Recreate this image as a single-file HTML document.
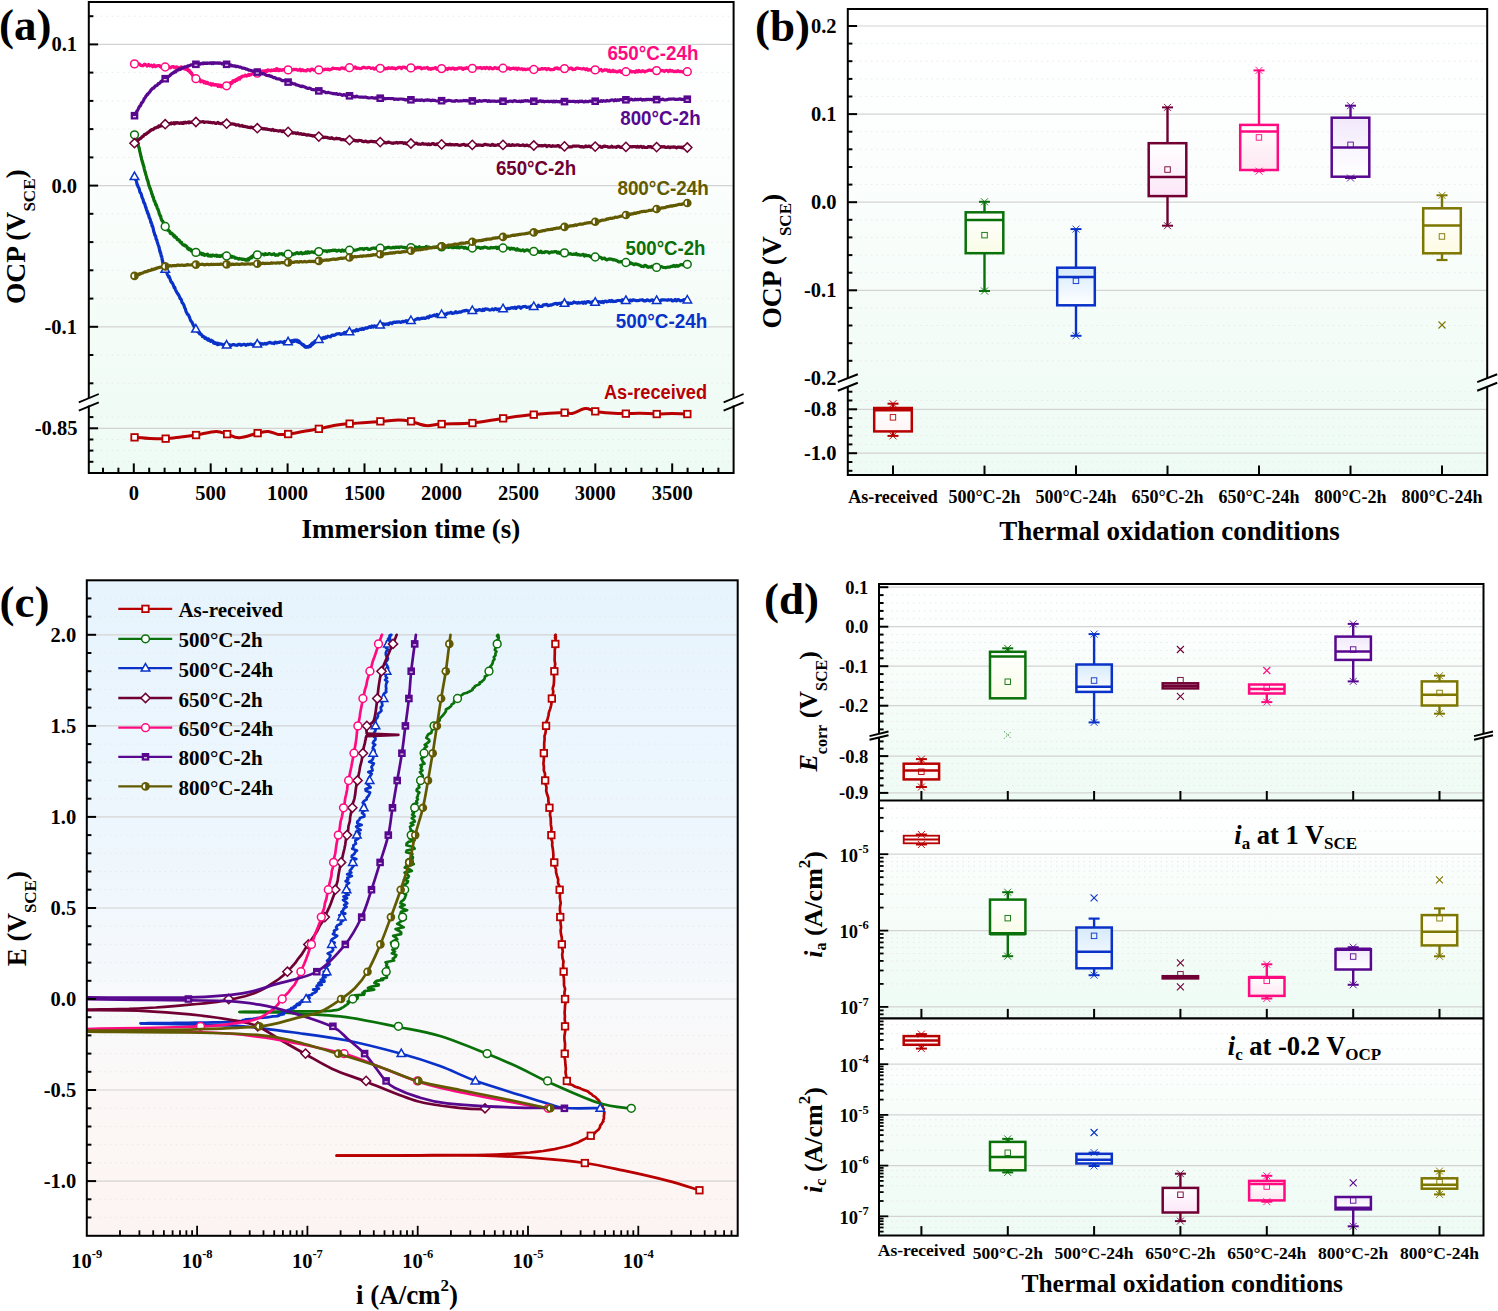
<!DOCTYPE html><html><head><meta charset="utf-8"><title>figure</title><style>html,body{margin:0;padding:0;background:#fff;overflow:hidden}svg{display:block}</style></head><body>
<svg width="1498" height="1311" viewBox="0 0 1498 1311">
<rect width="1498" height="1311" fill="#fff"/>
<defs>
<clipPath id="clipC"><rect x="86.8" y="580.3" width="650.9" height="655.5"/></clipPath>
<linearGradient id="gA" x1="0" y1="0" x2="0" y2="1"><stop offset="0" stop-color="#ffffff"/><stop offset="0.3" stop-color="#fcfefd"/><stop offset="1" stop-color="#eefbf4"/></linearGradient>
<linearGradient id="gB" x1="0" y1="0" x2="0" y2="1"><stop offset="0" stop-color="#ffffff"/><stop offset="0.3" stop-color="#fcfefd"/><stop offset="1" stop-color="#eefbf4"/></linearGradient>
<linearGradient id="gC" x1="0" y1="0" x2="0" y2="1"><stop offset="0" stop-color="#e7f4fd"/><stop offset="0.45" stop-color="#eff7fd"/><stop offset="0.66" stop-color="#f8f9fb"/><stop offset="0.8" stop-color="#fcf7f6"/><stop offset="1" stop-color="#fcf4f2"/></linearGradient>
<linearGradient id="gD1" x1="0" y1="0" x2="0" y2="1"><stop offset="0" stop-color="#ffffff"/><stop offset="1" stop-color="#eefbf4"/></linearGradient>
<linearGradient id="gD2" x1="0" y1="0" x2="0" y2="1"><stop offset="0" stop-color="#ffffff"/><stop offset="1" stop-color="#eefbf4"/></linearGradient>
<linearGradient id="gD3" x1="0" y1="0" x2="0" y2="1"><stop offset="0" stop-color="#ffffff"/><stop offset="1" stop-color="#eefbf4"/></linearGradient>
<linearGradient id="bRed" x1="0" y1="0" x2="0" y2="1"><stop offset="0" stop-color="#ffffff"/><stop offset="1" stop-color="#fff4f4"/></linearGradient>
<linearGradient id="bGreen" x1="0" y1="0" x2="0" y2="1"><stop offset="0" stop-color="#ffffff"/><stop offset="1" stop-color="#f9fce6"/></linearGradient>
<linearGradient id="bBlue" x1="0" y1="0" x2="0" y2="1"><stop offset="0" stop-color="#d6eafb"/><stop offset="1" stop-color="#ffffff"/></linearGradient>
<linearGradient id="bMaroon" x1="0" y1="0" x2="0" y2="1"><stop offset="0" stop-color="#ffffff"/><stop offset="1" stop-color="#fce6f8"/></linearGradient>
<linearGradient id="bPink" x1="0" y1="0" x2="0" y2="1"><stop offset="0" stop-color="#ffffff"/><stop offset="1" stop-color="#fde6f1"/></linearGradient>
<linearGradient id="bPurple" x1="0" y1="0" x2="0" y2="1"><stop offset="0" stop-color="#f1e9fb"/><stop offset="1" stop-color="#ffffff"/></linearGradient>
<linearGradient id="bOlive" x1="0" y1="0" x2="0" y2="1"><stop offset="0" stop-color="#ffffff"/><stop offset="1" stop-color="#fdfbe3"/></linearGradient>
</defs>
<rect x="88.8" y="2.0" width="644.8000000000001" height="470.9" fill="url(#gA)"/>
<line x1="89.8" y1="16.2" x2="732.6" y2="16.2" stroke="#e9e9e9" stroke-width="1" stroke-dasharray="1.5 4"/>
<line x1="89.8" y1="72.6" x2="732.6" y2="72.6" stroke="#e9e9e9" stroke-width="1" stroke-dasharray="1.5 4"/>
<line x1="89.8" y1="100.9" x2="732.6" y2="100.9" stroke="#e9e9e9" stroke-width="1" stroke-dasharray="1.5 4"/>
<line x1="89.8" y1="129.1" x2="732.6" y2="129.1" stroke="#e9e9e9" stroke-width="1" stroke-dasharray="1.5 4"/>
<line x1="89.8" y1="157.4" x2="732.6" y2="157.4" stroke="#e9e9e9" stroke-width="1" stroke-dasharray="1.5 4"/>
<line x1="89.8" y1="213.8" x2="732.6" y2="213.8" stroke="#e9e9e9" stroke-width="1" stroke-dasharray="1.5 4"/>
<line x1="89.8" y1="242.1" x2="732.6" y2="242.1" stroke="#e9e9e9" stroke-width="1" stroke-dasharray="1.5 4"/>
<line x1="89.8" y1="270.3" x2="732.6" y2="270.3" stroke="#e9e9e9" stroke-width="1" stroke-dasharray="1.5 4"/>
<line x1="89.8" y1="298.6" x2="732.6" y2="298.6" stroke="#e9e9e9" stroke-width="1" stroke-dasharray="1.5 4"/>
<line x1="89.8" y1="355" x2="732.6" y2="355" stroke="#e9e9e9" stroke-width="1" stroke-dasharray="1.5 4"/>
<line x1="89.8" y1="383.3" x2="732.6" y2="383.3" stroke="#e9e9e9" stroke-width="1" stroke-dasharray="1.5 4"/>
<line x1="89.8" y1="417.1" x2="732.6" y2="417.1" stroke="#e9e9e9" stroke-width="1" stroke-dasharray="1.5 4"/>
<line x1="89.8" y1="439.5" x2="732.6" y2="439.5" stroke="#e9e9e9" stroke-width="1" stroke-dasharray="1.5 4"/>
<line x1="89.8" y1="450.6" x2="732.6" y2="450.6" stroke="#e9e9e9" stroke-width="1" stroke-dasharray="1.5 4"/>
<line x1="89.8" y1="461.8" x2="732.6" y2="461.8" stroke="#e9e9e9" stroke-width="1" stroke-dasharray="1.5 4"/>
<line x1="89.8" y1="44.4" x2="732.6" y2="44.4" stroke="#d3d3d3" stroke-width="1.2" />
<line x1="89.8" y1="185.6" x2="732.6" y2="185.6" stroke="#d3d3d3" stroke-width="1.2" />
<line x1="89.8" y1="326.8" x2="732.6" y2="326.8" stroke="#d3d3d3" stroke-width="1.2" />
<line x1="89.8" y1="428.3" x2="732.6" y2="428.3" stroke="#d3d3d3" stroke-width="1.2" />
<path d="M134.6 437.3C137.2 437.5 144.8 438.3 150 438.5C155.2 438.7 160.5 438.9 165.7 438.7C170.9 438.4 175.9 437.6 181 437C186.1 436.4 190.2 435.9 196.1 435C201.9 434.1 210.9 431.5 216.1 431.4C221.3 431.3 223.3 433.1 227.2 434.2C231 435.2 234.1 437.9 239.2 437.7C244.3 437.5 252.8 434.2 257.6 433.2C262.4 432.1 264.8 431.2 268.2 431.4C271.6 431.6 274.9 434 278.2 434.4C281.5 434.8 284.1 434.5 288.2 434C292.3 433.5 297.9 432.4 303 431.5C308.1 430.6 313.7 429.8 318.9 428.8C324.1 427.8 328.9 426.4 334 425.5C339.1 424.6 342 424.3 349.7 423.6C357.4 422.9 372.3 422 380.4 421.4C388.5 420.8 393.3 420 398.4 420C403.5 420 406.4 420.5 411 421.4C415.6 422.3 420.9 425.2 426 425.6C431.1 426 433.9 424.4 441.7 424C449.4 423.6 462.3 423.9 472.5 423C482.7 422.1 492.9 419.8 503.1 418.4C513.3 417 523.5 415.6 533.8 414.6C544 413.6 558.2 412.8 564.6 412.6C571 412.4 568.5 414.2 572 413.5C575.5 412.8 581.4 409 585.3 408.6C589.2 408.2 591.2 410.7 595.3 411.4C599.4 412.1 604.9 412.6 610 413C615.1 413.4 620.9 413.6 625.9 413.6C630.9 413.6 634.9 413.1 640 413.2C645.1 413.3 651.5 413.9 656.8 414C662.1 414.1 666.9 413.5 672 413.5C677.1 413.5 684.8 413.9 687.4 414" fill="none" stroke="#b80000" stroke-width="3.0" stroke-linejoin="round" stroke-linecap="round" />
<rect x="131.3" y="434.1" width="6.5" height="6.5" fill="#fff" stroke="#b80000" stroke-width="1.8"/>
<rect x="162.4" y="435.4" width="6.5" height="6.5" fill="#fff" stroke="#b80000" stroke-width="1.8"/>
<rect x="192.8" y="431.8" width="6.5" height="6.5" fill="#fff" stroke="#b80000" stroke-width="1.8"/>
<rect x="223.9" y="430.9" width="6.5" height="6.5" fill="#fff" stroke="#b80000" stroke-width="1.8"/>
<rect x="254.4" y="429.9" width="6.5" height="6.5" fill="#fff" stroke="#b80000" stroke-width="1.8"/>
<rect x="284.9" y="430.8" width="6.5" height="6.5" fill="#fff" stroke="#b80000" stroke-width="1.8"/>
<rect x="315.6" y="425.6" width="6.5" height="6.5" fill="#fff" stroke="#b80000" stroke-width="1.8"/>
<rect x="346.4" y="420.4" width="6.5" height="6.5" fill="#fff" stroke="#b80000" stroke-width="1.8"/>
<rect x="377.1" y="418.1" width="6.5" height="6.5" fill="#fff" stroke="#b80000" stroke-width="1.8"/>
<rect x="407.8" y="418.1" width="6.5" height="6.5" fill="#fff" stroke="#b80000" stroke-width="1.8"/>
<rect x="438.4" y="420.8" width="6.5" height="6.5" fill="#fff" stroke="#b80000" stroke-width="1.8"/>
<rect x="469.2" y="419.8" width="6.5" height="6.5" fill="#fff" stroke="#b80000" stroke-width="1.8"/>
<rect x="499.9" y="415.1" width="6.5" height="6.5" fill="#fff" stroke="#b80000" stroke-width="1.8"/>
<rect x="530.5" y="411.4" width="6.5" height="6.5" fill="#fff" stroke="#b80000" stroke-width="1.8"/>
<rect x="561.4" y="409.4" width="6.5" height="6.5" fill="#fff" stroke="#b80000" stroke-width="1.8"/>
<rect x="592" y="408.1" width="6.5" height="6.5" fill="#fff" stroke="#b80000" stroke-width="1.8"/>
<rect x="622.6" y="410.4" width="6.5" height="6.5" fill="#fff" stroke="#b80000" stroke-width="1.8"/>
<rect x="653.5" y="410.8" width="6.5" height="6.5" fill="#fff" stroke="#b80000" stroke-width="1.8"/>
<rect x="684.1" y="410.8" width="6.5" height="6.5" fill="#fff" stroke="#b80000" stroke-width="1.8"/>
<path d="M134.5 134.8L134.6 134.7L134.6 134.5L134.7 135.6L134.8 134.8L134.9 135.8L135 135.7L135.1 135.4L135.2 136.4L135.3 135.9L135.4 136.8L135.6 136.5L135.7 136.8L135.8 137.7L135.9 138.7L136.1 137.8L136.2 138.3L136.4 139.4L136.5 140.3L136.6 140L136.8 140.2L137 141.6L137.1 140.4L137.3 142.3L137.4 141.8L137.6 142.1L137.7 142.6L137.9 143.4L138 144.9L138.2 144.4L138.4 145.7L138.5 146.4L138.7 146.6L138.9 147.6L139 147.4L139.2 148.1L139.4 149.1L139.6 150.7L139.7 151L139.9 151.6L140.1 152.8L140.3 153.4L140.5 153.9L140.7 155.6L140.9 156.2L141.1 156.3L141.3 157.7L141.5 158.4L141.7 159.9L142 160.5L142.2 160.6L142.4 162.6L142.6 162.1L142.9 163.4L143.1 164.9L143.4 164.8L143.6 166.4L143.9 166.6L144.2 168.6L144.5 169.8L144.7 170.5L145 172L145.3 172.1L145.6 173.8L145.9 174.7L146.2 175.7L146.5 176.5L146.8 178.2L147.1 179.4L147.4 179.7L147.7 181L148 181L148.3 183.1L148.6 184L148.9 185.6L149.2 186.2L149.4 186.2L149.7 187.3L150 188.7L150.3 188.4L150.6 190L150.8 190.4L151.1 191.1L151.4 191.8L151.7 193.8L151.9 193.5L152.2 194.5L152.5 195.5L152.8 197L153 196.4L153.3 197.8L153.6 198.7L153.9 200L154.1 200.6L154.4 201.4L154.7 201.1L155 202L155.2 202.6L155.5 204.2L155.8 205.1L156.1 204.4L156.4 205.2L156.6 206L156.9 206.7L157.2 207.9L157.5 208.8L157.8 209L158.1 209.3L158.4 210.8L158.7 211.4L159 212.5L159.3 214L159.6 214.3L159.8 214.7L160.1 215.7L160.4 216.5L160.7 216.2L161 218.4L161.3 219L161.6 219.9L161.9 220.5L162.2 220.5L162.6 221.2L162.9 221.4L163.2 223L163.5 222.7L163.8 223.3L164.2 224.2L164.5 224.8L164.9 225.7L165.2 225.7L165.6 226.2L165.9 227L166.3 227.4L166.7 228.4L167 228.3L167.4 230.2L167.8 230.2L168.2 229.8L168.6 230.4L169 231L169.4 231.4L169.8 231.4L170.2 233L170.6 233.6L171 233.1L171.4 233.5L171.8 233.2L172.2 233.6L172.6 234.3L173 234.6L173.4 235.9L173.9 235.1L174.3 235.2L174.7 237.2L175.1 236.9L175.5 236.6L175.9 237.7L176.3 237.2L176.8 238.4L177.2 239.6L177.6 239.8L178 239.9L178.5 239.6L178.9 240.2L179.3 240.3L179.8 241.7L180.2 241.7L180.6 242.5L181.1 242.1L181.5 242.4L182 243.7L182.4 244.4L182.8 244.6L183.3 244.9L183.7 245.2L184.1 245.5L184.5 244.9L184.9 245.8L185.4 245.8L185.8 245.6L186.2 245.9L186.6 246.6L186.9 246.9L187.3 247.9L187.7 248.6L188 248L188.4 249.1L188.7 249.4L189 249.6L189.4 248.8L189.7 248.8L190 249L190.3 249.2L190.6 249.4L191 250.3L191.3 251L191.6 251.1L192 250.7L192.3 251.1L192.7 251.6L193 250.5L193.4 251.7L193.8 252.3L194.2 252.2L194.6 252.3L195 252L195.5 251.7L195.9 252.9L196.4 252.3L196.9 253.2L197.4 253.7L198 252.9L198.5 253L199.1 254.1L199.6 253.9L200.2 253L200.8 253.1L201.4 253.3L202 254.7L202.6 254.7L203.2 253.7L203.8 254.9L204.5 255.3L205.1 254.9L205.7 254.5L206.4 254.9L207 254.3L207.6 254.2L208.2 255.9L208.9 255.4L209.5 255.3L210.1 256.1L210.7 255.3L211.3 256.1L211.9 256.1L212.4 255.1L213 255.2L213.6 255.3L214.2 255.3L214.7 255.9L215.3 255.3L215.9 255.6L216.4 255.1L217 256.4L217.5 255.5L218.1 255.7L218.7 255.9L219.2 256.4L219.8 255.6L220.4 256.4L221 255.7L221.6 255.8L222.2 255.8L222.8 254.9L223.4 255.7L224 255.2L224.7 255L225.3 256.4L226 255.4L226.6 256L227.3 256.5L228 256.3L228.8 256L229.5 256.5L230.3 256.7L231.1 257.3L231.9 256.3L232.7 257.2L233.6 256.9L234.4 257.1L235.2 258.2L236.1 257.9L236.9 258.2L237.7 258.7L238.6 259.1L239.4 258.5L240.2 259L241 258.9L241.8 259.1L242.5 259.5L243.3 259.2L244 259.4L244.7 259.4L245.4 260.2L246 259.8L246.6 260.1L247.2 260.2L247.7 259L248.1 259.4L248.6 260L248.9 259.6L249.3 258.3L249.6 258.1L249.9 258.5L250.2 257.6L250.5 257.7L250.8 257.2L251 258L251.3 257.9L251.6 257.9L251.9 256.4L252.2 257.1L252.5 256.8L252.9 255.7L253.3 256.7L253.7 256.7L254.2 255.2L254.7 256.2L255.3 255.1L255.9 255.1L256.6 255.8L257.3 255.5L258.2 254.2L259.1 254.6L260 254.7L261 254.3L262 254L263.1 254.2L264.2 254.9L265.3 253.6L266.5 254.5L267.7 254.3L268.9 253.6L270.2 254.1L271.5 254.6L272.7 254.4L274 253.7L275.3 255.3L276.6 254.9L278 255.2L279.3 253.7L280.6 254L281.9 253.6L283.1 254.8L284.4 254L285.6 253.7L286.9 254.1L288.1 254.9L289.2 254.7L290.4 253.6L291.6 253.4L292.8 254.6L294 253.9L295.1 254L296.3 252.9L297.5 252.7L298.7 253.7L299.9 253.2L301.1 252.4L302.2 253.8L303.4 253.2L304.6 253.3L305.8 252L307 253.2L308.1 251.7L309.3 253L310.5 252.2L311.7 251.9L312.9 252.1L314 252.7L315.2 251.5L316.4 251.1L317.6 251.7L318.8 251.2L320 250.9L321.1 250.9L322.3 250.6L323.5 250.8L324.7 250.9L325.9 250.9L327 251.6L328.2 250.7L329.4 251.1L330.6 250.5L331.8 250.7L332.9 250.1L334.1 250.4L335.3 250L336.5 251.2L337.7 250.8L338.9 250.2L340 250.6L341.2 251.3L342.4 249.9L343.6 251L344.8 250.3L345.9 250.4L347.1 250.9L348.3 250.1L349.5 250.2L350.7 250.5L351.8 250.9L353 249.7L354.2 250.5L355.4 250.2L356.6 250L357.8 249.5L358.9 249.3L360.1 248.7L361.3 248.8L362.5 248.6L363.7 249.6L364.8 248.7L366 248.5L367.2 248.3L368.4 249.5L369.6 249.4L370.7 249L371.9 248.3L373.1 248.1L374.3 248.2L375.5 248.4L376.7 247.8L377.8 248.2L379 247.8L380.2 249L381.4 249L382.6 248.2L383.7 247.6L384.9 248.8L386.1 247.7L387.3 247.7L388.5 247.1L389.6 247.7L390.8 247.8L392 247.9L393.2 247.3L394.4 247.8L395.6 247L396.7 247.4L397.9 247.1L399.1 247.6L400.3 247L401.5 246.9L402.6 247.4L403.8 247.3L405 247.8L406.2 247.7L407.4 248.1L408.5 247.9L409.7 248L410.9 248.2L412.1 247.4L413.3 247.2L414.5 248.3L415.6 246.9L416.8 247.8L418 247.7L419.2 246.6L420.4 247.9L421.5 248L422.7 247.5L423.9 247.6L425.1 247.7L426.3 246.5L427.4 247.1L428.6 247.1L429.8 247.6L431 247.5L432.2 247.5L433.4 247.1L434.5 247.6L435.7 247.2L436.9 247.2L438.1 246.4L439.3 246.1L440.4 246.3L441.6 246.7L442.8 246.2L444 247.5L445.2 247.1L446.3 247.2L447.5 247.2L448.7 247.4L449.9 247.1L451.1 246.3L452.3 247.7L453.4 247.7L454.6 247.3L455.8 247.4L457 247.7L458.2 246.7L459.3 247.9L460.5 247.2L461.7 246.9L462.9 247.3L464.1 248.1L465.2 247.3L466.4 248.2L467.6 248.7L468.8 247.9L470 247.7L471.2 247.9L472.3 248.3L473.5 248.5L474.7 248.2L475.9 248.3L477.1 247.3L478.2 247.4L479.4 247.6L480.6 248.4L481.8 247.6L483 248.1L484.1 247.1L485.3 247.2L486.5 247.5L487.7 248.1L488.9 248.2L490.1 248.1L491.2 247.4L492.4 247.8L493.6 247.7L494.8 247.7L496 247.1L497.1 248.5L498.3 247.3L499.5 248.7L500.7 248.6L501.9 247.1L503 247.9L504.2 248.6L505.4 249L506.6 248.2L507.8 248L509 248L510.1 249.3L511.3 248.2L512.5 249L513.7 248.4L514.9 249.2L516 250.1L517.2 248.8L518.4 250.2L519.6 249.8L520.8 250.6L521.9 250.4L523.1 249.8L524.3 251.1L525.5 250.5L526.7 249.9L527.8 250L529 250.9L530.2 251L531.4 250.9L532.6 250.7L533.8 251.1L534.9 251.2L536.1 252.1L537.3 250.8L538.5 252.1L539.7 252.3L540.8 251.2L542 252.6L543.2 252.3L544.4 252.6L545.6 251.6L546.7 251.8L547.9 251.9L549.1 253L550.3 252.3L551.5 251.9L552.7 252.1L553.8 251.9L555 251.5L556.2 251.7L557.4 253L558.6 252.1L559.7 253.3L560.9 252.2L562.1 252.3L563.3 252.8L564.5 252.4L565.6 252.8L566.8 253.9L568 253.9L569.2 253.9L570.4 253.7L571.6 254.3L572.7 254.5L573.9 254L575.1 254.4L576.3 253.5L577.5 254.8L578.6 254.5L579.8 255.1L581 255.1L582.2 254.7L583.4 254.4L584.5 256.1L585.7 254.9L586.9 255.7L588.1 255.6L589.3 255.7L590.5 256.7L591.6 257.3L592.8 256.2L594 257.1L595.2 256.7L596.4 257.3L597.5 257.2L598.7 257L599.9 257.2L601.1 257.5L602.3 258.9L603.4 258.4L604.6 258.1L605.8 259.5L607 259.9L608.2 259.2L609.4 258.9L610.5 259.2L611.7 259.2L612.9 259.9L614.1 259.7L615.3 260.1L616.4 260.4L617.6 261.1L618.8 261.9L620 261.9L621.2 261.5L622.3 261.7L623.5 262.1L624.7 262.1L625.9 262.2L627.1 262L628.3 262.5L629.4 263.9L630.6 262.7L631.8 263.6L633 264.1L634.2 264.7L635.3 263.8L636.5 264.2L637.7 264.4L638.9 264.9L640.1 265.2L641.2 266.3L642.4 266.3L643.6 266.6L644.8 265.3L646 265.5L647.2 266.9L648.3 267.3L649.5 266.8L650.7 267.1L651.9 266.2L653.1 267L654.2 268L655.4 267.9L656.6 268L657.8 268.2L659.1 267L660.3 266.7L661.6 266.7L663 267.3L664.3 267.5L665.7 267.8L667.1 267.3L668.4 267L669.8 267.1L671.2 266.4L672.5 266.4L673.9 265.4L675.2 266.5L676.5 265.4L677.7 266.3L679 265.7L680.1 265L681.3 264.5L682.3 264.5L683.3 265.1L684.3 265L685.2 263.9L686 263.7L686.7 264.4L687.3 264.3" fill="none" stroke="#0a700a" stroke-width="3.2" stroke-linejoin="round" stroke-linecap="round" />
<circle cx="134.5" cy="134.8" r="3.9" fill="#fff" stroke="#0a700a" stroke-width="1.5"/>
<circle cx="165.2" cy="226.5" r="3.9" fill="#fff" stroke="#0a700a" stroke-width="1.5"/>
<circle cx="195.9" cy="252.4" r="3.9" fill="#fff" stroke="#0a700a" stroke-width="1.5"/>
<circle cx="226.6" cy="256" r="3.9" fill="#fff" stroke="#0a700a" stroke-width="1.5"/>
<circle cx="257.3" cy="254.9" r="3.9" fill="#fff" stroke="#0a700a" stroke-width="1.5"/>
<circle cx="288.1" cy="254.2" r="3.9" fill="#fff" stroke="#0a700a" stroke-width="1.5"/>
<circle cx="318.8" cy="251.6" r="3.9" fill="#fff" stroke="#0a700a" stroke-width="1.5"/>
<circle cx="349.5" cy="250.2" r="3.9" fill="#fff" stroke="#0a700a" stroke-width="1.5"/>
<circle cx="380.2" cy="248.2" r="3.9" fill="#fff" stroke="#0a700a" stroke-width="1.5"/>
<circle cx="410.9" cy="247.6" r="3.9" fill="#fff" stroke="#0a700a" stroke-width="1.5"/>
<circle cx="441.6" cy="246.9" r="3.9" fill="#fff" stroke="#0a700a" stroke-width="1.5"/>
<circle cx="472.3" cy="248" r="3.9" fill="#fff" stroke="#0a700a" stroke-width="1.5"/>
<circle cx="503" cy="248" r="3.9" fill="#fff" stroke="#0a700a" stroke-width="1.5"/>
<circle cx="533.8" cy="251.4" r="3.9" fill="#fff" stroke="#0a700a" stroke-width="1.5"/>
<circle cx="564.5" cy="252.9" r="3.9" fill="#fff" stroke="#0a700a" stroke-width="1.5"/>
<circle cx="595.2" cy="257" r="3.9" fill="#fff" stroke="#0a700a" stroke-width="1.5"/>
<circle cx="625.9" cy="262.5" r="3.9" fill="#fff" stroke="#0a700a" stroke-width="1.5"/>
<circle cx="656.6" cy="267.4" r="3.9" fill="#fff" stroke="#0a700a" stroke-width="1.5"/>
<circle cx="687.3" cy="264.3" r="3.9" fill="#fff" stroke="#0a700a" stroke-width="1.5"/>
<path d="M134.5 176.6L134.7 177.3L135 177.7L135.3 178.2L135.6 179.7L135.9 179.6L136.3 181.1L136.7 182.5L137.1 184.4L137.5 185L138 186.6L138.4 187.2L138.9 188L139.3 189.3L139.8 191.8L140.3 192.7L140.8 193.3L141.3 194.2L141.7 196.3L142.2 197.8L142.7 198.7L143.1 199.6L143.5 201.5L144 203.1L144.4 203L144.7 203.7L145.1 205.2L145.4 206.3L145.8 207.7L146.1 207.7L146.4 209.6L146.7 210.3L147 210.7L147.2 211L147.5 213L147.8 212.7L148.1 214.3L148.3 214L148.6 214.7L148.8 216.3L149.1 216.3L149.3 218.1L149.6 218.1L149.8 218.3L150.1 219.1L150.4 220.2L150.6 221.4L150.9 222.6L151.2 222.1L151.4 223.3L151.7 223.9L152 226.1L152.3 225.6L152.6 226.4L152.9 227.4L153.3 229L153.6 230.9L153.9 232L154.3 232.8L154.6 234.4L155 235.5L155.4 235.6L155.7 236.5L156.1 239L156.4 239.8L156.8 239.8L157.2 242.1L157.5 242.7L157.9 243.9L158.2 245L158.5 245.8L158.9 246.6L159.2 248.2L159.5 249.4L159.8 251.4L160.1 251L160.4 253.3L160.7 252.9L160.9 254.1L161.1 255.6L161.4 256.4L161.5 256.4L161.7 256.4L161.9 257.8L162 258.2L162.1 259.7L162.2 259L162.3 259.8L162.4 261.2L162.5 260.2L162.6 261.3L162.7 262.4L162.8 262.8L162.9 262L163.1 262.5L163.2 263L163.3 265L163.5 264.4L163.7 265.7L163.9 266.6L164.1 266.2L164.3 266.7L164.6 268.6L164.9 268.7L165.2 268.9L165.6 270.5L166 270.6L166.4 271.4L166.8 271.9L167.2 274L167.7 275.2L168.2 275.7L168.7 277.2L169.2 276.6L169.7 278L170.2 279.4L170.8 281.2L171.3 282.3L171.9 282.4L172.5 283.2L173.1 284.6L173.6 285.8L174.2 287.7L174.8 287.5L175.4 289.7L176 290.7L176.6 292L177.2 293L177.8 293.9L178.4 294.6L179 295.7L179.6 296.9L180.2 298.9L180.9 298.9L181.5 300.4L182.1 302.7L182.8 303.2L183.4 304.3L184.1 305.6L184.7 307.9L185.4 308.9L186 311.5L186.7 312.7L187.4 314.3L188.1 314.5L188.7 315.6L189.4 316.9L190.1 319L190.7 320.6L191.4 321.5L192.1 322.3L192.7 323.8L193.4 325.3L194 326.5L194.7 327.7L195.3 328.8L195.9 329.4L196.5 329.3L197.2 331.3L197.8 331.1L198.4 332.3L199 332.6L199.6 333.9L200.2 333.5L200.8 334.2L201.4 334.7L201.9 335L202.5 336.7L203.1 336.6L203.7 336.6L204.3 337.1L204.9 338.4L205.4 338L206 337.8L206.6 339.1L207.2 339.2L207.8 340.1L208.3 338.8L208.9 339.8L209.5 340.6L210.1 341L210.7 341.4L211.3 340.2L211.9 340.9L212.4 340.9L213 341.3L213.5 342.9L214 342.5L214.5 343.3L215 342.6L215.5 343.6L216 343.1L216.5 343L217 344L217.5 344.5L218 343.2L218.5 344.2L219.1 344.3L219.6 343.8L220.2 344.1L220.8 343.9L221.4 344.1L222 344.3L222.7 344.9L223.4 345.1L224.2 344.4L225 344.1L225.8 344.7L226.6 345.4L227.5 344.6L228.5 344.9L229.5 344.7L230.5 345.7L231.6 345.3L232.7 344.5L233.8 344.5L235 345L236.1 345.2L237.3 345.3L238.5 344.4L239.8 344.4L241 345.3L242.3 344.7L243.6 344.4L244.8 344.4L246.1 345.4L247.4 344.3L248.7 344.6L249.9 344.2L251.2 344.2L252.5 344.9L253.7 345.1L254.9 343.9L256.2 343.6L257.3 344.4L258.5 343.4L259.8 343L261 344.5L262.3 343.6L263.6 344.2L264.9 343.4L266.2 344.1L267.5 343.3L268.8 342.7L270.1 342.3L271.5 343.2L272.8 343.2L274 343.6L275.3 342.1L276.6 342.9L277.8 342.4L279 342.5L280.2 341.8L281.3 342L282.4 342.3L283.5 342.9L284.5 341.4L285.5 342L286.4 342.4L287.3 342.7L288.1 341.3L288.8 341.1L289.5 342.4L290.1 342.4L290.6 341.5L291.2 340.7L291.6 342.1L292.1 341.1L292.4 341.9L292.8 341.3L293.1 341.6L293.4 340.4L293.7 341.4L293.9 340.4L294.2 340.7L294.4 341.4L294.6 341.3L294.8 340.2L295.1 340.2L295.3 340.5L295.5 340.7L295.7 340.5L296 340.1L296.3 340.3L296.6 341.2L296.9 341.6L297.3 340.2L297.7 341.2L298 341.7L298.4 340.7L298.8 342.3L299.2 341.3L299.6 342.4L300 342.6L300.4 343.1L300.8 342.9L301.2 343.4L301.6 344L302 344.1L302.4 344.9L302.8 344.8L303.2 345.2L303.6 344.8L304 346.1L304.4 346.2L304.8 346L305.2 347.1L305.7 347.3L306.1 347L306.5 346.6L306.9 347.2L307.3 346.6L307.7 346.7L308.1 347.1L308.5 346.5L308.8 346.9L309.2 346.9L309.5 345.9L309.8 346.7L310.1 345.5L310.4 346.3L310.7 346.1L311 345.3L311.3 344.2L311.7 344.6L312 344.1L312.3 344.7L312.7 342.9L313.1 343.7L313.5 343.6L313.9 342.7L314.4 342.5L314.9 341.1L315.4 342L316 340.8L316.6 341.3L317.3 340.8L318 339.2L318.8 340L319.6 339.9L320.5 338.2L321.4 338.3L322.4 338.7L323.4 337.4L324.5 338.4L325.6 337L326.8 337.6L327.9 336.2L329.2 336.5L330.4 336.9L331.6 335.4L332.9 335.2L334.2 335.3L335.5 334.7L336.8 333.9L338.1 333.8L339.4 333.5L340.7 334.5L342 333.8L343.3 333.9L344.6 332.4L345.8 333.1L347.1 331.7L348.3 332.1L349.5 332L350.7 331.3L351.8 331.9L353 331.1L354.2 330.8L355.4 331.1L356.6 329.5L357.8 330.7L358.9 329.8L360.1 329.1L361.3 329.6L362.5 328.4L363.7 329.4L364.8 328.4L366 327.8L367.2 328.2L368.4 327.4L369.6 326.7L370.7 327.4L371.9 326L373.1 327L374.3 325.8L375.5 326.2L376.7 326.6L377.8 325.7L379 325.6L380.2 324.8L381.4 324L382.6 323.9L383.7 323.9L384.9 324.5L386.1 324L387.3 323.9L388.5 324.4L389.6 323L390.8 322.9L392 323.5L393.2 322.3L394.4 322.1L395.6 322.5L396.7 321.9L397.9 322.2L399.1 321.8L400.3 322.3L401.5 322.1L402.6 321.3L403.8 321.8L405 321.4L406.2 320.6L407.4 321.8L408.5 320.5L409.7 320.1L410.9 319.8L412.1 320.5L413.3 320.7L414.5 320.3L415.6 319.5L416.8 319L418 318.3L419.2 319.2L420.4 318.8L421.5 318.2L422.7 318.5L423.9 317.9L425.1 318.5L426.3 317.9L427.4 316.8L428.6 317.7L429.8 316L431 316.5L432.2 316.1L433.4 315.6L434.5 315L435.7 316L436.9 314.5L438.1 315.2L439.3 315.6L440.4 314.1L441.6 314L442.8 314.5L444 314.1L445.2 314.2L446.3 314.3L447.5 313L448.7 313.1L449.9 312.9L451.1 312.3L452.3 313.5L453.4 313.2L454.6 312.9L455.8 311.6L457 312.8L458.2 312.5L459.3 311.9L460.5 312.2L461.7 311.6L462.9 311L464.1 310.7L465.2 310.8L466.4 310.3L467.6 310.7L468.8 311.3L470 311.1L471.2 311.2L472.3 310.9L473.5 310L474.7 310.4L475.9 310.1L477.1 310.6L478.2 310.1L479.4 309.5L480.6 310.1L481.8 310.6L483 309.2L484.1 310.3L485.3 308.8L486.5 309.1L487.7 309L488.9 309.8L490.1 310.1L491.2 309.7L492.4 309L493.6 309.9L494.8 308.9L496 308.7L497.1 309.7L498.3 309.2L499.5 309.2L500.7 309.1L501.9 309.6L503 308.6L504.2 309.2L505.4 308.9L506.6 309.1L507.8 308.3L509 308.7L510.1 308.4L511.3 307.8L512.5 307.6L513.7 308.2L514.9 307.2L516 308.5L517.2 307.2L518.4 306.9L519.6 306.9L520.8 308.3L521.9 307.2L523.1 306.7L524.3 306.5L525.5 306.4L526.7 307.4L527.8 307.2L529 307.2L530.2 307.2L531.4 306L532.6 306.8L533.8 306.3L534.9 306.9L536.1 306.8L537.3 306.8L538.5 305.3L539.7 306.5L540.8 306.5L542 306.4L543.2 304.9L544.4 304.9L545.6 304.6L546.7 304.3L547.9 305.6L549.1 305.4L550.3 304.9L551.5 305.1L552.7 304.6L553.8 303.9L555 303.5L556.2 303.4L557.4 304.4L558.6 303.3L559.7 303.4L560.9 303.5L562.1 302.7L563.3 303L564.5 302.9L565.6 303.6L566.8 302.9L568 302.8L569.2 303.8L570.4 303L571.6 303.5L572.7 303.1L573.9 302L575.1 302.6L576.3 302.6L577.5 303.2L578.6 302.4L579.8 303L581 302.7L582.2 302.1L583.4 303.2L584.5 301.9L585.7 303.1L586.9 301.9L588.1 301.6L589.3 301.9L590.5 302.8L591.6 303.2L592.8 301.5L594 302.2L595.2 302.2L596.4 302.6L597.5 301.5L598.7 302L599.9 301.7L601.1 302.4L602.3 301.4L603.4 302.5L604.6 301.3L605.8 301.1L607 301.8L608.2 301.4L609.4 300.6L610.5 301.5L611.7 300.4L612.9 301.6L614.1 301.3L615.3 301.4L616.4 301.1L617.6 300.5L618.8 300.5L620 300.5L621.2 301.2L622.3 299.8L623.5 301.1L624.7 299.6L625.9 299.9L627.1 300L628.3 301L629.4 300.3L630.6 300.1L631.8 300.9L633 299.8L634.2 300.2L635.3 300.3L636.5 300.7L637.7 300.7L638.9 300.5L640.1 300L641.2 300L642.4 299.7L643.6 300.9L644.8 300.6L646 300.8L647.2 299.8L648.3 300.3L649.5 300.9L650.7 300.5L651.9 299.8L653.1 300.3L654.2 301.1L655.4 300L656.6 299.9L657.8 300.1L659.1 300.7L660.3 301L661.6 299.8L663 299.8L664.3 299.9L665.7 300L667.1 300.3L668.4 299.7L669.8 300L671.2 299.7L672.5 301L673.9 300.6L675.2 299.5L676.5 300.9L677.7 299.5L679 299.9L680.1 300.9L681.3 300.6L682.3 300.5L683.3 299.9L684.3 299.5L685.2 300.3L686 299.4L686.7 299.5L687.3 300" fill="none" stroke="#0a32c8" stroke-width="3.2" stroke-linejoin="round" stroke-linecap="round" />
<path d="M134.5 172.1L138.8 179.6L130.2 179.6Z" fill="#fff" stroke="#0a32c8" stroke-width="1.5" stroke-linejoin="miter"/>
<path d="M165.2 264.8L169.5 272.3L161 272.3Z" fill="#fff" stroke="#0a32c8" stroke-width="1.5" stroke-linejoin="miter"/>
<path d="M195.9 324.6L200.2 332.1L191.7 332.1Z" fill="#fff" stroke="#0a32c8" stroke-width="1.5" stroke-linejoin="miter"/>
<path d="M226.6 340.6L230.9 348.1L222.4 348.1Z" fill="#fff" stroke="#0a32c8" stroke-width="1.5" stroke-linejoin="miter"/>
<path d="M257.3 339.5L261.6 347L253.1 347Z" fill="#fff" stroke="#0a32c8" stroke-width="1.5" stroke-linejoin="miter"/>
<path d="M288.1 337.3L292.3 344.8L283.8 344.8Z" fill="#fff" stroke="#0a32c8" stroke-width="1.5" stroke-linejoin="miter"/>
<path d="M318.8 335L323 342.5L314.5 342.5Z" fill="#fff" stroke="#0a32c8" stroke-width="1.5" stroke-linejoin="miter"/>
<path d="M349.5 327.3L353.7 334.8L345.2 334.8Z" fill="#fff" stroke="#0a32c8" stroke-width="1.5" stroke-linejoin="miter"/>
<path d="M380.2 320.6L384.4 328.1L375.9 328.1Z" fill="#fff" stroke="#0a32c8" stroke-width="1.5" stroke-linejoin="miter"/>
<path d="M410.9 316L415.2 323.5L406.7 323.5Z" fill="#fff" stroke="#0a32c8" stroke-width="1.5" stroke-linejoin="miter"/>
<path d="M441.6 310L445.9 317.5L437.4 317.5Z" fill="#fff" stroke="#0a32c8" stroke-width="1.5" stroke-linejoin="miter"/>
<path d="M472.3 306L476.6 313.5L468.1 313.5Z" fill="#fff" stroke="#0a32c8" stroke-width="1.5" stroke-linejoin="miter"/>
<path d="M503 304.2L507.3 311.7L498.8 311.7Z" fill="#fff" stroke="#0a32c8" stroke-width="1.5" stroke-linejoin="miter"/>
<path d="M533.8 302L538 309.5L529.5 309.5Z" fill="#fff" stroke="#0a32c8" stroke-width="1.5" stroke-linejoin="miter"/>
<path d="M564.5 298.8L568.7 306.3L560.2 306.3Z" fill="#fff" stroke="#0a32c8" stroke-width="1.5" stroke-linejoin="miter"/>
<path d="M595.2 297.7L599.4 305.2L590.9 305.2Z" fill="#fff" stroke="#0a32c8" stroke-width="1.5" stroke-linejoin="miter"/>
<path d="M625.9 295.9L630.1 303.4L621.6 303.4Z" fill="#fff" stroke="#0a32c8" stroke-width="1.5" stroke-linejoin="miter"/>
<path d="M656.6 295.9L660.9 303.4L652.4 303.4Z" fill="#fff" stroke="#0a32c8" stroke-width="1.5" stroke-linejoin="miter"/>
<path d="M687.3 295.5L691.6 303L683.1 303Z" fill="#fff" stroke="#0a32c8" stroke-width="1.5" stroke-linejoin="miter"/>
<path d="M134.5 143.2L134.8 142.8L135.2 142.1L135.6 142.2L136 142.3L136.5 141.8L137 141.1L137.5 140.8L138.1 140.1L138.7 139.2L139.3 139.3L139.9 138.5L140.6 138.4L141.2 138L141.9 136.9L142.6 136.5L143.3 136.2L143.9 135.2L144.6 134.4L145.3 134.5L146 134.2L146.7 133.5L147.3 132.9L148 132.7L148.6 132L149.3 131.6L149.9 130.9L150.4 130.4L151 130.4L151.6 129.5L152.2 129.5L152.8 129.6L153.4 129.2L154 128.8L154.6 128L155.2 127.9L155.8 127.7L156.4 127.6L156.9 127.1L157.5 127.1L158.1 127.2L158.7 126L159.3 126.3L159.9 126.3L160.5 125.6L161.1 125.5L161.7 125.8L162.3 124.5L162.8 124.9L163.4 124.3L164 124.9L164.6 124.9L165.2 124.2L165.8 123.6L166.4 124L167 123.9L167.6 124L168.2 123.6L168.8 123.7L169.3 123.9L169.9 123.5L170.5 123.3L171.1 123.9L171.7 123L172.3 123.5L172.9 123.2L173.5 123.6L174.1 122.8L174.7 123.8L175.3 123.1L175.8 122.7L176.4 123L177 123.1L177.6 122.6L178.2 123.1L178.8 123.1L179.4 123.4L180 123L180.6 122.8L181.1 122.7L181.7 123.3L182.2 123.5L182.8 122.9L183.3 122.5L183.8 123.2L184.3 122.6L184.8 122.3L185.3 122.2L185.8 122.9L186.3 122.9L186.8 122.6L187.3 122.3L187.8 122.4L188.3 121.9L188.9 122.8L189.5 122L190.1 122.3L190.7 122.5L191.3 122.4L192 122L192.7 121.8L193.5 122.1L194.2 121.5L195.1 122.4L195.9 121.8L196.8 122.4L197.8 121.8L198.8 121.9L199.8 121.8L200.9 122L202 121.8L203.1 121.6L204.2 122.5L205.4 122L206.6 122L207.8 122.1L209.1 122.4L210.3 122.4L211.6 122.7L212.8 122.8L214.1 122.5L215.4 123.3L216.7 123.3L218 122.4L219.2 123.5L220.5 123.6L221.8 123.6L223 122.9L224.2 123.9L225.4 123.7L226.6 123.1L227.8 123.2L229 124.5L230.2 124.3L231.4 123.9L232.5 123.9L233.7 124.1L234.9 124.4L236.1 125.2L237.3 124.9L238.4 124.8L239.6 125.9L240.8 126L242 125.4L243.2 126.5L244.4 126.3L245.5 126.7L246.7 126.8L247.9 127.3L249.1 127.3L250.3 127.6L251.4 127L252.6 127.8L253.8 127.7L255 128.2L256.2 128L257.3 128.7L258.5 128.4L259.7 128.2L260.9 128.3L262.1 128.4L263.3 128.9L264.4 128.6L265.6 129.2L266.8 128.9L268 129.5L269.2 129.6L270.3 129.8L271.5 130.3L272.7 129.4L273.9 130.6L275.1 130.3L276.2 130.5L277.4 130.8L278.6 131.1L279.8 130.7L281 130.9L282.2 131.7L283.3 130.8L284.5 131.6L285.7 131.7L286.9 131.2L288.1 132L289.2 132.3L290.4 132.7L291.6 132.2L292.8 133.2L294 132.8L295.1 132.9L296.3 133.6L297.5 132.8L298.7 133.8L299.9 133.8L301.1 133.7L302.2 134.5L303.4 134.1L304.6 134.4L305.8 134.7L307 135.2L308.1 134.7L309.3 135.1L310.5 135.3L311.7 135.6L312.9 136.1L314 135.7L315.2 136.5L316.4 136.2L317.6 136.4L318.8 136.3L320 136.8L321.1 137.5L322.3 137.3L323.5 137.6L324.7 137.2L325.9 137.3L327 137.4L328.2 137.9L329.4 138.1L330.6 138.4L331.8 137.7L332.9 138.6L334.1 139L335.3 138.7L336.5 138.2L337.7 138.7L338.9 138.5L340 138.8L341.2 139.8L342.4 139.5L343.6 139.7L344.8 140L345.9 140.3L347.1 140L348.3 140.1L349.5 140.3L350.7 140.4L351.8 140.4L353 140.6L354.2 140.2L355.4 140.8L356.6 140.6L357.8 141.1L358.9 140.4L360.1 140.5L361.3 140.5L362.5 141.4L363.7 141.7L364.8 141.4L366 141.1L367.2 141.8L368.4 141.8L369.6 141.6L370.7 141.3L371.9 141.4L373.1 141.6L374.3 141.6L375.5 141.8L376.7 142.1L377.8 142.5L379 141.5L380.2 142.2L381.4 141.6L382.6 141.8L383.7 142.7L384.9 142.4L386.1 142.9L387.3 142.4L388.5 142L389.6 142.5L390.8 142.8L392 143.2L393.2 143.3L394.4 142.8L395.6 142.8L396.7 142.4L397.9 143.1L399.1 142.7L400.3 142.7L401.5 142.5L402.6 142.6L403.8 143.4L405 142.8L406.2 143.9L407.4 142.9L408.5 143.9L409.7 143L410.9 142.9L412.1 143.8L413.3 143.3L414.5 143.9L415.6 143.3L416.8 143.2L418 144.1L419.2 144L420.4 144.3L421.5 144.1L422.7 143.4L423.9 144.1L425.1 144.2L426.3 144L427.4 144.6L428.6 143.8L429.8 144.7L431 144.4L432.2 143.6L433.4 143.6L434.5 144.4L435.7 144.6L436.9 143.8L438.1 144.1L439.3 144.6L440.4 144L441.6 144.8L442.8 144.4L444 143.9L445.2 144.3L446.3 144.6L447.5 144.5L448.7 144.8L449.9 144.2L451.1 145L452.3 144.5L453.4 144.8L454.6 144.8L455.8 144.6L457 144.6L458.2 145.1L459.3 145.3L460.5 145.1L461.7 144.9L462.9 144.5L464.1 144.3L465.2 145.4L466.4 145.1L467.6 145.2L468.8 144.7L470 145L471.2 145.5L472.3 145.3L473.5 145L474.7 144.7L475.9 144.8L477.1 145.4L478.2 144.8L479.4 145.1L480.6 145L481.8 145.4L483 145.3L484.1 144.6L485.3 144.3L486.5 144.6L487.7 144.8L488.9 145L490.1 145.3L491.2 145.3L492.4 144.3L493.6 145.3L494.8 145.2L496 145.3L497.1 145L498.3 144.6L499.5 145.3L500.7 145.3L501.9 145.1L503 145.4L504.2 144.7L505.4 144.4L506.6 145L507.8 145.3L509 144.6L510.1 145.3L511.3 145.5L512.5 144.7L513.7 145.2L514.9 145.3L516 145.1L517.2 144.8L518.4 144.8L519.6 145.5L520.8 145.5L521.9 145.2L523.1 144.8L524.3 145.6L525.5 145.6L526.7 145L527.8 145.5L529 145.9L530.2 145.9L531.4 145.5L532.6 145.4L533.8 145.6L534.9 145.2L536.1 145.2L537.3 145.2L538.5 145.9L539.7 145.5L540.8 145.8L542 145.6L543.2 145.8L544.4 145.4L545.6 145.3L546.7 146.5L547.9 145.8L549.1 145.5L550.3 146.2L551.5 146.4L552.7 145.7L553.8 146.2L555 146L556.2 146.2L557.4 145.7L558.6 145.7L559.7 146.9L560.9 146.8L562.1 146.3L563.3 146.5L564.5 146.1L565.6 146.8L566.8 146.3L568 147L569.2 146.8L570.4 146.9L571.6 147L572.7 146.2L573.9 146L575.1 146.2L576.3 146.1L577.5 146L578.6 146L579.8 146.6L581 147L582.2 146.5L583.4 147.1L584.5 147L585.7 146L586.9 146.7L588.1 146.4L589.3 146.1L590.5 147.1L591.6 146.3L592.8 146.7L594 146.8L595.2 147.1L596.4 146.8L597.5 146.5L598.7 146.6L599.9 146.2L601.1 147.2L602.3 147.3L603.4 146.3L604.6 146.1L605.8 146.4L607 146.5L608.2 147.2L609.4 147.2L610.5 147.2L611.7 146.2L612.9 147.1L614.1 147L615.3 147L616.4 147.4L617.6 146.3L618.8 146.4L620 147.2L621.2 147.4L622.3 147.1L623.5 146.6L624.7 147L625.9 147.2L627.1 146.4L628.3 146.7L629.4 146.6L630.6 146.5L631.8 146.9L633 146.6L634.2 146.6L635.3 146.5L636.5 147.2L637.7 146.4L638.9 147.2L640.1 146.6L641.2 146.4L642.4 147.5L643.6 146.7L644.8 147.5L646 147.5L647.2 147.5L648.3 146.6L649.5 147L650.7 146.6L651.9 147.6L653.1 147.5L654.2 147.2L655.4 147L656.6 146.9L657.8 147.5L659.1 147.1L660.3 147.3L661.6 146.7L663 146.8L664.3 146.7L665.7 147.5L667.1 147.3L668.4 146.8L669.8 147.7L671.2 147L672.5 147.2L673.9 146.9L675.2 147.1L676.5 147.8L677.7 147.2L679 147L680.1 147.4L681.3 147.2L682.3 147.9L683.3 147L684.3 148L685.2 146.9L686 148L686.7 147.7L687.3 147.5" fill="none" stroke="#700034" stroke-width="3.2" stroke-linejoin="round" stroke-linecap="round" />
<path d="M134.5 138.6L139.1 143.2L134.5 147.8L129.9 143.2Z" fill="#fff" stroke="#700034" stroke-width="1.5"/>
<path d="M165.2 119.6L169.8 124.2L165.2 128.8L160.6 124.2Z" fill="#fff" stroke="#700034" stroke-width="1.5"/>
<path d="M195.9 117.4L200.5 122L195.9 126.6L191.3 122Z" fill="#fff" stroke="#700034" stroke-width="1.5"/>
<path d="M226.6 119.1L231.2 123.7L226.6 128.3L222 123.7Z" fill="#fff" stroke="#700034" stroke-width="1.5"/>
<path d="M257.3 123.6L261.9 128.2L257.3 132.8L252.7 128.2Z" fill="#fff" stroke="#700034" stroke-width="1.5"/>
<path d="M288.1 127.3L292.7 131.9L288.1 136.5L283.5 131.9Z" fill="#fff" stroke="#700034" stroke-width="1.5"/>
<path d="M318.8 132L323.4 136.6L318.8 141.2L314.2 136.6Z" fill="#fff" stroke="#700034" stroke-width="1.5"/>
<path d="M349.5 135.5L354.1 140.1L349.5 144.7L344.9 140.1Z" fill="#fff" stroke="#700034" stroke-width="1.5"/>
<path d="M380.2 137.5L384.8 142.1L380.2 146.7L375.6 142.1Z" fill="#fff" stroke="#700034" stroke-width="1.5"/>
<path d="M410.9 138.9L415.5 143.5L410.9 148.1L406.3 143.5Z" fill="#fff" stroke="#700034" stroke-width="1.5"/>
<path d="M441.6 139.8L446.2 144.4L441.6 149L437 144.4Z" fill="#fff" stroke="#700034" stroke-width="1.5"/>
<path d="M472.3 140.3L476.9 144.9L472.3 149.5L467.7 144.9Z" fill="#fff" stroke="#700034" stroke-width="1.5"/>
<path d="M503 140.3L507.6 144.9L503 149.5L498.4 144.9Z" fill="#fff" stroke="#700034" stroke-width="1.5"/>
<path d="M533.8 140.9L538.4 145.5L533.8 150.1L529.2 145.5Z" fill="#fff" stroke="#700034" stroke-width="1.5"/>
<path d="M564.5 141.8L569.1 146.4L564.5 151L559.9 146.4Z" fill="#fff" stroke="#700034" stroke-width="1.5"/>
<path d="M595.2 142L599.8 146.6L595.2 151.2L590.6 146.6Z" fill="#fff" stroke="#700034" stroke-width="1.5"/>
<path d="M625.9 142.3L630.5 146.9L625.9 151.5L621.3 146.9Z" fill="#fff" stroke="#700034" stroke-width="1.5"/>
<path d="M656.6 142.5L661.2 147.1L656.6 151.7L652 147.1Z" fill="#fff" stroke="#700034" stroke-width="1.5"/>
<path d="M687.3 142.9L691.9 147.5L687.3 152.1L682.7 147.5Z" fill="#fff" stroke="#700034" stroke-width="1.5"/>
<path d="M134.5 63.9L135.1 63.4L135.9 64L136.7 63.7L137.6 63.8L138.6 63.8L139.7 64.2L140.8 65.5L142 65.6L143.2 65.6L144.5 64.2L145.8 64.7L147.2 66L148.6 64.5L149.9 65.9L151.3 65.2L152.7 66.7L154.1 65L155.5 66.6L156.8 65.9L158.2 65.6L159.5 65.5L160.7 67.2L161.9 66.7L163.1 66.2L164.2 66.8L165.2 67.8L166.2 66.6L167.2 67.3L168.1 66.5L169.1 66.7L170 67.8L170.9 67.7L171.8 66.8L172.7 66.6L173.6 66.6L174.5 67.6L175.3 67.4L176.1 67L177 66.9L177.8 67.7L178.5 67.9L179.3 68.2L180.1 67.8L180.8 67.1L181.5 66.9L182.2 68.3L182.9 67.8L183.6 68.5L184.2 67.4L184.9 69L185.5 68.3L186.1 69.4L186.7 69.7L187.2 69.3L187.7 68.7L188.1 70.7L188.6 70.2L189 71.3L189.4 70.5L189.7 70.8L190 72.4L190.4 71.9L190.7 72L191 72.8L191.3 73.7L191.6 73L191.9 74.4L192.1 74.7L192.4 75.3L192.8 75L193.1 76.5L193.4 77.1L193.8 77.6L194.1 77L194.5 78.1L195 77.8L195.4 78.9L195.9 77.9L196.4 79.7L197 80.2L197.6 79.6L198.1 79.9L198.8 80.2L199.4 80.5L200 79.8L200.7 81.9L201.3 80.7L202 80.9L202.7 81L203.3 81.5L204 82.9L204.7 81.6L205.4 81.9L206.1 83.3L206.8 82.6L207.5 82.4L208.2 83.7L208.8 83.9L209.5 84L210.2 84.5L210.8 83.5L211.4 85.1L212.1 85L212.7 83.8L213.3 84.1L213.8 84.9L214.4 85.1L215 84.8L215.6 84.6L216.2 85.2L216.8 84.8L217.4 85.7L218 86.3L218.6 85L219.2 85.9L219.8 86.3L220.3 85.2L220.9 86.5L221.4 86.8L222 85.7L222.5 85.8L223 86.6L223.5 86L224 85.8L224.5 86.8L225 86.5L225.4 85.6L225.8 85.4L226.2 85.5L226.6 85.7L227 86.7L227.3 86.3L227.6 86.4L227.9 86.1L228.2 86.1L228.4 84.4L228.7 85.2L228.9 85.9L229.1 85.7L229.2 84.3L229.4 84.5L229.6 84.7L229.7 84.1L229.9 84.2L230.1 83.2L230.2 83.7L230.4 83.6L230.6 82.5L230.7 82.6L230.9 84L231.1 83.4L231.4 83.6L231.6 82.8L231.9 82.9L232.2 82.9L232.5 82.7L232.8 80.9L233.1 81.9L233.5 81L233.9 81.6L234.2 80.6L234.6 80.9L235 81.4L235.4 80.6L235.8 79.7L236.2 79.9L236.6 79.6L237.1 80.3L237.5 78.8L237.9 78.6L238.4 79L238.8 77.8L239.3 78.5L239.8 79L240.2 77.9L240.7 77.2L241.2 77.4L241.6 77.3L242.1 76.4L242.6 76.1L243 76L243.5 76.1L244 76.2L244.5 75.8L245 75.5L245.5 75.1L246 75.8L246.5 76.2L247 75.7L247.5 75.5L248.1 75.5L248.6 74.5L249.1 75.3L249.7 74.8L250.2 74.8L250.7 74.8L251.3 74.4L251.8 74L252.4 73.8L252.9 73.6L253.5 74.1L254 73.7L254.6 74L255.1 72.8L255.7 73.3L256.2 74.1L256.8 72.8L257.3 73.3L257.9 73.1L258.5 72.5L259 73.7L259.6 72.3L260.2 73L260.7 71.7L261.3 71.4L261.9 72.8L262.4 71.8L263 70.9L263.6 71.4L264.2 71.4L264.8 71.8L265.3 70.5L265.9 70.5L266.5 71.8L267.1 71.3L267.7 70L268.3 70.2L268.9 70.2L269.4 70.7L270 70.4L270.6 70.8L271.2 70.7L271.8 70L272.4 70.4L273 70.3L273.5 70.3L274.1 69.7L274.6 70.3L275.1 70.1L275.7 70.5L276.2 69L276.7 70.4L277.2 68.7L277.7 70.2L278.2 69.8L278.7 69.7L279.2 70.6L279.8 69.8L280.3 69.6L280.9 70.3L281.5 70.5L282.1 70L282.7 69.6L283.4 69.7L284.1 69.8L284.8 70.3L285.6 69.5L286.4 69.7L287.2 70L288.1 69.7L289 69.6L289.9 70.5L290.9 70.6L292 69.9L293 69.8L294.1 69.3L295.2 69.6L296.4 69.3L297.6 70.1L298.8 70.2L300 69.2L301.2 70.8L302.5 69.7L303.7 70.7L305 70.7L306.3 70.9L307.6 69.5L308.8 69.9L310.1 70.8L311.4 69.1L312.6 69.2L313.9 70.1L315.1 70L316.4 70.8L317.6 70.5L318.8 70L320 70.8L321.1 69.8L322.3 69.8L323.5 70L324.7 69.4L325.9 69.2L327 69.6L328.2 69L329.4 70L330.6 69.4L331.8 69L332.9 68.1L334.1 68.5L335.3 68.5L336.5 68.7L337.7 68.6L338.9 69.1L340 69.1L341.2 68.1L342.4 67.9L343.6 68.2L344.8 68.8L345.9 67.5L347.1 67.8L348.3 68.3L349.5 67.1L350.7 67.3L351.8 68.6L353 68.3L354.2 67.7L355.4 66.9L356.6 68.4L357.8 68L358.9 68.3L360.1 68.7L361.3 68.5L362.5 67.7L363.7 67.2L364.8 67.5L366 68L367.2 68L368.4 67.4L369.6 67.5L370.7 68.3L371.9 68.3L373.1 67.9L374.3 69.1L375.5 68.5L376.7 67.4L377.8 68.1L379 68.8L380.2 67.9L381.4 68.7L382.6 67.4L383.7 67.9L384.9 68.9L386.1 68.4L387.3 68.6L388.5 67.7L389.6 68.2L390.8 68.3L392 67.7L393.2 68.4L394.4 68.2L395.6 69L396.7 68.2L397.9 67.9L399.1 67.3L400.3 67.3L401.5 68.5L402.6 67.2L403.8 67.2L405 67.3L406.2 68L407.4 68.5L408.5 68.1L409.7 68.5L410.9 67.1L412.1 67L413.3 68.4L414.5 67.6L415.6 68.4L416.8 67.7L418 67.4L419.2 67.6L420.4 67.3L421.5 68.9L422.7 68.3L423.9 67.9L425.1 68.1L426.3 68L427.4 67.4L428.6 69.1L429.8 68.5L431 69.3L432.2 68.3L433.4 68.7L434.5 68L435.7 67.6L436.9 69.3L438.1 69.2L439.3 68.2L440.4 69.3L441.6 69.2L442.8 68.2L444 68.8L445.2 69.5L446.3 68.6L447.5 69.5L448.7 68.1L449.9 68.4L451.1 69L452.3 68.1L453.4 68.2L454.6 69.3L455.8 68.5L457 69.1L458.2 68.1L459.3 67.9L460.5 68.2L461.7 67.9L462.9 69.4L464.1 68.1L465.2 68.6L466.4 67.7L467.6 68.5L468.8 68.2L470 68.2L471.2 67.6L472.3 67.7L473.5 69L474.7 68.1L475.9 67.9L477.1 67.8L478.2 67.9L479.4 67.8L480.6 67.4L481.8 68.6L483 68L484.1 67.6L485.3 68.6L486.5 67.4L487.7 67.8L488.9 68.8L490.1 67.5L491.2 68.1L492.4 68.8L493.6 68.7L494.8 67.5L496 67.9L497.1 68.6L498.3 67.9L499.5 69L500.7 67.6L501.9 69L503 68.2L504.2 67.7L505.4 68.2L506.6 67.6L507.8 68.7L509 67.9L510.1 69.2L511.3 68.7L512.5 68.3L513.7 68.1L514.9 68.9L516 68.2L517.2 69.5L518.4 68.2L519.6 69L520.8 69.1L521.9 68.7L523.1 69.7L524.3 69L525.5 69.6L526.7 69.4L527.8 69L529 69.2L530.2 68.7L531.4 68.9L532.6 70.2L533.8 69.2L534.9 69.8L536.1 68.8L537.3 69.6L538.5 69.2L539.7 69.4L540.8 69L542 68.5L543.2 69L544.4 68.7L545.6 68.5L546.7 69.6L547.9 68.7L549.1 68.9L550.3 69.8L551.5 69.5L552.7 69.6L553.8 69.5L555 68.1L556.2 68.3L557.4 67.8L558.6 69L559.7 69L560.9 68.3L562.1 68.4L563.3 68.9L564.5 69L565.6 68.1L566.8 69.3L568 68.4L569.2 68.9L570.4 68.1L571.6 68L572.7 69.6L573.9 69.3L575.1 69.3L576.3 68L577.5 68.1L578.6 68.4L579.8 68.5L581 68.8L582.2 69L583.4 68.4L584.5 69L585.7 69.7L586.9 68.8L588.1 70.2L589.3 69.7L590.5 70.1L591.6 69.2L592.8 69.7L594 70.2L595.2 69.6L596.4 69L597.5 70.7L598.7 70.6L599.9 69.8L601.1 69.4L602.3 71L603.4 70.6L604.6 69.7L605.8 70.1L607 69.9L608.2 71.3L609.4 70.3L610.5 71.7L611.7 71.5L612.9 70.3L614.1 71.6L615.3 71.1L616.4 71.8L617.6 72L618.8 71.1L620 70.7L621.2 72.4L622.3 71.5L623.5 72.5L624.7 72L625.9 72.2L627.1 72.3L628.3 71.9L629.4 71.6L630.6 70.8L631.8 72L633 71.5L634.2 71.6L635.3 72.3L636.5 70.7L637.7 71.9L638.9 70.5L640.1 71.6L641.2 71.8L642.4 70.7L643.6 71.1L644.8 71.9L646 71.2L647.2 71L648.3 70.3L649.5 69.9L650.7 70.4L651.9 70.5L653.1 70.1L654.2 70.3L655.4 69.9L656.6 71L657.8 70.9L659.1 70.1L660.3 70.1L661.6 70.7L663 70.6L664.3 71.6L665.7 70.5L667.1 70.4L668.4 71.6L669.8 70.2L671.2 71.1L672.5 70.7L673.9 71.7L675.2 71.2L676.5 71.7L677.7 70.6L679 71.6L680.1 71.6L681.3 71.4L682.3 72L683.3 72.2L684.3 70.8L685.2 71.2L686 71.4L686.7 71.1L687.3 71.7" fill="none" stroke="#ff0a80" stroke-width="3.2" stroke-linejoin="round" stroke-linecap="round" />
<circle cx="134.5" cy="63.9" r="3.9" fill="#fff" stroke="#ff0a80" stroke-width="1.5"/>
<circle cx="165.2" cy="67" r="3.9" fill="#fff" stroke="#ff0a80" stroke-width="1.5"/>
<circle cx="195.9" cy="78.7" r="3.9" fill="#fff" stroke="#ff0a80" stroke-width="1.5"/>
<circle cx="226.6" cy="85.8" r="3.9" fill="#fff" stroke="#ff0a80" stroke-width="1.5"/>
<circle cx="257.3" cy="73.2" r="3.9" fill="#fff" stroke="#ff0a80" stroke-width="1.5"/>
<circle cx="288.1" cy="69.9" r="3.9" fill="#fff" stroke="#ff0a80" stroke-width="1.5"/>
<circle cx="318.8" cy="69.9" r="3.9" fill="#fff" stroke="#ff0a80" stroke-width="1.5"/>
<circle cx="349.5" cy="67.7" r="3.9" fill="#fff" stroke="#ff0a80" stroke-width="1.5"/>
<circle cx="380.2" cy="68.3" r="3.9" fill="#fff" stroke="#ff0a80" stroke-width="1.5"/>
<circle cx="410.9" cy="67.9" r="3.9" fill="#fff" stroke="#ff0a80" stroke-width="1.5"/>
<circle cx="441.6" cy="68.6" r="3.9" fill="#fff" stroke="#ff0a80" stroke-width="1.5"/>
<circle cx="472.3" cy="68.4" r="3.9" fill="#fff" stroke="#ff0a80" stroke-width="1.5"/>
<circle cx="503" cy="68.2" r="3.9" fill="#fff" stroke="#ff0a80" stroke-width="1.5"/>
<circle cx="533.8" cy="69.5" r="3.9" fill="#fff" stroke="#ff0a80" stroke-width="1.5"/>
<circle cx="564.5" cy="68.6" r="3.9" fill="#fff" stroke="#ff0a80" stroke-width="1.5"/>
<circle cx="595.2" cy="69.9" r="3.9" fill="#fff" stroke="#ff0a80" stroke-width="1.5"/>
<circle cx="625.9" cy="71.7" r="3.9" fill="#fff" stroke="#ff0a80" stroke-width="1.5"/>
<circle cx="656.6" cy="70.6" r="3.9" fill="#fff" stroke="#ff0a80" stroke-width="1.5"/>
<circle cx="687.3" cy="71.7" r="3.9" fill="#fff" stroke="#ff0a80" stroke-width="1.5"/>
<path d="M134.5 115.7L134.8 114.8L135.1 114.5L135.5 113.8L135.9 113.6L136.3 112.6L136.7 111.5L137.2 110.8L137.7 110.1L138.2 109.1L138.7 107.9L139.3 106.9L139.9 105.8L140.4 105.8L141 104.5L141.6 102.8L142.3 102.4L142.9 101.7L143.5 100.3L144.1 98.8L144.8 98.2L145.4 97.2L146 96L146.7 95.5L147.3 94.1L147.9 94.3L148.5 93.2L149.1 92.5L149.7 92.1L150.3 91.2L150.9 90.1L151.5 89.5L152.2 88.8L152.8 88L153.5 88.2L154.1 87.7L154.8 86.6L155.4 85.9L156.1 85.8L156.8 85.5L157.4 85L158.1 83.7L158.7 83.8L159.4 83.4L160.1 82.8L160.7 81.9L161.4 81.2L162 81.4L162.7 80.4L163.3 80L164 79.7L164.6 79L165.2 79L165.8 78L166.4 77.3L167 77.4L167.7 77L168.3 76.8L168.9 76.2L169.4 76L170 75.6L170.6 74.7L171.2 74.3L171.8 73.6L172.4 73.3L173 73.2L173.6 72.3L174.1 72.6L174.7 71.7L175.3 71.6L175.9 71.8L176.5 70.5L177.1 70.2L177.6 70.2L178.2 69.7L178.8 69.9L179.4 68.9L180 69.4L180.6 69.2L181.2 68.8L181.7 68.2L182.3 67.8L182.9 67.9L183.5 67.6L184.1 67.2L184.7 66.9L185.3 66.8L185.9 66.9L186.5 66.8L187.1 66.7L187.7 65.8L188.2 65.8L188.8 65.8L189.4 65.7L190 65.4L190.6 65.1L191.2 64.8L191.8 64.9L192.4 65L193 65.3L193.6 65.2L194.2 65L194.7 65L195.3 64.9L195.9 64.4L196.5 64.5L197.1 63.7L197.7 64.2L198.3 64L198.9 63.6L199.5 63.8L200.1 64.2L200.6 63.6L201.2 63.7L201.8 63.3L202.4 63.3L203 63.8L203.6 62.9L204.2 63.1L204.8 63.5L205.4 63.3L206 62.9L206.6 63.4L207.1 63.1L207.7 63.3L208.3 63.1L208.9 63.2L209.5 63.3L210.1 63.1L210.7 62.8L211.3 62.9L211.9 63.6L212.4 63.2L213 62.8L213.5 63.5L214 62.9L214.5 62.8L215 63.2L215.5 62.9L216 63.1L216.5 63.2L217 62.9L217.5 63.2L218 62.8L218.5 63.2L219.1 63.3L219.6 62.9L220.2 63.2L220.8 63L221.4 63.4L222 63.9L222.7 63.7L223.4 64L224.2 64.1L225 63.6L225.8 64.6L226.6 64.5L227.5 64.1L228.5 65L229.5 64.8L230.5 64.8L231.6 65.8L232.7 65.7L233.8 66.1L235 65.8L236.1 66.7L237.3 66.3L238.5 66.8L239.8 67.2L241 67.2L242.3 68.1L243.6 68L244.8 68.4L246.1 69.2L247.4 69.2L248.7 70.1L249.9 70.1L251.2 70.7L252.5 70.8L253.7 71.5L254.9 71.8L256.2 71.4L257.3 72.3L258.5 72.3L259.7 73.1L260.9 73.3L262.1 73.9L263.3 73.5L264.4 74.2L265.6 74.9L266.8 75.5L268 75.7L269.2 75.4L270.3 76.3L271.5 76.2L272.7 77.1L273.9 77.7L275.1 77.5L276.2 78.7L277.4 78.8L278.6 78.8L279.8 79.1L281 79.8L282.2 80.6L283.3 80.7L284.5 80.6L285.7 80.9L286.9 81.3L288.1 82.4L289.2 82.1L290.4 82.9L291.6 83L292.8 83.7L294 83.8L295.1 83.9L296.3 85L297.5 85.1L298.7 85.6L299.9 86.1L301.1 86.6L302.2 86L303.4 86.7L304.6 86.8L305.8 87.5L307 88.2L308.1 88.5L309.3 88.1L310.5 88.5L311.7 89.5L312.9 89.6L314 89.7L315.2 90L316.4 90L317.6 91L318.8 90.8L320 91.5L321.1 91.5L322.3 91.2L323.5 91.7L324.7 91.8L325.9 92.7L327 92.7L328.2 92.3L329.4 92.7L330.6 93L331.8 93.3L332.9 93.6L334.1 93.6L335.3 93.8L336.5 93.6L337.7 94.4L338.9 94.3L340 94.1L341.2 94.7L342.4 95.4L343.6 94.6L344.8 94.9L345.9 95.5L347.1 95.3L348.3 95.4L349.5 95.8L350.7 95.7L351.8 96.1L353 96.2L354.2 96.8L355.4 96.9L356.6 96.1L357.8 96.7L358.9 97L360.1 97.2L361.3 97.2L362.5 97.2L363.7 97.3L364.8 97.1L366 97.1L367.2 97.7L368.4 97.8L369.6 98L370.7 97.8L371.9 97.5L373.1 98L374.3 98.1L375.5 97.9L376.7 98.1L377.8 97.9L379 98.2L380.2 98.1L381.4 97.8L382.6 98.2L383.7 98.2L384.9 99L386.1 98.5L387.3 98.5L388.5 98.5L389.6 98.5L390.8 98.7L392 98.5L393.2 98.5L394.4 99.4L395.6 99L396.7 99.1L397.9 99.3L399.1 99.1L400.3 99L401.5 99L402.6 99.2L403.8 99.3L405 99.8L406.2 99.7L407.4 100.1L408.5 99.5L409.7 100.2L410.9 99.9L412.1 99.4L413.3 99.6L414.5 100L415.6 100.5L416.8 99.9L418 100.3L419.2 100L420.4 100.5L421.5 99.8L422.7 100.2L423.9 100.7L425.1 100.1L426.3 100.1L427.4 99.9L428.6 100.1L429.8 100.2L431 100.7L432.2 100.2L433.4 100.4L434.5 100.3L435.7 100.7L436.9 101L438.1 100.8L439.3 100.4L440.4 100.9L441.6 101.2L442.8 100.8L444 100.3L445.2 101.1L446.3 101.1L447.5 100.6L448.7 100.4L449.9 100.5L451.1 100.8L452.3 101.2L453.4 101L454.6 101.3L455.8 100.5L457 100.7L458.2 101.1L459.3 101L460.5 100.8L461.7 101L462.9 100.7L464.1 100.4L465.2 100.8L466.4 100.4L467.6 101L468.8 100.7L470 100.9L471.2 101L472.3 100.7L473.5 100.9L474.7 100.4L475.9 101.4L477.1 101L478.2 101.4L479.4 100.5L480.6 101.1L481.8 101.2L483 100.8L484.1 100.6L485.3 100.7L486.5 100.7L487.7 101.3L488.9 100.7L490.1 101.4L491.2 101L492.4 101.2L493.6 101.2L494.8 101.2L496 101.3L497.1 101.3L498.3 101L499.5 101.4L500.7 100.9L501.9 101.4L503 101.5L504.2 101.5L505.4 101L506.6 101.5L507.8 101.7L509 101.2L510.1 101L511.3 101.2L512.5 101.6L513.7 100.8L514.9 100.7L516 101.2L517.2 101.4L518.4 101.5L519.6 101.1L520.8 101.7L521.9 100.9L523.1 101.4L524.3 100.8L525.5 100.7L526.7 100.8L527.8 100.7L529 101.2L530.2 101.2L531.4 100.9L532.6 101.6L533.8 101.1L534.9 100.9L536.1 100.9L537.3 101.5L538.5 101.7L539.7 100.9L540.8 100.8L542 101.6L543.2 101.1L544.4 101.8L545.6 101.4L546.7 101.5L547.9 101.2L549.1 101.7L550.3 101.4L551.5 101.3L552.7 101.9L553.8 101.1L555 101.8L556.2 101.1L557.4 101.7L558.6 101.5L559.7 101.9L560.9 101.1L562.1 101.7L563.3 101.5L564.5 102L565.6 102L566.8 101.7L568 101.3L569.2 101.3L570.4 101.4L571.6 101.5L572.7 101.3L573.9 101.3L575.1 101.8L576.3 101.7L577.5 101.3L578.6 102L579.8 101.2L581 101.6L582.2 101.1L583.4 101.8L584.5 101.8L585.7 101.2L586.9 101.7L588.1 101.7L589.3 101.1L590.5 101.2L591.6 101.3L592.8 101.7L594 100.9L595.2 101.4L596.4 101.3L597.5 101.1L598.7 101.2L599.9 101.4L601.1 100.7L602.3 101.3L603.4 100.7L604.6 101.1L605.8 101.1L607 100.4L608.2 101L609.4 101L610.5 100.3L611.7 99.9L612.9 100L614.1 100.8L615.3 99.7L616.4 100.6L617.6 99.8L618.8 100.3L620 99.6L621.2 99.6L622.3 100.1L623.5 99.5L624.7 99.7L625.9 100.2L627.1 100L628.3 100.1L629.4 100.2L630.6 99.2L631.8 99.4L633 100L634.2 99.9L635.3 99.2L636.5 99.7L637.7 99.4L638.9 99.6L640.1 99.2L641.2 99.2L642.4 100.1L643.6 99.5L644.8 100L646 99.3L647.2 99.6L648.3 99.3L649.5 99.6L650.7 99.3L651.9 99.8L653.1 99.3L654.2 99.9L655.4 99.6L656.6 99.2L657.8 99.4L659.1 99.6L660.3 100L661.6 99.4L663 99.2L664.3 100L665.7 99.9L667.1 99.7L668.4 99.2L669.8 99.1L671.2 99.2L672.5 99L673.9 98.9L675.2 99.4L676.5 99.3L677.7 99.4L679 99.2L680.1 98.8L681.3 99.5L682.3 99.4L683.3 99.3L684.3 99.3L685.2 99.4L686 99.7L686.7 99.6L687.3 99.2" fill="none" stroke="#58088f" stroke-width="3.2" stroke-linejoin="round" stroke-linecap="round" />
<rect x="130.7" y="111.9" width="7.6" height="7.6" fill="#58088f"/>
<rect x="133" y="116" width="3" height="1.3" fill="#fff" opacity="0.8"/>
<rect x="161.4" y="74.9" width="7.6" height="7.6" fill="#58088f"/>
<rect x="163.7" y="79" width="3" height="1.3" fill="#fff" opacity="0.8"/>
<rect x="192.1" y="60.5" width="7.6" height="7.6" fill="#58088f"/>
<rect x="194.4" y="64.6" width="3" height="1.3" fill="#fff" opacity="0.8"/>
<rect x="222.8" y="60.5" width="7.6" height="7.6" fill="#58088f"/>
<rect x="225.1" y="64.6" width="3" height="1.3" fill="#fff" opacity="0.8"/>
<rect x="253.5" y="68.3" width="7.6" height="7.6" fill="#58088f"/>
<rect x="255.8" y="72.4" width="3" height="1.3" fill="#fff" opacity="0.8"/>
<rect x="284.3" y="78.3" width="7.6" height="7.6" fill="#58088f"/>
<rect x="286.6" y="82.4" width="3" height="1.3" fill="#fff" opacity="0.8"/>
<rect x="315" y="87.1" width="7.6" height="7.6" fill="#58088f"/>
<rect x="317.3" y="91.2" width="3" height="1.3" fill="#fff" opacity="0.8"/>
<rect x="345.7" y="92" width="7.6" height="7.6" fill="#58088f"/>
<rect x="348" y="96.1" width="3" height="1.3" fill="#fff" opacity="0.8"/>
<rect x="376.4" y="94.4" width="7.6" height="7.6" fill="#58088f"/>
<rect x="378.7" y="98.5" width="3" height="1.3" fill="#fff" opacity="0.8"/>
<rect x="407.1" y="96" width="7.6" height="7.6" fill="#58088f"/>
<rect x="409.4" y="100.1" width="3" height="1.3" fill="#fff" opacity="0.8"/>
<rect x="437.8" y="96.9" width="7.6" height="7.6" fill="#58088f"/>
<rect x="440.1" y="101" width="3" height="1.3" fill="#fff" opacity="0.8"/>
<rect x="468.5" y="97.1" width="7.6" height="7.6" fill="#58088f"/>
<rect x="470.8" y="101.2" width="3" height="1.3" fill="#fff" opacity="0.8"/>
<rect x="499.2" y="97.4" width="7.6" height="7.6" fill="#58088f"/>
<rect x="501.5" y="101.5" width="3" height="1.3" fill="#fff" opacity="0.8"/>
<rect x="530" y="97.4" width="7.6" height="7.6" fill="#58088f"/>
<rect x="532.3" y="101.5" width="3" height="1.3" fill="#fff" opacity="0.8"/>
<rect x="560.7" y="97.8" width="7.6" height="7.6" fill="#58088f"/>
<rect x="563" y="101.9" width="3" height="1.3" fill="#fff" opacity="0.8"/>
<rect x="591.4" y="97.4" width="7.6" height="7.6" fill="#58088f"/>
<rect x="593.7" y="101.5" width="3" height="1.3" fill="#fff" opacity="0.8"/>
<rect x="622.1" y="96" width="7.6" height="7.6" fill="#58088f"/>
<rect x="624.4" y="100.1" width="3" height="1.3" fill="#fff" opacity="0.8"/>
<rect x="652.8" y="95.8" width="7.6" height="7.6" fill="#58088f"/>
<rect x="655.1" y="99.9" width="3" height="1.3" fill="#fff" opacity="0.8"/>
<rect x="683.5" y="95.4" width="7.6" height="7.6" fill="#58088f"/>
<rect x="685.8" y="99.5" width="3" height="1.3" fill="#fff" opacity="0.8"/>
<path d="M134.5 275.9L134.8 275.9L135.2 275.6L135.6 275.4L136 275.3L136.5 275.5L137 274.9L137.5 274.7L138.1 274.5L138.7 274.1L139.3 274.5L139.9 273.5L140.6 273.7L141.2 273.7L141.9 273L142.6 273L143.3 272.6L143.9 272.2L144.6 272L145.3 271.6L146 271.9L146.7 271.6L147.3 271.5L148 270.7L148.6 270.9L149.3 270.5L149.9 270.5L150.4 270.3L151 269.9L151.5 270.2L152.1 269.3L152.6 269.7L153.1 269.6L153.6 269.2L154.1 269.1L154.6 269.2L155.1 268.5L155.6 268.6L156.1 268.5L156.6 268.1L157.1 268.2L157.6 267.8L158.2 267.7L158.8 267.6L159.4 267.5L160 267.2L160.6 267.2L161.3 267L162 266.7L162.7 266.8L163.5 266.5L164.3 266.8L165.2 266.4L166.1 266.4L167.1 266.2L168.1 266.1L169.1 265.8L170.2 265.6L171.3 266.1L172.4 265.7L173.5 265.6L174.7 265.6L175.9 265.7L177.1 265.2L178.4 265.1L179.6 265.5L180.9 265.2L182.1 265.2L183.4 265.3L184.7 265.3L186 265.2L187.2 264.6L188.5 264.8L189.8 265L191 265L192.3 264.5L193.5 264.4L194.7 264.5L195.9 264.3L197.1 264.5L198.3 264.7L199.5 264.5L200.6 264.5L201.8 264.2L203 264.4L204.2 264.8L205.4 264.6L206.6 264.4L207.7 264.4L208.9 264.6L210.1 264.6L211.3 264.2L212.5 264.6L213.6 264.3L214.8 264.5L216 264.3L217.2 264.4L218.4 264.3L219.5 264.4L220.7 264.1L221.9 264.2L223.1 264.5L224.3 264.1L225.5 264.2L226.6 264.6L227.8 264.2L229 264.2L230.2 264.2L231.4 264.6L232.5 264L233.7 264.4L234.9 264.5L236.1 264L237.3 264.2L238.4 264.4L239.6 264.3L240.8 264.1L242 263.8L243.2 264.1L244.4 264L245.5 264.2L246.7 263.9L247.9 263.9L249.1 264L250.3 264.1L251.4 263.8L252.6 263.8L253.8 263.9L255 264.1L256.2 263.5L257.3 264L258.5 263.8L259.7 263.5L260.9 263.7L262.1 263.4L263.3 263.2L264.4 263.6L265.6 263.3L266.8 263.4L268 263.3L269.2 263.5L270.3 263.4L271.5 262.8L272.7 263.2L273.9 263L275.1 263L276.2 263.2L277.4 262.8L278.6 262.8L279.8 263.1L281 262.7L282.2 262.7L283.3 262.6L284.5 262.8L285.7 262.6L286.9 262.6L288.1 262.3L289.2 262L290.4 262.4L291.6 262.3L292.8 262.4L294 262.3L295.1 261.8L296.3 261.9L297.5 261.7L298.7 262.2L299.9 261.6L301.1 261.6L302.2 262L303.4 261.8L304.6 261.4L305.8 261.8L307 261.8L308.1 261.6L309.3 261.2L310.5 261.6L311.7 261.3L312.9 261.4L314 261.6L315.2 261.4L316.4 261.3L317.6 260.7L318.8 260.8L320 260.8L321.1 260.4L322.3 260.9L323.5 260.3L324.7 260.2L325.9 260.1L327 259.9L328.2 260.2L329.4 259.9L330.6 259.7L331.8 259.5L332.9 259.1L334.1 259.2L335.3 259.4L336.5 259.2L337.7 259.1L338.9 258.6L340 258.4L341.2 258.1L342.4 258.3L343.6 258.1L344.8 258L345.9 257.9L347.1 257.8L348.3 257.5L349.5 257.7L350.7 257.2L351.8 257.5L353 257.2L354.2 256.7L355.4 256.7L356.6 256.8L357.8 256.5L358.9 256.5L360.1 256.2L361.3 256.1L362.5 256.3L363.7 255.8L364.8 256L366 255.9L367.2 255.7L368.4 255.4L369.6 255.7L370.7 255.2L371.9 255.4L373.1 254.7L374.3 254.8L375.5 254.8L376.7 254.3L377.8 254.7L379 254L380.2 254.3L381.4 253.8L382.6 254.2L383.7 253.9L384.9 253.9L386.1 253.6L387.3 253.6L388.5 253.4L389.6 253.1L390.8 252.9L392 253.2L393.2 252.6L394.4 253L395.6 252.4L396.7 252.2L397.9 252L399.1 252.4L400.3 252.4L401.5 251.9L402.6 251.9L403.8 251.5L405 251.8L406.2 251.5L407.4 251L408.5 250.8L409.7 251.1L410.9 250.5L412.1 250.9L413.3 250.3L414.5 250.1L415.6 250.2L416.8 249.9L418 249.9L419.2 249.4L420.4 249.8L421.5 249.2L422.7 249.4L423.9 248.7L425.1 249L426.3 249L427.4 248.4L428.6 247.9L429.8 248L431 248L432.2 247.5L433.4 247.6L434.5 247.1L435.7 247.2L436.9 247.2L438.1 246.8L439.3 246.8L440.4 246.2L441.6 246.5L442.8 245.9L444 246.3L445.2 246.1L446.3 245.9L447.5 245.5L448.7 245.1L449.9 245L451.1 245.1L452.3 244.8L453.4 244.9L454.6 244.1L455.8 244.2L457 244.3L458.2 244L459.3 243.8L460.5 243.3L461.7 243.1L462.9 243.1L464.1 243.3L465.2 243.1L466.4 242.5L467.6 242.8L468.8 242L470 242.2L471.2 242.3L472.3 241.7L473.5 241.9L474.7 241.5L475.9 240.9L477.1 240.9L478.2 240.8L479.4 240.5L480.6 240.7L481.8 240.1L483 240.3L484.1 239.8L485.3 239.4L486.5 239.6L487.7 239.1L488.9 239.2L490.1 239.2L491.2 238.8L492.4 238.6L493.6 238.1L494.8 238.2L496 237.7L497.1 237.9L498.3 237.4L499.5 237.5L500.7 237.2L501.9 237L503 237L504.2 236.5L505.4 236.3L506.6 236.7L507.8 236.1L509 236.3L510.1 236.1L511.3 235.7L512.5 235.3L513.7 235.1L514.9 235.5L516 234.8L517.2 234.9L518.4 234.7L519.6 234.3L520.8 234.3L521.9 234L523.1 234L524.3 233.8L525.5 233.6L526.7 233.3L527.8 233.3L529 232.9L530.2 232.7L531.4 232.6L532.6 232.9L533.8 232.4L534.9 232.5L536.1 231.7L537.3 232.1L538.5 231.6L539.7 231.6L540.8 231.2L542 231.1L543.2 230.6L544.4 230.7L545.6 230.1L546.7 230L547.9 229.6L549.1 229.6L550.3 229.5L551.5 229.1L552.7 229.3L553.8 228.5L555 228.7L556.2 228.2L557.4 228.2L558.6 228.2L559.7 227.9L560.9 227.2L562.1 227.1L563.3 227.2L564.5 227.2L565.6 226.4L566.8 226.6L568 226.4L569.2 226.3L570.4 225.8L571.6 225.9L572.7 225.5L573.9 225.6L575.1 224.8L576.3 225.3L577.5 224.7L578.6 224.5L579.8 224.1L581 224L582.2 224.2L583.4 223.9L584.5 223.4L585.7 223.3L586.9 222.9L588.1 222.8L589.3 222.6L590.5 222.5L591.6 222.7L592.8 222.5L594 222.1L595.2 221.7L596.4 221.5L597.5 221.4L598.7 221.3L599.9 220.9L601.1 220.6L602.3 220L603.4 220.1L604.6 220L605.8 219.7L607 218.9L608.2 219.1L609.4 218.6L610.5 218.2L611.7 218.5L612.9 218L614.1 217.8L615.3 217.1L616.4 217.3L617.6 217.1L618.8 216.8L620 216.4L621.2 216.2L622.3 216L623.5 215.6L624.7 215.2L625.9 215.2L627.1 215L628.3 214.8L629.4 214.1L630.6 214.4L631.8 213.8L633 213.9L634.2 213.1L635.3 213.4L636.5 213.1L637.7 212.5L638.9 212.6L640.1 212L641.2 211.7L642.4 211.7L643.6 211.3L644.8 211.3L646 211.3L647.2 211L648.3 210.7L649.5 210.3L650.7 210.3L651.9 210.1L653.1 209.8L654.2 209.8L655.4 209.5L656.6 208.9L657.8 208.5L659.1 208.6L660.3 208.5L661.6 207.9L663 207.8L664.3 207.7L665.7 207.4L667.1 206.6L668.4 206.7L669.8 206.1L671.2 205.9L672.5 206.1L673.9 205.6L675.2 205.4L676.5 205.1L677.7 204.8L679 204.4L680.1 204.3L681.3 204.4L682.3 204.1L683.3 203.6L684.3 203.3L685.2 203.3L686 203.4L686.7 203.1L687.3 203" fill="none" stroke="#615a00" stroke-width="3.2" stroke-linejoin="round" stroke-linecap="round" />
<circle cx="134.5" cy="275.9" r="4.3" fill="#615a00"/>
<path d="M134.2 273.5A2.4 2.4 0 0 0 134.2 278.3Z" fill="#fff"/>
<circle cx="165.2" cy="266.4" r="4.3" fill="#615a00"/>
<path d="M164.9 264A2.4 2.4 0 0 0 164.9 268.8Z" fill="#fff"/>
<circle cx="195.9" cy="264.6" r="4.3" fill="#615a00"/>
<path d="M195.6 262.2A2.4 2.4 0 0 0 195.6 267Z" fill="#fff"/>
<circle cx="226.6" cy="264.4" r="4.3" fill="#615a00"/>
<path d="M226.3 262A2.4 2.4 0 0 0 226.3 266.8Z" fill="#fff"/>
<circle cx="257.3" cy="263.7" r="4.3" fill="#615a00"/>
<path d="M257 261.3A2.4 2.4 0 0 0 257 266.1Z" fill="#fff"/>
<circle cx="288.1" cy="262.4" r="4.3" fill="#615a00"/>
<path d="M287.8 260A2.4 2.4 0 0 0 287.8 264.8Z" fill="#fff"/>
<circle cx="318.8" cy="260.9" r="4.3" fill="#615a00"/>
<path d="M318.5 258.5A2.4 2.4 0 0 0 318.5 263.3Z" fill="#fff"/>
<circle cx="349.5" cy="257.5" r="4.3" fill="#615a00"/>
<path d="M349.2 255.1A2.4 2.4 0 0 0 349.2 259.9Z" fill="#fff"/>
<circle cx="380.2" cy="254.2" r="4.3" fill="#615a00"/>
<path d="M379.9 251.8A2.4 2.4 0 0 0 379.9 256.6Z" fill="#fff"/>
<circle cx="410.9" cy="250.8" r="4.3" fill="#615a00"/>
<path d="M410.6 248.4A2.4 2.4 0 0 0 410.6 253.2Z" fill="#fff"/>
<circle cx="441.6" cy="246.3" r="4.3" fill="#615a00"/>
<path d="M441.3 243.9A2.4 2.4 0 0 0 441.3 248.7Z" fill="#fff"/>
<circle cx="472.3" cy="241.8" r="4.3" fill="#615a00"/>
<path d="M472 239.4A2.4 2.4 0 0 0 472 244.2Z" fill="#fff"/>
<circle cx="503" cy="236.9" r="4.3" fill="#615a00"/>
<path d="M502.7 234.5A2.4 2.4 0 0 0 502.7 239.3Z" fill="#fff"/>
<circle cx="533.8" cy="232.4" r="4.3" fill="#615a00"/>
<path d="M533.5 230A2.4 2.4 0 0 0 533.5 234.8Z" fill="#fff"/>
<circle cx="564.5" cy="226.9" r="4.3" fill="#615a00"/>
<path d="M564.2 224.5A2.4 2.4 0 0 0 564.2 229.3Z" fill="#fff"/>
<circle cx="595.2" cy="221.7" r="4.3" fill="#615a00"/>
<path d="M594.9 219.3A2.4 2.4 0 0 0 594.9 224.1Z" fill="#fff"/>
<circle cx="625.9" cy="215" r="4.3" fill="#615a00"/>
<path d="M625.6 212.6A2.4 2.4 0 0 0 625.6 217.4Z" fill="#fff"/>
<circle cx="656.6" cy="209" r="4.3" fill="#615a00"/>
<path d="M656.3 206.6A2.4 2.4 0 0 0 656.3 211.4Z" fill="#fff"/>
<circle cx="687.3" cy="203" r="4.3" fill="#615a00"/>
<path d="M687 200.6A2.4 2.4 0 0 0 687 205.4Z" fill="#fff"/>
<text x="607.4" y="59.7" font-size="19.5" font-family="Liberation Sans, sans-serif" font-weight="bold" fill="#ff0a80" text-anchor="start" textLength="91" lengthAdjust="spacingAndGlyphs">650°C-24h</text>
<text x="620.3" y="125.2" font-size="19.5" font-family="Liberation Sans, sans-serif" font-weight="bold" fill="#58088f" text-anchor="start" textLength="80.3" lengthAdjust="spacingAndGlyphs">800°C-2h</text>
<text x="495.9" y="174.5" font-size="19.5" font-family="Liberation Sans, sans-serif" font-weight="bold" fill="#700034" text-anchor="start" textLength="80.2" lengthAdjust="spacingAndGlyphs">650°C-2h</text>
<text x="617.4" y="195" font-size="19.5" font-family="Liberation Sans, sans-serif" font-weight="bold" fill="#615a00" text-anchor="start" textLength="91.4" lengthAdjust="spacingAndGlyphs">800°C-24h</text>
<text x="625.6" y="255.2" font-size="19.5" font-family="Liberation Sans, sans-serif" font-weight="bold" fill="#0a700a" text-anchor="start" textLength="79.9" lengthAdjust="spacingAndGlyphs">500°C-2h</text>
<text x="615.8" y="327.6" font-size="19.5" font-family="Liberation Sans, sans-serif" font-weight="bold" fill="#0a32c8" text-anchor="start" textLength="91.4" lengthAdjust="spacingAndGlyphs">500°C-24h</text>
<text x="604" y="399.4" font-size="19.5" font-family="Liberation Sans, sans-serif" font-weight="bold" fill="#b80000" text-anchor="start" textLength="103" lengthAdjust="spacingAndGlyphs">As-received</text>
<path d="M88.8 398L88.8 2.0L733.6 2.0L733.6 398" fill="none" stroke="#000" stroke-width="2"/>
<path d="M88.8 406.5L88.8 472.9L733.6 472.9L733.6 406.5" fill="none" stroke="#000" stroke-width="2" stroke-linecap="square"/>
<path d="M78.8 402.4L98.8 394M78.8 410.7L98.8 402.3" stroke="#000" stroke-width="1.8" fill="none"/>
<path d="M723.6 402.4L743.6 394M723.6 410.7L743.6 402.3" stroke="#000" stroke-width="1.8" fill="none"/>
<line x1="88.8" y1="16.2" x2="93.4" y2="16.2" stroke="#000" stroke-width="2" />
<line x1="88.8" y1="44.4" x2="98.1" y2="44.4" stroke="#000" stroke-width="2" />
<line x1="88.8" y1="72.6" x2="93.4" y2="72.6" stroke="#000" stroke-width="2" />
<line x1="88.8" y1="100.9" x2="93.4" y2="100.9" stroke="#000" stroke-width="2" />
<line x1="88.8" y1="129.1" x2="93.4" y2="129.1" stroke="#000" stroke-width="2" />
<line x1="88.8" y1="157.4" x2="93.4" y2="157.4" stroke="#000" stroke-width="2" />
<line x1="88.8" y1="185.6" x2="98.1" y2="185.6" stroke="#000" stroke-width="2" />
<line x1="88.8" y1="213.8" x2="93.4" y2="213.8" stroke="#000" stroke-width="2" />
<line x1="88.8" y1="242.1" x2="93.4" y2="242.1" stroke="#000" stroke-width="2" />
<line x1="88.8" y1="270.3" x2="93.4" y2="270.3" stroke="#000" stroke-width="2" />
<line x1="88.8" y1="298.6" x2="93.4" y2="298.6" stroke="#000" stroke-width="2" />
<line x1="88.8" y1="326.8" x2="98.1" y2="326.8" stroke="#000" stroke-width="2" />
<line x1="88.8" y1="355" x2="93.4" y2="355" stroke="#000" stroke-width="2" />
<line x1="88.8" y1="383.3" x2="93.4" y2="383.3" stroke="#000" stroke-width="2" />
<line x1="88.8" y1="417.1" x2="93.4" y2="417.1" stroke="#000" stroke-width="2" />
<line x1="88.8" y1="428.3" x2="98.1" y2="428.3" stroke="#000" stroke-width="2" />
<line x1="88.8" y1="439.5" x2="93.4" y2="439.5" stroke="#000" stroke-width="2" />
<line x1="88.8" y1="450.6" x2="93.4" y2="450.6" stroke="#000" stroke-width="2" />
<line x1="88.8" y1="461.8" x2="93.4" y2="461.8" stroke="#000" stroke-width="2" />
<line x1="103" y1="472.9" x2="103" y2="467.7" stroke="#000" stroke-width="2" />
<line x1="118.4" y1="472.9" x2="118.4" y2="467.7" stroke="#000" stroke-width="2" />
<line x1="133.8" y1="472.9" x2="133.8" y2="463.4" stroke="#000" stroke-width="2" />
<line x1="149.2" y1="472.9" x2="149.2" y2="467.7" stroke="#000" stroke-width="2" />
<line x1="164.6" y1="472.9" x2="164.6" y2="467.7" stroke="#000" stroke-width="2" />
<line x1="179.9" y1="472.9" x2="179.9" y2="467.7" stroke="#000" stroke-width="2" />
<line x1="195.3" y1="472.9" x2="195.3" y2="467.7" stroke="#000" stroke-width="2" />
<line x1="210.7" y1="472.9" x2="210.7" y2="463.4" stroke="#000" stroke-width="2" />
<line x1="226.1" y1="472.9" x2="226.1" y2="467.7" stroke="#000" stroke-width="2" />
<line x1="241.5" y1="472.9" x2="241.5" y2="467.7" stroke="#000" stroke-width="2" />
<line x1="256.9" y1="472.9" x2="256.9" y2="467.7" stroke="#000" stroke-width="2" />
<line x1="272.2" y1="472.9" x2="272.2" y2="467.7" stroke="#000" stroke-width="2" />
<line x1="287.6" y1="472.9" x2="287.6" y2="463.4" stroke="#000" stroke-width="2" />
<line x1="303" y1="472.9" x2="303" y2="467.7" stroke="#000" stroke-width="2" />
<line x1="318.4" y1="472.9" x2="318.4" y2="467.7" stroke="#000" stroke-width="2" />
<line x1="333.8" y1="472.9" x2="333.8" y2="467.7" stroke="#000" stroke-width="2" />
<line x1="349.2" y1="472.9" x2="349.2" y2="467.7" stroke="#000" stroke-width="2" />
<line x1="364.5" y1="472.9" x2="364.5" y2="463.4" stroke="#000" stroke-width="2" />
<line x1="379.9" y1="472.9" x2="379.9" y2="467.7" stroke="#000" stroke-width="2" />
<line x1="395.3" y1="472.9" x2="395.3" y2="467.7" stroke="#000" stroke-width="2" />
<line x1="410.7" y1="472.9" x2="410.7" y2="467.7" stroke="#000" stroke-width="2" />
<line x1="426.1" y1="472.9" x2="426.1" y2="467.7" stroke="#000" stroke-width="2" />
<line x1="441.5" y1="472.9" x2="441.5" y2="463.4" stroke="#000" stroke-width="2" />
<line x1="456.8" y1="472.9" x2="456.8" y2="467.7" stroke="#000" stroke-width="2" />
<line x1="472.2" y1="472.9" x2="472.2" y2="467.7" stroke="#000" stroke-width="2" />
<line x1="487.6" y1="472.9" x2="487.6" y2="467.7" stroke="#000" stroke-width="2" />
<line x1="503" y1="472.9" x2="503" y2="467.7" stroke="#000" stroke-width="2" />
<line x1="518.4" y1="472.9" x2="518.4" y2="463.4" stroke="#000" stroke-width="2" />
<line x1="533.8" y1="472.9" x2="533.8" y2="467.7" stroke="#000" stroke-width="2" />
<line x1="549.1" y1="472.9" x2="549.1" y2="467.7" stroke="#000" stroke-width="2" />
<line x1="564.5" y1="472.9" x2="564.5" y2="467.7" stroke="#000" stroke-width="2" />
<line x1="579.9" y1="472.9" x2="579.9" y2="467.7" stroke="#000" stroke-width="2" />
<line x1="595.3" y1="472.9" x2="595.3" y2="463.4" stroke="#000" stroke-width="2" />
<line x1="610.7" y1="472.9" x2="610.7" y2="467.7" stroke="#000" stroke-width="2" />
<line x1="626.1" y1="472.9" x2="626.1" y2="467.7" stroke="#000" stroke-width="2" />
<line x1="641.4" y1="472.9" x2="641.4" y2="467.7" stroke="#000" stroke-width="2" />
<line x1="656.8" y1="472.9" x2="656.8" y2="467.7" stroke="#000" stroke-width="2" />
<line x1="672.2" y1="472.9" x2="672.2" y2="463.4" stroke="#000" stroke-width="2" />
<line x1="687.6" y1="472.9" x2="687.6" y2="467.7" stroke="#000" stroke-width="2" />
<line x1="703" y1="472.9" x2="703" y2="467.7" stroke="#000" stroke-width="2" />
<line x1="718.4" y1="472.9" x2="718.4" y2="467.7" stroke="#000" stroke-width="2" />
<text x="133.8" y="499.6" font-size="20.5" font-family="Liberation Serif, serif" font-weight="bold" fill="#000" text-anchor="middle" >0</text>
<text x="210.7" y="499.6" font-size="20.5" font-family="Liberation Serif, serif" font-weight="bold" fill="#000" text-anchor="middle" >500</text>
<text x="287.6" y="499.6" font-size="20.5" font-family="Liberation Serif, serif" font-weight="bold" fill="#000" text-anchor="middle" >1000</text>
<text x="364.5" y="499.6" font-size="20.5" font-family="Liberation Serif, serif" font-weight="bold" fill="#000" text-anchor="middle" >1500</text>
<text x="441.5" y="499.6" font-size="20.5" font-family="Liberation Serif, serif" font-weight="bold" fill="#000" text-anchor="middle" >2000</text>
<text x="518.4" y="499.6" font-size="20.5" font-family="Liberation Serif, serif" font-weight="bold" fill="#000" text-anchor="middle" >2500</text>
<text x="595.3" y="499.6" font-size="20.5" font-family="Liberation Serif, serif" font-weight="bold" fill="#000" text-anchor="middle" >3000</text>
<text x="672.2" y="499.6" font-size="20.5" font-family="Liberation Serif, serif" font-weight="bold" fill="#000" text-anchor="middle" >3500</text>
<text x="77" y="51.4" font-size="20.5" font-family="Liberation Serif, serif" font-weight="bold" fill="#000" text-anchor="end" >0.1</text>
<text x="77" y="192.6" font-size="20.5" font-family="Liberation Serif, serif" font-weight="bold" fill="#000" text-anchor="end" >0.0</text>
<text x="77" y="333.8" font-size="20.5" font-family="Liberation Serif, serif" font-weight="bold" fill="#000" text-anchor="end" >-0.1</text>
<text x="77.5" y="435.3" font-size="20.5" font-family="Liberation Serif, serif" font-weight="bold" fill="#000" text-anchor="end" >-0.85</text>
<text x="410.9" y="538.2" font-size="27" font-family="Liberation Serif, serif" font-weight="bold" fill="#000" text-anchor="middle" >Immersion time (s)</text>
<text transform="translate(25.3,236.7) rotate(-90)" font-size="27.5" font-family="Liberation Serif, serif" font-weight="bold" text-anchor="middle">OCP (V<tspan font-size="17" dy="10">SCE</tspan><tspan dy="-10">)</tspan></text>
<text x="-1" y="39.5" font-size="45" font-family="Liberation Serif, serif" font-weight="bold" fill="#000" text-anchor="start" >(a)</text>
<rect x="847.8" y="8.9" width="639.4000000000001" height="466.20000000000005" fill="url(#gB)"/>
<line x1="848.8" y1="43.6" x2="1486.2" y2="43.6" stroke="#e9e9e9" stroke-width="1" stroke-dasharray="1.5 4"/>
<line x1="848.8" y1="61.2" x2="1486.2" y2="61.2" stroke="#e9e9e9" stroke-width="1" stroke-dasharray="1.5 4"/>
<line x1="848.8" y1="78.9" x2="1486.2" y2="78.9" stroke="#e9e9e9" stroke-width="1" stroke-dasharray="1.5 4"/>
<line x1="848.8" y1="96.5" x2="1486.2" y2="96.5" stroke="#e9e9e9" stroke-width="1" stroke-dasharray="1.5 4"/>
<line x1="848.8" y1="131.7" x2="1486.2" y2="131.7" stroke="#e9e9e9" stroke-width="1" stroke-dasharray="1.5 4"/>
<line x1="848.8" y1="149.3" x2="1486.2" y2="149.3" stroke="#e9e9e9" stroke-width="1" stroke-dasharray="1.5 4"/>
<line x1="848.8" y1="167" x2="1486.2" y2="167" stroke="#e9e9e9" stroke-width="1" stroke-dasharray="1.5 4"/>
<line x1="848.8" y1="184.6" x2="1486.2" y2="184.6" stroke="#e9e9e9" stroke-width="1" stroke-dasharray="1.5 4"/>
<line x1="848.8" y1="219.8" x2="1486.2" y2="219.8" stroke="#e9e9e9" stroke-width="1" stroke-dasharray="1.5 4"/>
<line x1="848.8" y1="237.4" x2="1486.2" y2="237.4" stroke="#e9e9e9" stroke-width="1" stroke-dasharray="1.5 4"/>
<line x1="848.8" y1="255.1" x2="1486.2" y2="255.1" stroke="#e9e9e9" stroke-width="1" stroke-dasharray="1.5 4"/>
<line x1="848.8" y1="272.7" x2="1486.2" y2="272.7" stroke="#e9e9e9" stroke-width="1" stroke-dasharray="1.5 4"/>
<line x1="848.8" y1="307.9" x2="1486.2" y2="307.9" stroke="#e9e9e9" stroke-width="1" stroke-dasharray="1.5 4"/>
<line x1="848.8" y1="325.5" x2="1486.2" y2="325.5" stroke="#e9e9e9" stroke-width="1" stroke-dasharray="1.5 4"/>
<line x1="848.8" y1="343.2" x2="1486.2" y2="343.2" stroke="#e9e9e9" stroke-width="1" stroke-dasharray="1.5 4"/>
<line x1="848.8" y1="360.8" x2="1486.2" y2="360.8" stroke="#e9e9e9" stroke-width="1" stroke-dasharray="1.5 4"/>
<line x1="848.8" y1="391.7" x2="1486.2" y2="391.7" stroke="#e9e9e9" stroke-width="1" stroke-dasharray="1.5 4"/>
<line x1="848.8" y1="400.5" x2="1486.2" y2="400.5" stroke="#e9e9e9" stroke-width="1" stroke-dasharray="1.5 4"/>
<line x1="848.8" y1="418.1" x2="1486.2" y2="418.1" stroke="#e9e9e9" stroke-width="1" stroke-dasharray="1.5 4"/>
<line x1="848.8" y1="426.9" x2="1486.2" y2="426.9" stroke="#e9e9e9" stroke-width="1" stroke-dasharray="1.5 4"/>
<line x1="848.8" y1="435.6" x2="1486.2" y2="435.6" stroke="#e9e9e9" stroke-width="1" stroke-dasharray="1.5 4"/>
<line x1="848.8" y1="444.4" x2="1486.2" y2="444.4" stroke="#e9e9e9" stroke-width="1" stroke-dasharray="1.5 4"/>
<line x1="848.8" y1="462" x2="1486.2" y2="462" stroke="#e9e9e9" stroke-width="1" stroke-dasharray="1.5 4"/>
<line x1="848.8" y1="470.8" x2="1486.2" y2="470.8" stroke="#e9e9e9" stroke-width="1" stroke-dasharray="1.5 4"/>
<line x1="848.8" y1="26" x2="1486.2" y2="26" stroke="#d3d3d3" stroke-width="1.2" />
<line x1="848.8" y1="114.1" x2="1486.2" y2="114.1" stroke="#d3d3d3" stroke-width="1.2" />
<line x1="848.8" y1="202.2" x2="1486.2" y2="202.2" stroke="#d3d3d3" stroke-width="1.2" />
<line x1="848.8" y1="290.3" x2="1486.2" y2="290.3" stroke="#d3d3d3" stroke-width="1.2" />
<line x1="848.8" y1="409.3" x2="1486.2" y2="409.3" stroke="#d3d3d3" stroke-width="1.2" />
<line x1="848.8" y1="453.2" x2="1486.2" y2="453.2" stroke="#d3d3d3" stroke-width="1.2" />
<line x1="893" y1="403.7" x2="893" y2="408" stroke="#b80000" stroke-width="2.4" />
<line x1="893" y1="431.4" x2="893" y2="435.9" stroke="#b80000" stroke-width="2.4" />
<rect x="874.2" y="408" width="37.6" height="23.4" fill="url(#bRed)" stroke="#b80000" stroke-width="2.5"/>
<line x1="874.2" y1="410.3" x2="911.8" y2="410.3" stroke="#b80000" stroke-width="2.5" />
<line x1="887.5" y1="403.7" x2="898.5" y2="403.7" stroke="#b80000" stroke-width="2" />
<path d="M889.5 400.2L896.5 407.2M889.5 407.2L896.5 400.2" stroke="#b80000" stroke-width="0.9" fill="none"/>
<line x1="887.5" y1="435.9" x2="898.5" y2="435.9" stroke="#b80000" stroke-width="2" />
<path d="M889.5 432.4L896.5 439.4M889.5 439.4L896.5 432.4" stroke="#b80000" stroke-width="0.9" fill="none"/>
<rect x="890.2" y="414.6" width="5.5" height="5.5" fill="none" stroke="#b80000" stroke-width="0.9"/>
<line x1="984.5" y1="201.8" x2="984.5" y2="212.3" stroke="#0a700a" stroke-width="2.4" />
<line x1="984.5" y1="253.2" x2="984.5" y2="291" stroke="#0a700a" stroke-width="2.4" />
<rect x="965.7" y="212.3" width="37.6" height="40.9" fill="url(#bGreen)" stroke="#0a700a" stroke-width="2.5"/>
<line x1="965.7" y1="219.9" x2="1003.3" y2="219.9" stroke="#0a700a" stroke-width="2.5" />
<line x1="979" y1="201.8" x2="990" y2="201.8" stroke="#0a700a" stroke-width="2" />
<path d="M981 198.3L988 205.3M981 205.3L988 198.3" stroke="#0a700a" stroke-width="0.9" fill="none"/>
<line x1="979" y1="291" x2="990" y2="291" stroke="#0a700a" stroke-width="2" />
<path d="M981 287.5L988 294.5M981 294.5L988 287.5" stroke="#0a700a" stroke-width="0.9" fill="none"/>
<rect x="981.8" y="232.4" width="5.5" height="5.5" fill="none" stroke="#0a700a" stroke-width="0.9"/>
<line x1="1076" y1="229.1" x2="1076" y2="267.7" stroke="#0a32c8" stroke-width="2.4" />
<line x1="1076" y1="305.3" x2="1076" y2="335.8" stroke="#0a32c8" stroke-width="2.4" />
<rect x="1057.2" y="267.7" width="37.6" height="37.6" fill="url(#bBlue)" stroke="#0a32c8" stroke-width="2.5"/>
<line x1="1057.2" y1="276.9" x2="1094.8" y2="276.9" stroke="#0a32c8" stroke-width="2.5" />
<line x1="1070.5" y1="229.1" x2="1081.5" y2="229.1" stroke="#0a32c8" stroke-width="2" />
<path d="M1072.5 225.6L1079.5 232.6M1072.5 232.6L1079.5 225.6" stroke="#0a32c8" stroke-width="0.9" fill="none"/>
<line x1="1070.5" y1="335.8" x2="1081.5" y2="335.8" stroke="#0a32c8" stroke-width="2" />
<path d="M1072.5 332.3L1079.5 339.3M1072.5 339.3L1079.5 332.3" stroke="#0a32c8" stroke-width="0.9" fill="none"/>
<rect x="1073.2" y="278.1" width="5.5" height="5.5" fill="none" stroke="#0a32c8" stroke-width="0.9"/>
<line x1="1167.5" y1="107.4" x2="1167.5" y2="143.2" stroke="#700034" stroke-width="2.4" />
<line x1="1167.5" y1="196.1" x2="1167.5" y2="225.7" stroke="#700034" stroke-width="2.4" />
<rect x="1148.7" y="143.2" width="37.6" height="52.9" fill="url(#bMaroon)" stroke="#700034" stroke-width="2.5"/>
<line x1="1148.7" y1="177" x2="1186.3" y2="177" stroke="#700034" stroke-width="2.5" />
<line x1="1162" y1="107.4" x2="1173" y2="107.4" stroke="#700034" stroke-width="2" />
<path d="M1164 103.9L1171 110.9M1164 110.9L1171 103.9" stroke="#700034" stroke-width="0.9" fill="none"/>
<line x1="1162" y1="225.7" x2="1173" y2="225.7" stroke="#700034" stroke-width="2" />
<path d="M1164 222.2L1171 229.2M1164 229.2L1171 222.2" stroke="#700034" stroke-width="0.9" fill="none"/>
<rect x="1164.8" y="166.8" width="5.5" height="5.5" fill="none" stroke="#700034" stroke-width="0.9"/>
<line x1="1259" y1="70.4" x2="1259" y2="124.9" stroke="#ff0a80" stroke-width="2.4" />
<line x1="1259" y1="170" x2="1259" y2="171.2" stroke="#ff0a80" stroke-width="2.4" />
<rect x="1240.2" y="124.9" width="37.6" height="45.1" fill="url(#bPink)" stroke="#ff0a80" stroke-width="2.5"/>
<line x1="1240.2" y1="131.5" x2="1277.8" y2="131.5" stroke="#ff0a80" stroke-width="2.5" />
<line x1="1253.5" y1="70.4" x2="1264.5" y2="70.4" stroke="#ff0a80" stroke-width="2" />
<path d="M1255.5 66.9L1262.5 73.9M1255.5 73.9L1262.5 66.9" stroke="#ff0a80" stroke-width="0.9" fill="none"/>
<line x1="1253.5" y1="171.2" x2="1264.5" y2="171.2" stroke="#ff0a80" stroke-width="2" />
<path d="M1255.5 167.7L1262.5 174.7M1255.5 174.7L1262.5 167.7" stroke="#ff0a80" stroke-width="0.9" fill="none"/>
<rect x="1256.2" y="134.7" width="5.5" height="5.5" fill="none" stroke="#ff0a80" stroke-width="0.9"/>
<line x1="1350.5" y1="105.7" x2="1350.5" y2="117.7" stroke="#58088f" stroke-width="2.4" />
<line x1="1350.5" y1="176.7" x2="1350.5" y2="178" stroke="#58088f" stroke-width="2.4" />
<rect x="1331.7" y="117.7" width="37.6" height="59" fill="url(#bPurple)" stroke="#58088f" stroke-width="2.5"/>
<line x1="1331.7" y1="147.5" x2="1369.3" y2="147.5" stroke="#58088f" stroke-width="2.5" />
<line x1="1345" y1="105.7" x2="1356" y2="105.7" stroke="#58088f" stroke-width="2" />
<path d="M1347 102.2L1354 109.2M1347 109.2L1354 102.2" stroke="#58088f" stroke-width="0.9" fill="none"/>
<line x1="1345" y1="178" x2="1356" y2="178" stroke="#58088f" stroke-width="2" />
<path d="M1347 174.5L1354 181.5M1347 181.5L1354 174.5" stroke="#58088f" stroke-width="0.9" fill="none"/>
<rect x="1347.8" y="142.1" width="5.5" height="5.5" fill="none" stroke="#58088f" stroke-width="0.9"/>
<line x1="1442" y1="195.3" x2="1442" y2="208.3" stroke="#7d7600" stroke-width="2.4" />
<line x1="1442" y1="253.3" x2="1442" y2="260" stroke="#7d7600" stroke-width="2.4" />
<rect x="1423.2" y="208.3" width="37.6" height="45" fill="url(#bOlive)" stroke="#7d7600" stroke-width="2.5"/>
<line x1="1423.2" y1="225.4" x2="1460.8" y2="225.4" stroke="#7d7600" stroke-width="2.5" />
<line x1="1436.5" y1="195.3" x2="1447.5" y2="195.3" stroke="#7d7600" stroke-width="2" />
<path d="M1438.5 191.8L1445.5 198.8M1438.5 198.8L1445.5 191.8" stroke="#7d7600" stroke-width="0.9" fill="none"/>
<line x1="1436.5" y1="260" x2="1447.5" y2="260" stroke="#7d7600" stroke-width="2.2" />
<rect x="1439.2" y="233.7" width="5.5" height="5.5" fill="none" stroke="#7d7600" stroke-width="0.9"/>
<path d="M1438.5 321.5L1445.5 328.5M1438.5 328.5L1445.5 321.5" stroke="#7d7600" stroke-width="1.1" fill="none"/>
<path d="M847.8 378.3L847.8 8.9L1487.2 8.9L1487.2 378.3" fill="none" stroke="#000" stroke-width="2"/>
<path d="M847.8 386.8L847.8 475.1L1487.2 475.1L1487.2 386.8" fill="none" stroke="#000" stroke-width="2"/>
<path d="M837.8 382.1L857.8 374.2M837.8 390.7L857.8 382.8" stroke="#000" stroke-width="2" fill="none"/>
<path d="M1477.2 382.1L1497.2 374.2M1477.2 390.7L1497.2 382.8" stroke="#000" stroke-width="2" fill="none"/>
<line x1="847.8" y1="26" x2="857.1" y2="26" stroke="#000" stroke-width="2" />
<line x1="847.8" y1="43.6" x2="852.4" y2="43.6" stroke="#000" stroke-width="2" />
<line x1="847.8" y1="61.2" x2="852.4" y2="61.2" stroke="#000" stroke-width="2" />
<line x1="847.8" y1="78.9" x2="852.4" y2="78.9" stroke="#000" stroke-width="2" />
<line x1="847.8" y1="96.5" x2="852.4" y2="96.5" stroke="#000" stroke-width="2" />
<line x1="847.8" y1="114.1" x2="857.1" y2="114.1" stroke="#000" stroke-width="2" />
<line x1="847.8" y1="131.7" x2="852.4" y2="131.7" stroke="#000" stroke-width="2" />
<line x1="847.8" y1="149.3" x2="852.4" y2="149.3" stroke="#000" stroke-width="2" />
<line x1="847.8" y1="167" x2="852.4" y2="167" stroke="#000" stroke-width="2" />
<line x1="847.8" y1="184.6" x2="852.4" y2="184.6" stroke="#000" stroke-width="2" />
<line x1="847.8" y1="202.2" x2="857.1" y2="202.2" stroke="#000" stroke-width="2" />
<line x1="847.8" y1="219.8" x2="852.4" y2="219.8" stroke="#000" stroke-width="2" />
<line x1="847.8" y1="237.4" x2="852.4" y2="237.4" stroke="#000" stroke-width="2" />
<line x1="847.8" y1="255.1" x2="852.4" y2="255.1" stroke="#000" stroke-width="2" />
<line x1="847.8" y1="272.7" x2="852.4" y2="272.7" stroke="#000" stroke-width="2" />
<line x1="847.8" y1="290.3" x2="857.1" y2="290.3" stroke="#000" stroke-width="2" />
<line x1="847.8" y1="307.9" x2="852.4" y2="307.9" stroke="#000" stroke-width="2" />
<line x1="847.8" y1="325.5" x2="852.4" y2="325.5" stroke="#000" stroke-width="2" />
<line x1="847.8" y1="343.2" x2="852.4" y2="343.2" stroke="#000" stroke-width="2" />
<line x1="847.8" y1="360.8" x2="852.4" y2="360.8" stroke="#000" stroke-width="2" />
<line x1="847.8" y1="391.7" x2="852.4" y2="391.7" stroke="#000" stroke-width="2" />
<line x1="847.8" y1="400.5" x2="852.4" y2="400.5" stroke="#000" stroke-width="2" />
<line x1="847.8" y1="409.3" x2="857.1" y2="409.3" stroke="#000" stroke-width="2" />
<line x1="847.8" y1="418.1" x2="852.4" y2="418.1" stroke="#000" stroke-width="2" />
<line x1="847.8" y1="426.9" x2="852.4" y2="426.9" stroke="#000" stroke-width="2" />
<line x1="847.8" y1="435.6" x2="852.4" y2="435.6" stroke="#000" stroke-width="2" />
<line x1="847.8" y1="444.4" x2="852.4" y2="444.4" stroke="#000" stroke-width="2" />
<line x1="847.8" y1="453.2" x2="857.1" y2="453.2" stroke="#000" stroke-width="2" />
<line x1="847.8" y1="462" x2="852.4" y2="462" stroke="#000" stroke-width="2" />
<line x1="847.8" y1="470.8" x2="852.4" y2="470.8" stroke="#000" stroke-width="2" />
<line x1="893" y1="475.1" x2="893" y2="465.6" stroke="#000" stroke-width="2" />
<line x1="984.5" y1="475.1" x2="984.5" y2="465.6" stroke="#000" stroke-width="2" />
<line x1="1076" y1="475.1" x2="1076" y2="465.6" stroke="#000" stroke-width="2" />
<line x1="1167.5" y1="475.1" x2="1167.5" y2="465.6" stroke="#000" stroke-width="2" />
<line x1="1259" y1="475.1" x2="1259" y2="465.6" stroke="#000" stroke-width="2" />
<line x1="1350.5" y1="475.1" x2="1350.5" y2="465.6" stroke="#000" stroke-width="2" />
<line x1="1442" y1="475.1" x2="1442" y2="465.6" stroke="#000" stroke-width="2" />
<text x="836.5" y="33" font-size="20.5" font-family="Liberation Serif, serif" font-weight="bold" fill="#000" text-anchor="end" >0.2</text>
<text x="836.5" y="121.1" font-size="20.5" font-family="Liberation Serif, serif" font-weight="bold" fill="#000" text-anchor="end" >0.1</text>
<text x="836.5" y="209.2" font-size="20.5" font-family="Liberation Serif, serif" font-weight="bold" fill="#000" text-anchor="end" >0.0</text>
<text x="836.5" y="297.3" font-size="20.5" font-family="Liberation Serif, serif" font-weight="bold" fill="#000" text-anchor="end" >-0.1</text>
<text x="836.5" y="385.4" font-size="20.5" font-family="Liberation Serif, serif" font-weight="bold" fill="#000" text-anchor="end" >-0.2</text>
<text x="836.5" y="416.3" font-size="20.5" font-family="Liberation Serif, serif" font-weight="bold" fill="#000" text-anchor="end" >-0.8</text>
<text x="836.5" y="460.2" font-size="20.5" font-family="Liberation Serif, serif" font-weight="bold" fill="#000" text-anchor="end" >-1.0</text>
<text x="893" y="502.7" font-size="18" font-family="Liberation Serif, serif" font-weight="bold" fill="#000" text-anchor="middle" >As-received</text>
<text x="984.5" y="502.7" font-size="18" font-family="Liberation Serif, serif" font-weight="bold" fill="#000" text-anchor="middle" >500°C-2h</text>
<text x="1076" y="502.7" font-size="18" font-family="Liberation Serif, serif" font-weight="bold" fill="#000" text-anchor="middle" >500°C-24h</text>
<text x="1167.5" y="502.7" font-size="18" font-family="Liberation Serif, serif" font-weight="bold" fill="#000" text-anchor="middle" >650°C-2h</text>
<text x="1259" y="502.7" font-size="18" font-family="Liberation Serif, serif" font-weight="bold" fill="#000" text-anchor="middle" >650°C-24h</text>
<text x="1350.5" y="502.7" font-size="18" font-family="Liberation Serif, serif" font-weight="bold" fill="#000" text-anchor="middle" >800°C-2h</text>
<text x="1442" y="502.7" font-size="18" font-family="Liberation Serif, serif" font-weight="bold" fill="#000" text-anchor="middle" >800°C-24h</text>
<text x="1169.6" y="540.3" font-size="27" font-family="Liberation Serif, serif" font-weight="bold" fill="#000" text-anchor="middle" >Thermal oxidation conditions</text>
<text transform="translate(781.3,261.2) rotate(-90)" font-size="27.5" font-family="Liberation Serif, serif" font-weight="bold" text-anchor="middle">OCP (V<tspan font-size="17" dy="10">SCE</tspan><tspan dy="-10">)</tspan></text>
<text x="755" y="40.5" font-size="45" font-family="Liberation Serif, serif" font-weight="bold" fill="#000" text-anchor="start" >(b)</text>
<rect x="86.8" y="580.3" width="650.9000000000001" height="655.5" fill="url(#gC)"/>
<line x1="87.8" y1="598.4" x2="736.7" y2="598.4" stroke="#e9e9e9" stroke-width="1" stroke-dasharray="1.5 4"/>
<line x1="87.8" y1="616.6" x2="736.7" y2="616.6" stroke="#e9e9e9" stroke-width="1" stroke-dasharray="1.5 4"/>
<line x1="87.8" y1="653" x2="736.7" y2="653" stroke="#e9e9e9" stroke-width="1" stroke-dasharray="1.5 4"/>
<line x1="87.8" y1="671.2" x2="736.7" y2="671.2" stroke="#e9e9e9" stroke-width="1" stroke-dasharray="1.5 4"/>
<line x1="87.8" y1="689.4" x2="736.7" y2="689.4" stroke="#e9e9e9" stroke-width="1" stroke-dasharray="1.5 4"/>
<line x1="87.8" y1="707.6" x2="736.7" y2="707.6" stroke="#e9e9e9" stroke-width="1" stroke-dasharray="1.5 4"/>
<line x1="87.8" y1="744.1" x2="736.7" y2="744.1" stroke="#e9e9e9" stroke-width="1" stroke-dasharray="1.5 4"/>
<line x1="87.8" y1="762.3" x2="736.7" y2="762.3" stroke="#e9e9e9" stroke-width="1" stroke-dasharray="1.5 4"/>
<line x1="87.8" y1="780.5" x2="736.7" y2="780.5" stroke="#e9e9e9" stroke-width="1" stroke-dasharray="1.5 4"/>
<line x1="87.8" y1="798.7" x2="736.7" y2="798.7" stroke="#e9e9e9" stroke-width="1" stroke-dasharray="1.5 4"/>
<line x1="87.8" y1="835.1" x2="736.7" y2="835.1" stroke="#e9e9e9" stroke-width="1" stroke-dasharray="1.5 4"/>
<line x1="87.8" y1="853.3" x2="736.7" y2="853.3" stroke="#e9e9e9" stroke-width="1" stroke-dasharray="1.5 4"/>
<line x1="87.8" y1="871.5" x2="736.7" y2="871.5" stroke="#e9e9e9" stroke-width="1" stroke-dasharray="1.5 4"/>
<line x1="87.8" y1="889.7" x2="736.7" y2="889.7" stroke="#e9e9e9" stroke-width="1" stroke-dasharray="1.5 4"/>
<line x1="87.8" y1="926.2" x2="736.7" y2="926.2" stroke="#e9e9e9" stroke-width="1" stroke-dasharray="1.5 4"/>
<line x1="87.8" y1="944.4" x2="736.7" y2="944.4" stroke="#e9e9e9" stroke-width="1" stroke-dasharray="1.5 4"/>
<line x1="87.8" y1="962.6" x2="736.7" y2="962.6" stroke="#e9e9e9" stroke-width="1" stroke-dasharray="1.5 4"/>
<line x1="87.8" y1="980.8" x2="736.7" y2="980.8" stroke="#e9e9e9" stroke-width="1" stroke-dasharray="1.5 4"/>
<line x1="87.8" y1="1017.2" x2="736.7" y2="1017.2" stroke="#e9e9e9" stroke-width="1" stroke-dasharray="1.5 4"/>
<line x1="87.8" y1="1035.4" x2="736.7" y2="1035.4" stroke="#e9e9e9" stroke-width="1" stroke-dasharray="1.5 4"/>
<line x1="87.8" y1="1053.6" x2="736.7" y2="1053.6" stroke="#e9e9e9" stroke-width="1" stroke-dasharray="1.5 4"/>
<line x1="87.8" y1="1071.8" x2="736.7" y2="1071.8" stroke="#e9e9e9" stroke-width="1" stroke-dasharray="1.5 4"/>
<line x1="87.8" y1="1108.3" x2="736.7" y2="1108.3" stroke="#e9e9e9" stroke-width="1" stroke-dasharray="1.5 4"/>
<line x1="87.8" y1="1126.5" x2="736.7" y2="1126.5" stroke="#e9e9e9" stroke-width="1" stroke-dasharray="1.5 4"/>
<line x1="87.8" y1="1144.7" x2="736.7" y2="1144.7" stroke="#e9e9e9" stroke-width="1" stroke-dasharray="1.5 4"/>
<line x1="87.8" y1="1162.9" x2="736.7" y2="1162.9" stroke="#e9e9e9" stroke-width="1" stroke-dasharray="1.5 4"/>
<line x1="87.8" y1="1199.3" x2="736.7" y2="1199.3" stroke="#e9e9e9" stroke-width="1" stroke-dasharray="1.5 4"/>
<line x1="87.8" y1="1217.5" x2="736.7" y2="1217.5" stroke="#e9e9e9" stroke-width="1" stroke-dasharray="1.5 4"/>
<line x1="87.8" y1="634.8" x2="736.7" y2="634.8" stroke="#d3d3d3" stroke-width="1.2" />
<line x1="87.8" y1="725.9" x2="736.7" y2="725.9" stroke="#d3d3d3" stroke-width="1.2" />
<line x1="87.8" y1="816.9" x2="736.7" y2="816.9" stroke="#d3d3d3" stroke-width="1.2" />
<line x1="87.8" y1="908" x2="736.7" y2="908" stroke="#d3d3d3" stroke-width="1.2" />
<line x1="87.8" y1="999" x2="736.7" y2="999" stroke="#d3d3d3" stroke-width="1.2" />
<line x1="87.8" y1="1090" x2="736.7" y2="1090" stroke="#d3d3d3" stroke-width="1.2" />
<line x1="87.8" y1="1181.1" x2="736.7" y2="1181.1" stroke="#d3d3d3" stroke-width="1.2" />
<path d="M699.5 1190.3C694.1 1188.7 680 1183.9 667.2 1180.6C654.5 1177.3 636.7 1173.3 623 1170.4C609.3 1167.5 598.7 1165 584.9 1163C571.1 1161 558.1 1159.6 540 1158.3C521.9 1157 499.5 1155.9 476.2 1155.4C452.9 1155 423.2 1155.5 400 1155.6C376.8 1155.6 347.2 1155.7 336.7 1155.7" fill="none" stroke="#b80000" stroke-width="2.7" stroke-linejoin="round" stroke-linecap="round" clip-path="url(#clipC)"/>
<path d="M336.7 1155.7L343.3 1155.7L352 1155.6L361.3 1155.6L373.2 1155.6L384.4 1155.5L397.4 1155.5L408.5 1155.4L419.7 1155.3L431.4 1155.2L441.8 1155.2L453 1155.2L465.1 1155.1L475.8 1155L486.8 1154.8L496.3 1154.6L505.6 1154.2L514.6 1153.7L522 1153.2L529.9 1152.5L535.9 1151.8L543.1 1151L548.4 1150.1L554.6 1149.1L559.4 1148L564.7 1146.8L570.4 1145.3L574.1 1143.8L578.5 1142.2L581.5 1140.5L584.9 1138.9L587.6 1137.3L590.9 1135.7L593.6 1134.2L595.1 1132.7L596.5 1131.2L598.4 1129.7L599.4 1128.2L600.1 1126.8L600.2 1125.4L601.6 1124L602.2 1122.7L603.4 1121.4L603.1 1120.1L603.8 1118.9L604 1117.7L603.8 1116.5L604 1115.2L604.2 1114L604.4 1112.8L603.8 1111.5L603.5 1110.3L603.9 1109.1L602.4 1107.8L602.8 1106.6L602 1105.3L601.1 1104L600 1102.7L599.3 1101.2L598.2 1099.8L596.7 1098.4L595.3 1096.9L592.9 1095.6L591.6 1094.2L589.6 1093L588.5 1091.8L586.2 1090.7L582.8 1089.6L580.7 1088.6L578.2 1087.6L575.2 1086.7L573.6 1085.8L572.3 1085L570.9 1084.5L569.4 1084.2L569.3 1084.2L568.1 1084.1L567.9 1083.9L567.4 1083.4L567.7 1082.4L566.9 1080.8L566.6 1078.5L566.1 1075.6L565.5 1072.3L565.9 1068.6L565.4 1064.8L565.2 1060.9L564.6 1057.2L564.3 1053.6L564.7 1050.2L565 1046.8L565 1043.4L564.5 1040L564.4 1036.5L564.9 1033.1L565.4 1029.7L564.6 1026.3L565.3 1022.9L564.7 1019.5L564.9 1016.1L564.6 1012.6L564.9 1009.2L565 1005.8L565.6 1002.4L565.6 999L564.5 995.6L564.5 992.2L565.1 988.8L564 985.4L564 981.9L563.9 978.5L563.3 975.1L563.3 971.7L563.3 968.3L563.1 964.9L563.5 961.5L562.5 958.1L562.2 954.6L562.8 951.2L562.1 947.8L562.3 944.4L561.9 941L561.8 937.6L561 934.1L560.6 930.7L561.1 927.3L560.6 923.8L560.5 920.4L560.5 917L560.5 913.6L559.9 910.2L560 906.8L560.7 903.3L560.2 899.9L559.8 896.5L560.1 893.1L559.3 889.7L559.5 886.3L558 882.9L558.2 879.5L557.1 876.1L556.1 872.6L556 869.2L554.5 865.8L553.9 862.4L553.2 859L553.4 855.6L553.2 852.2L552.8 848.7L552.2 845.3L552.3 841.9L551.2 838.5L551.2 835.1L551.3 831.7L551.5 828.3L550.9 824.9L550.8 821.5L550.7 818.1L550 814.7L550.4 811.3L549.8 807.9L548.9 804.5L548.4 801.1L548.3 797.7L547.1 794.3L546.2 790.8L546.5 787.4L545.6 784L545.1 780.6L545 777.2L545 773.8L543.8 770.4L543.9 767L543.4 763.5L543.8 760.1L543.9 756.7L544.3 753.3L544.2 749.9L544.2 746.5L544.2 743.1L544.6 739.6L544.5 736.2L545.5 732.8L545.9 729.4L546.4 726L546.2 722.6L547.5 719.2L548.4 715.8L548.9 712.4L550.2 708.9L551.1 705.5L551.6 702.1L552.3 698.7L552.6 695.3L553.3 691.9L552.7 688.4L553.7 685L554 681.6L554.1 678.1L553.9 674.7L553.9 671.3L554.7 667.8L555.2 664L554.6 660.3L554.7 656.5L554.8 652.9L554.8 649.5L555.5 646.5L556 644L555.8 641.9L555.3 640.2L555.8 638.8L555 637.7L556 636.8L555.4 636L555 635.4L555.6 634.8" fill="none" stroke="#b80000" stroke-width="2.7" stroke-linejoin="round" stroke-linecap="round" clip-path="url(#clipC)"/>
<rect x="552.1" y="640.7" width="6.5" height="6.5" fill="#fff" stroke="#b80000" stroke-width="1.8"/>
<rect x="551.1" y="668" width="6.5" height="6.5" fill="#fff" stroke="#b80000" stroke-width="1.8"/>
<rect x="548.6" y="695.3" width="6.5" height="6.5" fill="#fff" stroke="#b80000" stroke-width="1.8"/>
<rect x="542.8" y="722.6" width="6.5" height="6.5" fill="#fff" stroke="#b80000" stroke-width="1.8"/>
<rect x="540.6" y="749.9" width="6.5" height="6.5" fill="#fff" stroke="#b80000" stroke-width="1.8"/>
<rect x="541.9" y="777.2" width="6.5" height="6.5" fill="#fff" stroke="#b80000" stroke-width="1.8"/>
<rect x="546.2" y="804.5" width="6.5" height="6.5" fill="#fff" stroke="#b80000" stroke-width="1.8"/>
<rect x="548.1" y="831.9" width="6.5" height="6.5" fill="#fff" stroke="#b80000" stroke-width="1.8"/>
<rect x="551" y="859.2" width="6.5" height="6.5" fill="#fff" stroke="#b80000" stroke-width="1.8"/>
<rect x="556.4" y="886.5" width="6.5" height="6.5" fill="#fff" stroke="#b80000" stroke-width="1.8"/>
<rect x="557" y="913.8" width="6.5" height="6.5" fill="#fff" stroke="#b80000" stroke-width="1.8"/>
<rect x="558.6" y="941.1" width="6.5" height="6.5" fill="#fff" stroke="#b80000" stroke-width="1.8"/>
<rect x="560.4" y="968.4" width="6.5" height="6.5" fill="#fff" stroke="#b80000" stroke-width="1.8"/>
<rect x="561.8" y="995.8" width="6.5" height="6.5" fill="#fff" stroke="#b80000" stroke-width="1.8"/>
<rect x="561.8" y="1023.1" width="6.5" height="6.5" fill="#fff" stroke="#b80000" stroke-width="1.8"/>
<rect x="561.5" y="1050.4" width="6.5" height="6.5" fill="#fff" stroke="#b80000" stroke-width="1.8"/>
<rect x="563.6" y="1077.7" width="6.5" height="6.5" fill="#fff" stroke="#b80000" stroke-width="1.8"/>
<rect x="587.5" y="1132.5" width="6.5" height="6.5" fill="#fff" stroke="#b80000" stroke-width="1.8"/>
<rect x="581.6" y="1159.8" width="6.5" height="6.5" fill="#fff" stroke="#b80000" stroke-width="1.8"/>
<rect x="696.2" y="1187" width="6.5" height="6.5" fill="#fff" stroke="#b80000" stroke-width="1.8"/>
<path d="M631.3 1108.7C625.8 1107.7 612 1107.3 598 1102.8C584 1098.3 560.6 1087.5 547.6 1081.7C534.6 1075.9 530.1 1072.7 520 1068C509.9 1063.3 500.4 1059.1 487.1 1053.8C473.8 1048.5 454.8 1040.5 440 1036C425.2 1031.5 414.1 1030.1 398.4 1027C382.7 1023.9 362.4 1019.4 346 1017.2C329.6 1015 311.5 1014.6 300 1013.8C288.5 1013 287 1012.8 276.9 1012.5C266.8 1012.2 245.8 1012.1 239.6 1012" fill="none" stroke="#0a700a" stroke-width="2.7" stroke-linejoin="round" stroke-linecap="round" clip-path="url(#clipC)"/>
<path d="M239.6 1012L241 1012L241.9 1012L243.8 1011.9L245.4 1011.9L247.9 1011.9L250.2 1011.9L252.9 1011.8L254.4 1011.8L257.9 1011.8L259.6 1011.7L262.5 1011.7L265.7 1011.7L268.2 1011.6L271 1011.6L274.1 1011.5L276.6 1011.5L280.2 1011.5L282.7 1011.5L286.8 1011.4L290.3 1011.4L293.7 1011.4L296.8 1011.4L301.4 1011.4L304.3 1011.4L308.6 1011.4L312.1 1011.4L315.2 1011.3L319.2 1011.3L322.4 1011.2L325.2 1011.1L327.6 1011L330 1010.8L332.1 1010.6L333.4 1010.4L335.7 1010.2L337.2 1009.9L338.1 1009.7L339.3 1009.4L339.4 1009.1L340.9 1008.8L340.5 1008.5L341.6 1008.1L341.7 1007.8L342.6 1007.5L343.4 1007.1L344 1006.7L344.3 1006.4L344.8 1006L345.3 1005.6L346.1 1005.3L346.5 1004.9L346.8 1004.5L347.9 1004.1L348 1003.7L348.2 1003.3L348.3 1002.9L349.2 1002.5L349 1002L347.7 1001.6L350.8 1001.1L352.5 1000.6L355.6 1000.1L354.2 999.6L356.8 999L357.5 998.4L356.7 997.9L357.7 997.3L353 996.7L355.5 996L355 995.4L364 994.7L364 994.1L364.5 993.4L362.5 992.7L364.7 992L364.3 991.2L369.7 990.4L374.2 989.7L369.2 988.8L367.9 988L370.1 987.1L372.7 986.3L378.6 985.4L378.8 984.6L376.6 983.7L374.4 982.8L375.3 981.8L376.6 980.9L383.1 979.9L381.2 978.9L386.8 977.8L386.9 976.7L386.6 975.5L384.5 974.3L388.4 973L382.9 971.7L383.4 970.3L388.1 968.8L388.3 967.3L386.2 965.7L387.1 964L385.6 962.3L394.1 960.5L392.8 958.7L395.5 956.9L396.3 955.1L391.9 953.3L395 951.5L392.4 949.7L396.7 947.9L397.5 946.1L391.6 944.4L391 942.7L393.4 941L397.3 939.3L395.9 937.6L393.2 935.8L401.1 934.1L401.2 932.4L398.8 930.7L395.6 929L403.7 927.3L400.9 925.6L397.2 923.8L399.9 922.1L403 920.4L405.7 918.7L402.5 917L404.1 915.3L400.5 913.6L401 911.9L407.1 910.2L402.5 908.5L400.1 906.8L404.6 905L400.5 903.3L401.2 901.6L403.6 899.9L404.8 898.2L405.3 896.5L406.1 894.8L403.8 893.1L400.6 891.4L406.7 889.7L400.9 888L404.9 886.3L404.6 884.6L407.3 882.9L408 881.2L404.1 879.5L408.1 877.8L408.9 876.1L407.2 874.3L404.6 872.6L411.8 870.9L409.3 869.2L404.8 867.5L406.7 865.8L413.7 864.1L407.1 862.4L408.7 860.7L412.4 859L412.9 857.3L411.3 855.6L412.4 853.9L406.1 852.2L406.7 850.5L414.7 848.7L413.2 847L406.4 845.3L406.6 843.6L408.4 841.9L414.7 840.2L409.7 838.5L411.8 836.8L413.1 835.1L412 833.4L413.4 831.7L410.7 830L410.4 828.3L410 826.6L413.4 824.9L410.7 823.2L414.8 821.5L413.8 819.8L411.8 818.1L414.7 816.4L412.1 814.7L413.9 813L412.4 811.3L415.7 809.6L416.4 807.9L416.8 806.2L413.1 804.5L417.2 802.8L416.3 801.1L417.9 799.4L416.9 797.7L417.8 796L418.1 794.3L419.4 792.5L416.6 790.8L416.9 789.1L419.4 787.4L418.7 785.7L419.5 784L418.1 782.3L421.7 780.6L418.8 778.9L422.6 777.2L422.7 775.5L421.3 773.8L420 772.1L422.5 770.4L420.7 768.7L421.8 767L420.5 765.2L424.5 763.5L422.8 761.8L422.2 760.1L421.3 758.4L424.4 756.7L425.2 755L425.6 753.3L422.8 751.6L424.4 749.9L424.5 748.2L427 746.5L424.7 744.8L427.3 743.1L429.4 741.4L429 739.6L426.3 737.9L427.2 736.2L428.1 734.5L431.4 732.8L431.7 731.1L432.3 729.4L432.9 727.7L433.7 726L435.7 724.3L437.1 722.5L439.6 720.6L439.7 718.8L441.4 716.9L443.2 715L444.6 713.2L445.9 711.3L445.9 709.5L449.1 707.7L451.1 706L451.7 704.4L454.3 702.8L454 701.3L457.3 700L457.4 698.7L459.2 697.6L459.3 696.6L460.6 695.8L461.8 695L462.8 694.3L463.3 693.7L465.1 693.2L467.4 692.7L467.6 692.2L469.3 691.7L469.8 691.2L471 690.7L472.3 690.1L472.7 689.5L472.5 688.8L473.4 688L474.8 687.1L474.8 686.3L476.4 685.4L478.9 684.5L480 683.6L479.6 682.6L481.7 681.7L482.7 680.7L483.9 679.7L484.6 678.6L484.9 677.5L484.8 676.4L487.4 675.2L487 673.9L488.6 672.6L488.7 671.3L489.8 669.9L491.5 668.3L490.2 666.6L491.8 664.8L492.7 662.9L493 661L494.5 659.1L493.8 657.2L495.5 655.3L495.4 653.4L496.5 651.6L494.8 649.8L495.5 648.1L496.1 646.6L497.9 645.2L496 644L496.9 642.9L498.2 641.9L499 641L497.2 640.2L497.9 639.5L498.6 638.8L498.6 638.2L498.8 637.7L498.8 637.2L497.5 636.8L497.5 636.4L497 636L498.5 635.7L497.4 635.4L497.5 635.1L498.1 634.8" fill="none" stroke="#0a700a" stroke-width="2.7" stroke-linejoin="round" stroke-linecap="round" clip-path="url(#clipC)"/>
<circle cx="497.2" cy="643.9" r="3.9" fill="#fff" stroke="#0a700a" stroke-width="1.5"/>
<circle cx="489" cy="671.2" r="3.9" fill="#fff" stroke="#0a700a" stroke-width="1.5"/>
<circle cx="457.5" cy="698.5" r="3.9" fill="#fff" stroke="#0a700a" stroke-width="1.5"/>
<circle cx="434.1" cy="725.9" r="3.9" fill="#fff" stroke="#0a700a" stroke-width="1.5"/>
<circle cx="424.1" cy="753.2" r="3.9" fill="#fff" stroke="#0a700a" stroke-width="1.5"/>
<circle cx="420.6" cy="780.5" r="3.9" fill="#fff" stroke="#0a700a" stroke-width="1.5"/>
<circle cx="414.7" cy="807.8" r="3.9" fill="#fff" stroke="#0a700a" stroke-width="1.5"/>
<circle cx="411.2" cy="835.1" r="3.9" fill="#fff" stroke="#0a700a" stroke-width="1.5"/>
<circle cx="409.5" cy="862.4" r="3.9" fill="#fff" stroke="#0a700a" stroke-width="1.5"/>
<circle cx="404.7" cy="889.7" r="3.9" fill="#fff" stroke="#0a700a" stroke-width="1.5"/>
<circle cx="402.6" cy="917.1" r="3.9" fill="#fff" stroke="#0a700a" stroke-width="1.5"/>
<circle cx="394.9" cy="944.4" r="3.9" fill="#fff" stroke="#0a700a" stroke-width="1.5"/>
<circle cx="386.2" cy="971.7" r="3.9" fill="#fff" stroke="#0a700a" stroke-width="1.5"/>
<circle cx="352.8" cy="999" r="3.9" fill="#fff" stroke="#0a700a" stroke-width="1.5"/>
<circle cx="398.4" cy="1026.3" r="3.9" fill="#fff" stroke="#0a700a" stroke-width="1.5"/>
<circle cx="487.1" cy="1053.6" r="3.9" fill="#fff" stroke="#0a700a" stroke-width="1.5"/>
<circle cx="547.6" cy="1080.9" r="3.9" fill="#fff" stroke="#0a700a" stroke-width="1.5"/>
<circle cx="631.3" cy="1108.3" r="3.9" fill="#fff" stroke="#0a700a" stroke-width="1.5"/>
<path d="M600.2 1108.1C594.3 1108.1 573.4 1108.6 565 1108C556.6 1107.4 557.2 1106.5 549.7 1104.3C542.2 1102.1 532.4 1098.9 520 1095C507.6 1091.1 488.7 1085.6 475.4 1080.8C462.1 1076 452.4 1070.5 440 1066C427.6 1061.5 417 1058.1 401.3 1053.8C385.6 1049.5 363.8 1043.8 346 1040.3C328.2 1036.8 308.7 1034.5 294.3 1032.5C279.9 1030.5 270.3 1029.3 259.6 1028.1C248.9 1026.9 249.8 1026.3 230 1025.5C210.2 1024.7 155.6 1023.7 140.7 1023.3" fill="none" stroke="#0a32c8" stroke-width="2.7" stroke-linejoin="round" stroke-linecap="round" clip-path="url(#clipC)"/>
<path d="M140.7 1023.3L145.7 1023.3L148.5 1023.2L153 1023.2L158.6 1023.1L164.2 1023L170.8 1023L175.7 1022.9L181.4 1022.8L188.1 1022.8L194.5 1022.7L202.3 1022.6L207.5 1022.5L213.2 1022.4L219.9 1022.3L226.4 1022.1L229.1 1022L230.6 1021.9L235.2 1021.7L235.1 1021.5L236.6 1021.4L239 1021.2L240.7 1021L242.8 1020.8L242.7 1020.6L244.6 1020.4L242.8 1020.2L246.8 1020L245.1 1019.8L247.9 1019.6L245.6 1019.4L249.9 1019.2L248.9 1019L253 1018.8L254.5 1018.6L255.7 1018.5L255.9 1018.3L256.7 1018.1L259.3 1017.9L264 1017.7L262.9 1017.6L266.8 1017.4L268.3 1017.2L270.4 1017L270.1 1016.8L271.5 1016.6L272.8 1016.4L277.7 1016.2L276.4 1016L278.5 1015.8L279.1 1015.6L278.5 1015.3L278.5 1015.1L278.8 1014.8L282.7 1014.6L280.2 1014.4L283.9 1014.1L281.8 1013.9L283.6 1013.6L281.6 1013.3L284.5 1013.1L282.7 1012.8L283.5 1012.5L284.6 1012.3L283.4 1012L284.5 1011.7L287.3 1011.5L285.8 1011.2L286.7 1011L288.8 1010.7L287.2 1010.4L287.6 1010.2L288.3 1009.9L289.5 1009.6L290 1009.4L291.7 1009.1L291.7 1008.7L293.9 1008.4L291.2 1008.1L294.3 1007.7L295.6 1007.3L293.9 1006.9L293.8 1006.5L296.1 1006.1L295.5 1005.6L297.6 1005.2L299.7 1004.7L296.7 1004.3L297.6 1003.8L300.5 1003.3L299.4 1002.8L300.5 1002.2L302.6 1001.6L301.4 1001L301.9 1000.4L304.5 999.7L305.9 999L309.6 998.2L308.1 997.4L306.2 996.5L308 995.6L312.1 994.7L312 993.7L314.8 992.7L316.3 991.7L316.7 990.7L313.1 989.6L319 988.6L317.4 987.6L316.5 986.6L316.9 985.7L321.8 984.8L318.6 983.9L318.4 983.1L320.1 982.3L324.5 981.6L322.2 981L324.3 980.4L320.7 979.8L323.4 979.2L322.9 978.6L322.6 977.9L325.6 977.3L324.1 976.5L323 975.7L328.5 974.9L325.8 973.9L324.3 972.9L323.7 971.7L327.9 970.4L327.4 969L324.7 967.5L327.7 965.9L329.6 964.3L328.6 962.6L327.1 960.8L329 959L329.9 957.2L330.5 955.3L327.7 953.4L332 951.6L333.2 949.7L332.4 947.9L333.5 946.1L331 944.4L334.7 942.7L330.9 941L331.8 939.3L334.7 937.6L337.2 935.8L332.9 934.1L334.4 932.4L334 930.7L337.2 929L336.1 927.3L337.1 925.6L341.1 923.8L340.7 922.1L343.4 920.4L340.7 918.7L342.9 917L339.3 915.3L345.3 913.6L341.4 911.9L343.2 910.2L343.7 908.5L346.6 906.8L344.1 905L347.3 903.3L345.3 901.6L343.1 899.9L347.1 898.2L343.5 896.5L348.6 894.8L345.6 893.1L344.5 891.4L349.3 889.7L345.8 888L346.7 886.3L346.7 884.6L349.1 882.9L345.6 881.2L348.2 879.5L347.3 877.8L351.8 876.1L347.2 874.3L351.3 872.6L349.7 870.9L351.2 869.2L352.3 867.5L353.6 865.8L350.5 864.1L351.4 862.4L351 860.7L356.3 859L351.7 857.3L351.9 855.6L354.4 853.9L355 852.2L357 850.5L352.2 848.7L353.5 847L353.3 845.3L356 843.6L355.4 841.9L355.4 840.2L358.5 838.5L357.4 836.8L359 835.1L359.9 833.4L356.1 831.7L360.6 830L357.8 828.3L356.1 826.6L361.7 824.9L357.3 823.2L357.3 821.5L359.4 819.8L359.9 818.1L364.4 816.4L364.3 814.7L362 813L363.1 811.3L365.5 809.6L365.6 807.9L365.1 806.2L364.7 804.5L362.7 802.8L363.9 801.1L366.7 799.4L366.7 797.7L368.4 796L369.3 794.3L370.1 792.5L365.8 790.8L365.5 789.1L370.7 787.4L369.1 785.7L367.1 784L370.5 782.3L368.1 780.6L368.3 778.9L369.4 777.2L370.6 775.5L371.7 773.8L368.3 772.1L372.6 770.4L372.1 768.7L371.4 767L372.8 765.2L373.8 763.5L369.2 761.8L372.2 760.1L373.1 758.4L373.4 756.7L373.4 755L372.1 753.3L374.7 751.6L374.3 749.9L372.7 748.2L373.4 746.5L375.2 744.8L372.9 743.1L373.6 741.4L375.5 739.6L375.4 737.9L373.4 736.2L375.1 734.5L374.1 732.8L375.2 731.1L375.8 729.4L374 727.7L374.6 726L374.9 724.3L375.5 722.6L375.3 720.9L376.1 719.2L377.5 717.5L378.1 715.8L377.6 714.1L379.8 712.4L381.5 710.7L380.9 708.9L380.8 707.2L382.4 705.5L382.1 703.8L381.7 702.1L383.2 700.4L382.1 698.7L384.5 697L383.2 695.3L384.1 693.6L386.3 691.9L385.9 690.1L386.3 688.4L385.9 686.7L386 685L386.4 683.3L387.4 681.6L385.1 679.9L387 678.1L385.7 676.4L385.7 674.7L387.6 673L387 671.3L387.9 669.6L388.1 667.8L387.3 665.9L386.1 664L385.6 662.2L387.3 660.3L388 658.4L386.5 656.5L385.9 654.7L385.8 652.9L386.4 651.2L388.1 649.5L386 648L386.8 646.5L387 645.2L388.6 644L389.6 642.9L386.7 641.9L387.2 641L390.1 640.2L390.4 639.5L388.1 638.8L388.9 638.2L389.8 637.7L389.4 637.2L390 636.8L390.4 636.4L389.9 636L389.5 635.7L389.8 635.4L390.2 635.1L391.4 634.8" fill="none" stroke="#0a32c8" stroke-width="2.7" stroke-linejoin="round" stroke-linecap="round" clip-path="url(#clipC)"/>
<path d="M387.9 639.4L392.1 646.9L383.6 646.9Z" fill="#fff" stroke="#0a32c8" stroke-width="1.5" stroke-linejoin="miter"/>
<path d="M386.7 666.7L390.9 674.2L382.4 674.2Z" fill="#fff" stroke="#0a32c8" stroke-width="1.5" stroke-linejoin="miter"/>
<path d="M383.6 694L387.9 701.5L379.4 701.5Z" fill="#fff" stroke="#0a32c8" stroke-width="1.5" stroke-linejoin="miter"/>
<path d="M375.5 721.4L379.8 728.8L371.2 728.8Z" fill="#fff" stroke="#0a32c8" stroke-width="1.5" stroke-linejoin="miter"/>
<path d="M373.1 748.7L377.4 756.2L368.9 756.2Z" fill="#fff" stroke="#0a32c8" stroke-width="1.5" stroke-linejoin="miter"/>
<path d="M369.6 776L373.9 783.5L365.4 783.5Z" fill="#fff" stroke="#0a32c8" stroke-width="1.5" stroke-linejoin="miter"/>
<path d="M363.8 803.3L368.1 810.8L359.6 810.8Z" fill="#fff" stroke="#0a32c8" stroke-width="1.5" stroke-linejoin="miter"/>
<path d="M356.8 830.6L361.1 838.1L352.6 838.1Z" fill="#fff" stroke="#0a32c8" stroke-width="1.5" stroke-linejoin="miter"/>
<path d="M352.8 857.9L357.1 865.4L348.6 865.4Z" fill="#fff" stroke="#0a32c8" stroke-width="1.5" stroke-linejoin="miter"/>
<path d="M346.5 885.3L350.8 892.7L342.2 892.7Z" fill="#fff" stroke="#0a32c8" stroke-width="1.5" stroke-linejoin="miter"/>
<path d="M341.8 912.6L346.1 920L337.6 920Z" fill="#fff" stroke="#0a32c8" stroke-width="1.5" stroke-linejoin="miter"/>
<path d="M331.8 939.9L336.1 947.4L327.6 947.4Z" fill="#fff" stroke="#0a32c8" stroke-width="1.5" stroke-linejoin="miter"/>
<path d="M326.6 967.2L330.9 974.7L322.4 974.7Z" fill="#fff" stroke="#0a32c8" stroke-width="1.5" stroke-linejoin="miter"/>
<path d="M306.1 994.5L310.4 1002L301.9 1002Z" fill="#fff" stroke="#0a32c8" stroke-width="1.5" stroke-linejoin="miter"/>
<path d="M401.3 1049.1L405.6 1056.6L397.1 1056.6Z" fill="#fff" stroke="#0a32c8" stroke-width="1.5" stroke-linejoin="miter"/>
<path d="M475.4 1076.5L479.6 1083.9L471.1 1083.9Z" fill="#fff" stroke="#0a32c8" stroke-width="1.5" stroke-linejoin="miter"/>
<path d="M600.2 1103.8L604.5 1111.3L596 1111.3Z" fill="#fff" stroke="#0a32c8" stroke-width="1.5" stroke-linejoin="miter"/>
<path d="M485 1109.3C481.1 1109.1 472.8 1109.4 461.5 1108.1C450.2 1106.8 433.4 1105.7 417.5 1101.3C401.6 1096.9 380.3 1087.1 366.1 1081.7C351.9 1076.3 342.5 1073.5 332.4 1068.9C322.3 1064.3 313.3 1058.5 305.5 1054.2C297.7 1049.9 293.6 1047.5 285.6 1042.9C277.7 1038.3 266.5 1030.2 257.8 1026.4C249.1 1022.6 244.8 1022.3 233.5 1020.3C222.2 1018.3 205.4 1015.9 190.1 1014.3C174.8 1012.7 158.7 1011.5 141.5 1010.8C124.3 1010.1 95.9 1010.3 86.8 1010.2" fill="none" stroke="#700034" stroke-width="2.7" stroke-linejoin="round" stroke-linecap="round" clip-path="url(#clipC)"/>
<path d="M86.8 1009.6L92 1009.5L100.1 1009.4L109.3 1009.3L118.8 1009.1L129.1 1008.9L138.2 1008.5L146.7 1008L155.8 1007.5L164.6 1006.8L174 1006.1L182.2 1005.4L189.7 1004.7L197.1 1004L204.4 1003.3L210.6 1002.6L217.1 1001.8L222.7 1000.9L228.9 999.8L234.6 998.7L239.4 997.5L244.9 996.2L249.6 994.7L254.9 992.9L259.8 990.8L264.7 988.3L269.1 985.5L273.8 982.4L278.9 979L283.2 975.5L287.1 971.7L291.1 967.6L295.1 963.2L298.3 958.6L302.1 953.8L305 949.1L308.2 944.4L311.4 939.8L314.5 935.3L317.4 930.7L319.6 926.1L322.6 921.6L324.6 917L326.8 912.4L329 907.9L330.9 903.3L332.5 898.8L334.2 894.2L335.1 889.7L336.4 885.2L337.7 880.6L338.3 876.1L339.1 871.5L340 867L341.3 862.4L342.3 857.8L343.3 853.3L344.4 848.7L345.3 844.2L345.9 839.6L346.9 835.1L348.1 830.6L348.5 826L349.8 821.5L350.2 817L351.1 812.4L352.3 807.9L352.9 803.4L354.4 798.8L355.2 794.3L355.7 789.7L356.4 785.2L357.2 780.6L358.4 775.9L359.4 771L360.2 766.1L361.5 761.4L362.2 757.1L363.1 753.3L363.2 750.1L363.8 747.2L364.5 744.7L365 742.6L365.2 740.8L365.8 739.2L365.7 738L366 737.3L366.3 736.8L366.5 736.6L366.7 736.4L366.5 736.2" fill="none" stroke="#700034" stroke-width="2.7" stroke-linejoin="round" stroke-linecap="round" clip-path="url(#clipC)"/>
<path d="M366.5 736.2L398.4 734.8L367 733.6" fill="none" stroke="#700034" stroke-width="2.7" stroke-linejoin="round" stroke-linecap="round" clip-path="url(#clipC)"/>
<path d="M366.8 733.6C366.8 732.3 365.6 728.2 366.8 726C368 723.8 372.1 725 373.8 720.5C375.6 716 376.5 704.5 377.3 699C378.1 693.5 377.8 692.4 378.5 687.8C379.2 683.2 379.8 677.1 381.5 671.3C383.2 665.4 387.1 657.2 389 652.7C390.9 648.2 391.7 647 393 644C394.3 641 396.1 636.3 396.7 634.8" fill="none" stroke="#700034" stroke-width="2.7" stroke-linejoin="round" stroke-linecap="round" clip-path="url(#clipC)"/>
<path d="M393 639.3L397.6 643.9L393 648.5L388.4 643.9Z" fill="#fff" stroke="#700034" stroke-width="1.5"/>
<path d="M381.5 666.6L386.1 671.2L381.5 675.8L376.9 671.2Z" fill="#fff" stroke="#700034" stroke-width="1.5"/>
<path d="M377.3 693.9L381.9 698.5L377.3 703.1L372.7 698.5Z" fill="#fff" stroke="#700034" stroke-width="1.5"/>
<path d="M366.8 721.2L371.4 725.9L366.8 730.5L362.2 725.9Z" fill="#fff" stroke="#700034" stroke-width="1.5"/>
<path d="M362.9 748.6L367.5 753.2L362.9 757.8L358.3 753.2Z" fill="#fff" stroke="#700034" stroke-width="1.5"/>
<path d="M357.5 775.9L362.1 780.5L357.5 785.1L352.9 780.5Z" fill="#fff" stroke="#700034" stroke-width="1.5"/>
<path d="M352.3 803.2L356.9 807.8L352.3 812.4L347.7 807.8Z" fill="#fff" stroke="#700034" stroke-width="1.5"/>
<path d="M347 830.5L351.6 835.1L347 839.7L342.4 835.1Z" fill="#fff" stroke="#700034" stroke-width="1.5"/>
<path d="M341.1 857.8L345.7 862.4L341.1 867L336.5 862.4Z" fill="#fff" stroke="#700034" stroke-width="1.5"/>
<path d="M335.3 885.1L339.9 889.7L335.3 894.3L330.7 889.7Z" fill="#fff" stroke="#700034" stroke-width="1.5"/>
<path d="M324.8 912.5L329.4 917.1L324.8 921.7L320.2 917.1Z" fill="#fff" stroke="#700034" stroke-width="1.5"/>
<path d="M308.4 939.8L313 944.4L308.4 949L303.8 944.4Z" fill="#fff" stroke="#700034" stroke-width="1.5"/>
<path d="M287.4 967.1L292 971.7L287.4 976.3L282.8 971.7Z" fill="#fff" stroke="#700034" stroke-width="1.5"/>
<path d="M228.7 994.4L233.3 999L228.7 1003.6L224.1 999Z" fill="#fff" stroke="#700034" stroke-width="1.5"/>
<path d="M257.8 1021.7L262.4 1026.3L257.8 1030.9L253.2 1026.3Z" fill="#fff" stroke="#700034" stroke-width="1.5"/>
<path d="M305.5 1049L310.1 1053.6L305.5 1058.2L300.9 1053.6Z" fill="#fff" stroke="#700034" stroke-width="1.5"/>
<path d="M366.1 1076.3L370.7 1080.9L366.1 1085.5L361.5 1080.9Z" fill="#fff" stroke="#700034" stroke-width="1.5"/>
<path d="M485 1103.7L489.6 1108.3L485 1112.9L480.4 1108.3Z" fill="#fff" stroke="#700034" stroke-width="1.5"/>
<path d="M548.2 1108.7C540.2 1107.2 516.4 1103.1 500 1100C483.6 1096.9 463.8 1093.1 450 1090C436.2 1086.9 429.2 1085.2 417.5 1081.4C405.8 1077.6 392.2 1071.6 380 1067C367.8 1062.4 358.4 1057.8 344.1 1053.8C329.8 1049.8 308.4 1045.7 294.3 1042.9C280.2 1040.1 274.1 1038.5 259.6 1036.8C245.1 1035.1 236.3 1033.6 207.5 1032.5C178.7 1031.4 106.9 1030.6 86.8 1030.2" fill="none" stroke="#ff0a80" stroke-width="2.7" stroke-linejoin="round" stroke-linecap="round" clip-path="url(#clipC)"/>
<path d="M86.8 1029L99.9 1028.7L118.9 1028.4L141.3 1028L164 1027.5L184.5 1027L200.3 1026.4L211.9 1025.8L220.7 1025.1L227.2 1024.4L232.5 1023.6L237.8 1022.8L242.4 1022.1L246.3 1021.4L249.9 1020.8L252.7 1020.2L254.8 1019.5L256.9 1018.7L259.8 1017.7L262.3 1016.5L264.6 1015.2L266.8 1013.7L269.2 1012.2L271.2 1010.6L273.7 1009L274.8 1007.5L276.5 1005.9L278.1 1004.3L279 1002.7L280.4 1000.9L281.9 999L283.9 996.9L286.2 994.5L288.6 992.1L290.4 989.6L292.4 987.2L294.5 984.8L295.6 982.7L296.7 980.9L297.5 979.1L298.5 977.1L299.9 974.7L300.7 971.7L302.3 968L304.3 963.7L306.2 958.9L308 954L309.6 949.1L311.7 944.4L313.2 939.8L314.7 935.3L316.5 930.7L318.4 926.1L320 921.6L321.1 917L322.5 912.4L324.2 907.9L324.9 903.3L326.4 898.8L327.2 894.2L328.1 889.7L329.1 885.2L330.2 880.6L331.4 876.1L331.7 871.5L333 867L333.5 862.4L334.2 857.8L335.3 853.3L335.9 848.7L336.5 844.2L337.4 839.6L338.5 835.1L339.4 830.6L340 826L340.6 821.5L341.9 817L342.7 812.4L343.7 807.9L344.6 803.4L345.1 798.8L346.2 794.3L347.1 789.7L347.6 785.2L348.5 780.6L349.4 776.1L350.3 771.5L351.3 767L352.1 762.4L353 757.9L354.2 753.3L354.7 748.8L355.5 744.2L356.2 739.6L356.7 735.1L357.1 730.5L358.2 726L358.8 721.5L359.7 716.9L360.3 712.4L361.2 707.8L362.1 703.3L362.8 698.7L364 694.1L365 689.6L366.4 685L367.2 680.4L368.6 675.9L369.8 671.3L371.5 666.5L372.7 661.5L374.6 656.5L376.2 651.8L377.6 647.5L378.3 644L379.7 641.3L380.3 639.3L380.9 637.7L381.4 636.5L381.4 635.6L382 634.8" fill="none" stroke="#ff0a80" stroke-width="2.7" stroke-linejoin="round" stroke-linecap="round" clip-path="url(#clipC)"/>
<circle cx="378.5" cy="643.9" r="3.9" fill="#fff" stroke="#ff0a80" stroke-width="1.5"/>
<circle cx="369.9" cy="671.2" r="3.9" fill="#fff" stroke="#ff0a80" stroke-width="1.5"/>
<circle cx="362.9" cy="698.5" r="3.9" fill="#fff" stroke="#ff0a80" stroke-width="1.5"/>
<circle cx="357.9" cy="725.9" r="3.9" fill="#fff" stroke="#ff0a80" stroke-width="1.5"/>
<circle cx="354" cy="753.2" r="3.9" fill="#fff" stroke="#ff0a80" stroke-width="1.5"/>
<circle cx="348.6" cy="780.5" r="3.9" fill="#fff" stroke="#ff0a80" stroke-width="1.5"/>
<circle cx="343.5" cy="807.8" r="3.9" fill="#fff" stroke="#ff0a80" stroke-width="1.5"/>
<circle cx="338.3" cy="835.1" r="3.9" fill="#fff" stroke="#ff0a80" stroke-width="1.5"/>
<circle cx="333.6" cy="862.4" r="3.9" fill="#fff" stroke="#ff0a80" stroke-width="1.5"/>
<circle cx="328.3" cy="889.7" r="3.9" fill="#fff" stroke="#ff0a80" stroke-width="1.5"/>
<circle cx="321.3" cy="917.1" r="3.9" fill="#fff" stroke="#ff0a80" stroke-width="1.5"/>
<circle cx="311.4" cy="944.4" r="3.9" fill="#fff" stroke="#ff0a80" stroke-width="1.5"/>
<circle cx="300.9" cy="971.7" r="3.9" fill="#fff" stroke="#ff0a80" stroke-width="1.5"/>
<circle cx="282.2" cy="999" r="3.9" fill="#fff" stroke="#ff0a80" stroke-width="1.5"/>
<circle cx="200.5" cy="1026.3" r="3.9" fill="#fff" stroke="#ff0a80" stroke-width="1.5"/>
<circle cx="344.1" cy="1053.6" r="3.9" fill="#fff" stroke="#ff0a80" stroke-width="1.5"/>
<circle cx="417.5" cy="1080.9" r="3.9" fill="#fff" stroke="#ff0a80" stroke-width="1.5"/>
<circle cx="548.2" cy="1108.3" r="3.9" fill="#fff" stroke="#ff0a80" stroke-width="1.5"/>
<path d="M564.4 1108.1C554.6 1107.9 525.2 1108 505.6 1107.2C486 1106.4 461.6 1105.1 446.9 1103.4C432.2 1101.7 426.1 1099.5 417.5 1096.9C408.9 1094.3 400.2 1090.6 395 1088C389.8 1085.4 389.2 1084.7 386.1 1081.4C383 1078.2 379.8 1073.1 376.2 1068.5C372.6 1063.9 369.3 1058.7 364.6 1053.8C359.9 1048.9 353.4 1043.8 348.1 1039.3C342.8 1034.8 341.9 1031.3 332.9 1027C323.9 1022.7 306.5 1017.1 294.3 1013.4C282.1 1009.7 270.6 1006.7 259.6 1004.7C248.6 1002.7 239.9 1001.9 228.3 1001.2C216.7 1000.5 204.7 1000.6 190 1000.4C175.3 1000.2 157.2 1000 140 999.8C122.8 999.6 95.7 999.3 86.8 999.2" fill="none" stroke="#58088f" stroke-width="2.7" stroke-linejoin="round" stroke-linecap="round" clip-path="url(#clipC)"/>
<path d="M86.8 997.4C104 997.4 164.1 998.1 190 997.4C215.9 996.7 227.7 995.6 242.2 993.4C256.7 991.1 264.5 987.5 276.9 983.9C289.3 980.3 305.4 978.3 316.8 971.7C328.2 965.1 337.8 953.5 345.3 944.4C352.8 935.3 357.3 926.1 361.7 917C366.1 907.9 368.4 898.8 371.5 889.7C374.6 880.6 377.3 871.5 380.1 862.4C382.9 853.3 386.2 844.2 388.3 835.1C390.4 826 391 817 392.5 807.9C394 798.8 395.6 789.7 397.2 780.6C398.8 771.5 400.5 762.4 401.9 753.3C403.3 744.2 404.2 735.1 405.4 726C406.6 716.9 407.9 707.8 408.9 698.7C409.9 689.6 410.2 680.4 411.2 671.3C412.2 662.2 413.9 650.1 414.7 644C415.5 637.9 415.7 636.3 415.9 634.8" fill="none" stroke="#58088f" stroke-width="2.7" stroke-linejoin="round" stroke-linecap="round" clip-path="url(#clipC)"/>
<rect x="410.9" y="640.1" width="7.6" height="7.6" fill="#58088f"/>
<rect x="413.2" y="644.2" width="3" height="1.3" fill="#fff" opacity="0.8"/>
<rect x="407.4" y="667.4" width="7.6" height="7.6" fill="#58088f"/>
<rect x="409.7" y="671.5" width="3" height="1.3" fill="#fff" opacity="0.8"/>
<rect x="405.1" y="694.7" width="7.6" height="7.6" fill="#58088f"/>
<rect x="407.4" y="698.8" width="3" height="1.3" fill="#fff" opacity="0.8"/>
<rect x="401.6" y="722.1" width="7.6" height="7.6" fill="#58088f"/>
<rect x="403.9" y="726.1" width="3" height="1.3" fill="#fff" opacity="0.8"/>
<rect x="398.1" y="749.4" width="7.6" height="7.6" fill="#58088f"/>
<rect x="400.4" y="753.5" width="3" height="1.3" fill="#fff" opacity="0.8"/>
<rect x="393.4" y="776.7" width="7.6" height="7.6" fill="#58088f"/>
<rect x="395.7" y="780.8" width="3" height="1.3" fill="#fff" opacity="0.8"/>
<rect x="388.7" y="804" width="7.6" height="7.6" fill="#58088f"/>
<rect x="391" y="808.1" width="3" height="1.3" fill="#fff" opacity="0.8"/>
<rect x="384.5" y="831.3" width="7.6" height="7.6" fill="#58088f"/>
<rect x="386.8" y="835.4" width="3" height="1.3" fill="#fff" opacity="0.8"/>
<rect x="376.3" y="858.6" width="7.6" height="7.6" fill="#58088f"/>
<rect x="378.6" y="862.7" width="3" height="1.3" fill="#fff" opacity="0.8"/>
<rect x="367.7" y="885.9" width="7.6" height="7.6" fill="#58088f"/>
<rect x="370" y="890" width="3" height="1.3" fill="#fff" opacity="0.8"/>
<rect x="357.9" y="913.3" width="7.6" height="7.6" fill="#58088f"/>
<rect x="360.2" y="917.4" width="3" height="1.3" fill="#fff" opacity="0.8"/>
<rect x="341.5" y="940.6" width="7.6" height="7.6" fill="#58088f"/>
<rect x="343.8" y="944.7" width="3" height="1.3" fill="#fff" opacity="0.8"/>
<rect x="313" y="967.9" width="7.6" height="7.6" fill="#58088f"/>
<rect x="315.3" y="972" width="3" height="1.3" fill="#fff" opacity="0.8"/>
<rect x="184.6" y="995.2" width="7.6" height="7.6" fill="#58088f"/>
<rect x="186.9" y="999.3" width="3" height="1.3" fill="#fff" opacity="0.8"/>
<rect x="329.1" y="1022.5" width="7.6" height="7.6" fill="#58088f"/>
<rect x="331.4" y="1026.6" width="3" height="1.3" fill="#fff" opacity="0.8"/>
<rect x="360.8" y="1049.8" width="7.6" height="7.6" fill="#58088f"/>
<rect x="363.1" y="1053.9" width="3" height="1.3" fill="#fff" opacity="0.8"/>
<rect x="382.3" y="1077.1" width="7.6" height="7.6" fill="#58088f"/>
<rect x="384.6" y="1081.2" width="3" height="1.3" fill="#fff" opacity="0.8"/>
<rect x="560.6" y="1104.5" width="7.6" height="7.6" fill="#58088f"/>
<rect x="562.9" y="1108.6" width="3" height="1.3" fill="#fff" opacity="0.8"/>
<path d="M550.3 1108.7C541.9 1106.9 515 1101.1 500 1098C484.9 1094.9 473.6 1092.8 460 1090C446.4 1087.2 431.7 1085.2 418.4 1081.4C405.1 1077.6 393.4 1071.6 380 1067C366.6 1062.4 352.5 1058.1 338.2 1053.8C323.9 1049.5 307.4 1044.3 294.3 1041.2C281.2 1038.1 277 1036.5 259.6 1035.1C242.2 1033.6 218.9 1033.1 190.1 1032.5C161.3 1031.9 104 1031.8 86.8 1031.6" fill="none" stroke="#615a00" stroke-width="2.7" stroke-linejoin="round" stroke-linecap="round" clip-path="url(#clipC)"/>
<path d="M86.8 1030.7C104 1030.5 161.2 1030.3 190 1029.6C218.8 1028.9 241.9 1028.2 259.3 1026.4C276.7 1024.6 284.1 1021.1 294.3 1018.6C304.5 1016.1 312.5 1015 320.3 1011.7C328.1 1008.4 335.3 1003 341.1 999C346.9 995 350.6 992.5 355 988C359.4 983.5 363.3 979 367.5 971.7C371.7 964.4 376.5 953.5 380.4 944.4C384.3 935.3 387.5 926.1 390.9 917C394.3 907.9 397.6 898.8 400.7 889.7C403.8 880.6 406.9 871.5 409.3 862.4C411.7 853.3 412.9 844.2 415.2 835.1C417.5 826 420.8 817 422.9 807.9C425 798.8 426.4 789.7 428 780.6C429.6 771.5 431.2 762.4 432.7 753.3C434.2 744.2 435.5 735.1 436.9 726C438.3 716.9 439.6 707.8 441.1 698.7C442.6 689.6 444.4 680.4 445.8 671.3C447.2 662.2 448.5 650.1 449.3 644C450.1 637.9 450.3 636.3 450.5 634.8" fill="none" stroke="#615a00" stroke-width="2.7" stroke-linejoin="round" stroke-linecap="round" clip-path="url(#clipC)"/>
<circle cx="449.3" cy="643.9" r="4.3" fill="#615a00"/>
<path d="M449 641.5A2.4 2.4 0 0 0 449 646.3Z" fill="#fff"/>
<circle cx="445.8" cy="671.2" r="4.3" fill="#615a00"/>
<path d="M445.5 668.8A2.4 2.4 0 0 0 445.5 673.6Z" fill="#fff"/>
<circle cx="441.1" cy="698.5" r="4.3" fill="#615a00"/>
<path d="M440.8 696.1A2.4 2.4 0 0 0 440.8 700.9Z" fill="#fff"/>
<circle cx="436.9" cy="725.9" r="4.3" fill="#615a00"/>
<path d="M436.6 723.5A2.4 2.4 0 0 0 436.6 728.2Z" fill="#fff"/>
<circle cx="432.7" cy="753.2" r="4.3" fill="#615a00"/>
<path d="M432.4 750.8A2.4 2.4 0 0 0 432.4 755.6Z" fill="#fff"/>
<circle cx="428" cy="780.5" r="4.3" fill="#615a00"/>
<path d="M427.7 778.1A2.4 2.4 0 0 0 427.7 782.9Z" fill="#fff"/>
<circle cx="422.9" cy="807.8" r="4.3" fill="#615a00"/>
<path d="M422.6 805.4A2.4 2.4 0 0 0 422.6 810.2Z" fill="#fff"/>
<circle cx="415.2" cy="835.1" r="4.3" fill="#615a00"/>
<path d="M414.9 832.7A2.4 2.4 0 0 0 414.9 837.5Z" fill="#fff"/>
<circle cx="409.3" cy="862.4" r="4.3" fill="#615a00"/>
<path d="M409 860A2.4 2.4 0 0 0 409 864.8Z" fill="#fff"/>
<circle cx="400.7" cy="889.7" r="4.3" fill="#615a00"/>
<path d="M400.4 887.3A2.4 2.4 0 0 0 400.4 892.1Z" fill="#fff"/>
<circle cx="390.9" cy="917.1" r="4.3" fill="#615a00"/>
<path d="M390.6 914.7A2.4 2.4 0 0 0 390.6 919.5Z" fill="#fff"/>
<circle cx="380.4" cy="944.4" r="4.3" fill="#615a00"/>
<path d="M380.1 942A2.4 2.4 0 0 0 380.1 946.8Z" fill="#fff"/>
<circle cx="367.5" cy="971.7" r="4.3" fill="#615a00"/>
<path d="M367.2 969.3A2.4 2.4 0 0 0 367.2 974.1Z" fill="#fff"/>
<circle cx="341.1" cy="999" r="4.3" fill="#615a00"/>
<path d="M340.8 996.6A2.4 2.4 0 0 0 340.8 1001.4Z" fill="#fff"/>
<circle cx="259.3" cy="1026.3" r="4.3" fill="#615a00"/>
<path d="M259 1023.9A2.4 2.4 0 0 0 259 1028.7Z" fill="#fff"/>
<circle cx="338.2" cy="1053.6" r="4.3" fill="#615a00"/>
<path d="M337.9 1051.2A2.4 2.4 0 0 0 337.9 1056Z" fill="#fff"/>
<circle cx="418.4" cy="1080.9" r="4.3" fill="#615a00"/>
<path d="M418.1 1078.5A2.4 2.4 0 0 0 418.1 1083.3Z" fill="#fff"/>
<circle cx="550.3" cy="1108.3" r="4.3" fill="#615a00"/>
<path d="M550 1105.9A2.4 2.4 0 0 0 550 1110.7Z" fill="#fff"/>
<line x1="118.3" y1="608.9" x2="172.2" y2="608.9" stroke="#b80000" stroke-width="2.3" />
<rect x="142.2" y="605.6" width="6.5" height="6.5" fill="#fff" stroke="#b80000" stroke-width="1.8"/>
<text x="178.4" y="617.4" font-size="21" font-family="Liberation Serif, serif" font-weight="bold" fill="#000" text-anchor="start" >As-received</text>
<line x1="118.3" y1="638.8" x2="172.2" y2="638.8" stroke="#0a700a" stroke-width="2.3" />
<circle cx="145.5" cy="638.8" r="3.9" fill="#fff" stroke="#0a700a" stroke-width="1.5"/>
<text x="178.4" y="647.3" font-size="21" font-family="Liberation Serif, serif" font-weight="bold" fill="#000" text-anchor="start" >500°C-2h</text>
<line x1="118.3" y1="668.1" x2="172.2" y2="668.1" stroke="#0a32c8" stroke-width="2.3" />
<path d="M145.5 663.6L149.8 671.1L141.2 671.1Z" fill="#fff" stroke="#0a32c8" stroke-width="1.5" stroke-linejoin="miter"/>
<text x="178.4" y="676.6" font-size="21" font-family="Liberation Serif, serif" font-weight="bold" fill="#000" text-anchor="start" >500°C-24h</text>
<line x1="118.3" y1="698" x2="172.2" y2="698" stroke="#700034" stroke-width="2.3" />
<path d="M145.5 693.4L150.1 698L145.5 702.6L140.9 698Z" fill="#fff" stroke="#700034" stroke-width="1.5"/>
<text x="178.4" y="706.5" font-size="21" font-family="Liberation Serif, serif" font-weight="bold" fill="#000" text-anchor="start" >650°C-2h</text>
<line x1="118.3" y1="727.7" x2="172.2" y2="727.7" stroke="#ff0a80" stroke-width="2.3" />
<circle cx="145.5" cy="727.7" r="3.9" fill="#fff" stroke="#ff0a80" stroke-width="1.5"/>
<text x="178.4" y="736.2" font-size="21" font-family="Liberation Serif, serif" font-weight="bold" fill="#000" text-anchor="start" >650°C-24h</text>
<line x1="118.3" y1="756.8" x2="172.2" y2="756.8" stroke="#58088f" stroke-width="2.3" />
<rect x="141.7" y="753" width="7.6" height="7.6" fill="#58088f"/>
<rect x="144" y="757.1" width="3" height="1.3" fill="#fff" opacity="0.8"/>
<text x="178.4" y="765.3" font-size="21" font-family="Liberation Serif, serif" font-weight="bold" fill="#000" text-anchor="start" >800°C-2h</text>
<line x1="118.3" y1="786.4" x2="172.2" y2="786.4" stroke="#615a00" stroke-width="2.3" />
<circle cx="145.5" cy="786.4" r="4.3" fill="#615a00"/>
<path d="M145.2 784A2.4 2.4 0 0 0 145.2 788.8Z" fill="#fff"/>
<text x="178.4" y="794.9" font-size="21" font-family="Liberation Serif, serif" font-weight="bold" fill="#000" text-anchor="start" >800°C-24h</text>
<rect x="86.8" y="580.3" width="650.9000000000001" height="655.5" fill="none" stroke="#000" stroke-width="2"/>
<line x1="86.8" y1="598.4" x2="91.4" y2="598.4" stroke="#000" stroke-width="2" />
<line x1="86.8" y1="616.6" x2="91.4" y2="616.6" stroke="#000" stroke-width="2" />
<line x1="86.8" y1="634.8" x2="96.1" y2="634.8" stroke="#000" stroke-width="2" />
<line x1="86.8" y1="653" x2="91.4" y2="653" stroke="#000" stroke-width="2" />
<line x1="86.8" y1="671.2" x2="91.4" y2="671.2" stroke="#000" stroke-width="2" />
<line x1="86.8" y1="689.4" x2="91.4" y2="689.4" stroke="#000" stroke-width="2" />
<line x1="86.8" y1="707.6" x2="91.4" y2="707.6" stroke="#000" stroke-width="2" />
<line x1="86.8" y1="725.9" x2="96.1" y2="725.9" stroke="#000" stroke-width="2" />
<line x1="86.8" y1="744.1" x2="91.4" y2="744.1" stroke="#000" stroke-width="2" />
<line x1="86.8" y1="762.3" x2="91.4" y2="762.3" stroke="#000" stroke-width="2" />
<line x1="86.8" y1="780.5" x2="91.4" y2="780.5" stroke="#000" stroke-width="2" />
<line x1="86.8" y1="798.7" x2="91.4" y2="798.7" stroke="#000" stroke-width="2" />
<line x1="86.8" y1="816.9" x2="96.1" y2="816.9" stroke="#000" stroke-width="2" />
<line x1="86.8" y1="835.1" x2="91.4" y2="835.1" stroke="#000" stroke-width="2" />
<line x1="86.8" y1="853.3" x2="91.4" y2="853.3" stroke="#000" stroke-width="2" />
<line x1="86.8" y1="871.5" x2="91.4" y2="871.5" stroke="#000" stroke-width="2" />
<line x1="86.8" y1="889.7" x2="91.4" y2="889.7" stroke="#000" stroke-width="2" />
<line x1="86.8" y1="908" x2="96.1" y2="908" stroke="#000" stroke-width="2" />
<line x1="86.8" y1="926.2" x2="91.4" y2="926.2" stroke="#000" stroke-width="2" />
<line x1="86.8" y1="944.4" x2="91.4" y2="944.4" stroke="#000" stroke-width="2" />
<line x1="86.8" y1="962.6" x2="91.4" y2="962.6" stroke="#000" stroke-width="2" />
<line x1="86.8" y1="980.8" x2="91.4" y2="980.8" stroke="#000" stroke-width="2" />
<line x1="86.8" y1="999" x2="96.1" y2="999" stroke="#000" stroke-width="2" />
<line x1="86.8" y1="1017.2" x2="91.4" y2="1017.2" stroke="#000" stroke-width="2" />
<line x1="86.8" y1="1035.4" x2="91.4" y2="1035.4" stroke="#000" stroke-width="2" />
<line x1="86.8" y1="1053.6" x2="91.4" y2="1053.6" stroke="#000" stroke-width="2" />
<line x1="86.8" y1="1071.8" x2="91.4" y2="1071.8" stroke="#000" stroke-width="2" />
<line x1="86.8" y1="1090" x2="96.1" y2="1090" stroke="#000" stroke-width="2" />
<line x1="86.8" y1="1108.3" x2="91.4" y2="1108.3" stroke="#000" stroke-width="2" />
<line x1="86.8" y1="1126.5" x2="91.4" y2="1126.5" stroke="#000" stroke-width="2" />
<line x1="86.8" y1="1144.7" x2="91.4" y2="1144.7" stroke="#000" stroke-width="2" />
<line x1="86.8" y1="1162.9" x2="91.4" y2="1162.9" stroke="#000" stroke-width="2" />
<line x1="86.8" y1="1181.1" x2="96.1" y2="1181.1" stroke="#000" stroke-width="2" />
<line x1="86.8" y1="1199.3" x2="91.4" y2="1199.3" stroke="#000" stroke-width="2" />
<line x1="86.8" y1="1217.5" x2="91.4" y2="1217.5" stroke="#000" stroke-width="2" />
<line x1="120" y1="1235.8" x2="120" y2="1230.3" stroke="#000" stroke-width="1.8" />
<line x1="139.4" y1="1235.8" x2="139.4" y2="1230.3" stroke="#000" stroke-width="1.8" />
<line x1="153.2" y1="1235.8" x2="153.2" y2="1230.3" stroke="#000" stroke-width="1.8" />
<line x1="163.9" y1="1235.8" x2="163.9" y2="1230.3" stroke="#000" stroke-width="1.8" />
<line x1="172.6" y1="1235.8" x2="172.6" y2="1230.3" stroke="#000" stroke-width="1.8" />
<line x1="180" y1="1235.8" x2="180" y2="1230.3" stroke="#000" stroke-width="1.8" />
<line x1="186.4" y1="1235.8" x2="186.4" y2="1230.3" stroke="#000" stroke-width="1.8" />
<line x1="192.1" y1="1235.8" x2="192.1" y2="1230.3" stroke="#000" stroke-width="1.8" />
<line x1="197.1" y1="1235.8" x2="197.1" y2="1225.8" stroke="#000" stroke-width="1.8" />
<line x1="230.3" y1="1235.8" x2="230.3" y2="1230.3" stroke="#000" stroke-width="1.8" />
<line x1="249.7" y1="1235.8" x2="249.7" y2="1230.3" stroke="#000" stroke-width="1.8" />
<line x1="263.5" y1="1235.8" x2="263.5" y2="1230.3" stroke="#000" stroke-width="1.8" />
<line x1="274.2" y1="1235.8" x2="274.2" y2="1230.3" stroke="#000" stroke-width="1.8" />
<line x1="282.9" y1="1235.8" x2="282.9" y2="1230.3" stroke="#000" stroke-width="1.8" />
<line x1="290.3" y1="1235.8" x2="290.3" y2="1230.3" stroke="#000" stroke-width="1.8" />
<line x1="296.7" y1="1235.8" x2="296.7" y2="1230.3" stroke="#000" stroke-width="1.8" />
<line x1="302.4" y1="1235.8" x2="302.4" y2="1230.3" stroke="#000" stroke-width="1.8" />
<line x1="307.4" y1="1235.8" x2="307.4" y2="1225.8" stroke="#000" stroke-width="1.8" />
<line x1="340.6" y1="1235.8" x2="340.6" y2="1230.3" stroke="#000" stroke-width="1.8" />
<line x1="360" y1="1235.8" x2="360" y2="1230.3" stroke="#000" stroke-width="1.8" />
<line x1="373.8" y1="1235.8" x2="373.8" y2="1230.3" stroke="#000" stroke-width="1.8" />
<line x1="384.5" y1="1235.8" x2="384.5" y2="1230.3" stroke="#000" stroke-width="1.8" />
<line x1="393.2" y1="1235.8" x2="393.2" y2="1230.3" stroke="#000" stroke-width="1.8" />
<line x1="400.6" y1="1235.8" x2="400.6" y2="1230.3" stroke="#000" stroke-width="1.8" />
<line x1="407" y1="1235.8" x2="407" y2="1230.3" stroke="#000" stroke-width="1.8" />
<line x1="412.7" y1="1235.8" x2="412.7" y2="1230.3" stroke="#000" stroke-width="1.8" />
<line x1="417.7" y1="1235.8" x2="417.7" y2="1225.8" stroke="#000" stroke-width="1.8" />
<line x1="450.9" y1="1235.8" x2="450.9" y2="1230.3" stroke="#000" stroke-width="1.8" />
<line x1="470.3" y1="1235.8" x2="470.3" y2="1230.3" stroke="#000" stroke-width="1.8" />
<line x1="484.1" y1="1235.8" x2="484.1" y2="1230.3" stroke="#000" stroke-width="1.8" />
<line x1="494.8" y1="1235.8" x2="494.8" y2="1230.3" stroke="#000" stroke-width="1.8" />
<line x1="503.5" y1="1235.8" x2="503.5" y2="1230.3" stroke="#000" stroke-width="1.8" />
<line x1="510.9" y1="1235.8" x2="510.9" y2="1230.3" stroke="#000" stroke-width="1.8" />
<line x1="517.3" y1="1235.8" x2="517.3" y2="1230.3" stroke="#000" stroke-width="1.8" />
<line x1="523" y1="1235.8" x2="523" y2="1230.3" stroke="#000" stroke-width="1.8" />
<line x1="528" y1="1235.8" x2="528" y2="1225.8" stroke="#000" stroke-width="1.8" />
<line x1="561.2" y1="1235.8" x2="561.2" y2="1230.3" stroke="#000" stroke-width="1.8" />
<line x1="580.6" y1="1235.8" x2="580.6" y2="1230.3" stroke="#000" stroke-width="1.8" />
<line x1="594.4" y1="1235.8" x2="594.4" y2="1230.3" stroke="#000" stroke-width="1.8" />
<line x1="605.1" y1="1235.8" x2="605.1" y2="1230.3" stroke="#000" stroke-width="1.8" />
<line x1="613.8" y1="1235.8" x2="613.8" y2="1230.3" stroke="#000" stroke-width="1.8" />
<line x1="621.2" y1="1235.8" x2="621.2" y2="1230.3" stroke="#000" stroke-width="1.8" />
<line x1="627.6" y1="1235.8" x2="627.6" y2="1230.3" stroke="#000" stroke-width="1.8" />
<line x1="633.3" y1="1235.8" x2="633.3" y2="1230.3" stroke="#000" stroke-width="1.8" />
<line x1="638.3" y1="1235.8" x2="638.3" y2="1225.8" stroke="#000" stroke-width="1.8" />
<line x1="671.5" y1="1235.8" x2="671.5" y2="1230.3" stroke="#000" stroke-width="1.8" />
<line x1="690.9" y1="1235.8" x2="690.9" y2="1230.3" stroke="#000" stroke-width="1.8" />
<line x1="704.7" y1="1235.8" x2="704.7" y2="1230.3" stroke="#000" stroke-width="1.8" />
<line x1="715.4" y1="1235.8" x2="715.4" y2="1230.3" stroke="#000" stroke-width="1.8" />
<line x1="724.1" y1="1235.8" x2="724.1" y2="1230.3" stroke="#000" stroke-width="1.8" />
<line x1="731.5" y1="1235.8" x2="731.5" y2="1230.3" stroke="#000" stroke-width="1.8" />
<text x="76.2" y="641.8" font-size="20.5" font-family="Liberation Serif, serif" font-weight="bold" fill="#000" text-anchor="end" >2.0</text>
<text x="76.2" y="732.9" font-size="20.5" font-family="Liberation Serif, serif" font-weight="bold" fill="#000" text-anchor="end" >1.5</text>
<text x="76.2" y="823.9" font-size="20.5" font-family="Liberation Serif, serif" font-weight="bold" fill="#000" text-anchor="end" >1.0</text>
<text x="76.2" y="915" font-size="20.5" font-family="Liberation Serif, serif" font-weight="bold" fill="#000" text-anchor="end" >0.5</text>
<text x="76.2" y="1006" font-size="20.5" font-family="Liberation Serif, serif" font-weight="bold" fill="#000" text-anchor="end" >0.0</text>
<text x="76.2" y="1097" font-size="20.5" font-family="Liberation Serif, serif" font-weight="bold" fill="#000" text-anchor="end" >-0.5</text>
<text x="76.2" y="1188.1" font-size="20.5" font-family="Liberation Serif, serif" font-weight="bold" fill="#000" text-anchor="end" >-1.0</text>
<text x="86.8" y="1267.5" font-size="20.5" font-family="Liberation Serif, serif" font-weight="bold" text-anchor="middle">10<tspan font-size="12.5" dy="-10">-9</tspan></text>
<text x="197.1" y="1267.5" font-size="20.5" font-family="Liberation Serif, serif" font-weight="bold" text-anchor="middle">10<tspan font-size="12.5" dy="-10">-8</tspan></text>
<text x="307.4" y="1267.5" font-size="20.5" font-family="Liberation Serif, serif" font-weight="bold" text-anchor="middle">10<tspan font-size="12.5" dy="-10">-7</tspan></text>
<text x="417.7" y="1267.5" font-size="20.5" font-family="Liberation Serif, serif" font-weight="bold" text-anchor="middle">10<tspan font-size="12.5" dy="-10">-6</tspan></text>
<text x="528" y="1267.5" font-size="20.5" font-family="Liberation Serif, serif" font-weight="bold" text-anchor="middle">10<tspan font-size="12.5" dy="-10">-5</tspan></text>
<text x="638.3" y="1267.5" font-size="20.5" font-family="Liberation Serif, serif" font-weight="bold" text-anchor="middle">10<tspan font-size="12.5" dy="-10">-4</tspan></text>
<text x="407" y="1303.6" font-size="27" font-family="Liberation Serif, serif" font-weight="bold" text-anchor="middle">i (A/cm<tspan font-size="17" dy="-13">2</tspan><tspan dy="13">)</tspan></text>
<text transform="translate(26.2,918.7) rotate(-90)" font-size="27" font-family="Liberation Serif, serif" font-weight="bold" text-anchor="middle">E (V<tspan font-size="17" dy="10">SCE</tspan><tspan dy="-10">)</tspan></text>
<text x="-0.5" y="616.5" font-size="45" font-family="Liberation Serif, serif" font-weight="bold" fill="#000" text-anchor="start" >(c)</text>
<rect x="879.0" y="584.0" width="604.5" height="216.5" fill="url(#gD1)"/>
<line x1="880" y1="595.1" x2="1482.5" y2="595.1" stroke="#e9e9e9" stroke-width="1" stroke-dasharray="1.5 4"/>
<line x1="880" y1="603" x2="1482.5" y2="603" stroke="#e9e9e9" stroke-width="1" stroke-dasharray="1.5 4"/>
<line x1="880" y1="610.9" x2="1482.5" y2="610.9" stroke="#e9e9e9" stroke-width="1" stroke-dasharray="1.5 4"/>
<line x1="880" y1="618.8" x2="1482.5" y2="618.8" stroke="#e9e9e9" stroke-width="1" stroke-dasharray="1.5 4"/>
<line x1="880" y1="634.6" x2="1482.5" y2="634.6" stroke="#e9e9e9" stroke-width="1" stroke-dasharray="1.5 4"/>
<line x1="880" y1="642.5" x2="1482.5" y2="642.5" stroke="#e9e9e9" stroke-width="1" stroke-dasharray="1.5 4"/>
<line x1="880" y1="650.4" x2="1482.5" y2="650.4" stroke="#e9e9e9" stroke-width="1" stroke-dasharray="1.5 4"/>
<line x1="880" y1="658.3" x2="1482.5" y2="658.3" stroke="#e9e9e9" stroke-width="1" stroke-dasharray="1.5 4"/>
<line x1="880" y1="674.1" x2="1482.5" y2="674.1" stroke="#e9e9e9" stroke-width="1" stroke-dasharray="1.5 4"/>
<line x1="880" y1="682" x2="1482.5" y2="682" stroke="#e9e9e9" stroke-width="1" stroke-dasharray="1.5 4"/>
<line x1="880" y1="689.9" x2="1482.5" y2="689.9" stroke="#e9e9e9" stroke-width="1" stroke-dasharray="1.5 4"/>
<line x1="880" y1="697.8" x2="1482.5" y2="697.8" stroke="#e9e9e9" stroke-width="1" stroke-dasharray="1.5 4"/>
<line x1="880" y1="713.6" x2="1482.5" y2="713.6" stroke="#e9e9e9" stroke-width="1" stroke-dasharray="1.5 4"/>
<line x1="880" y1="721.5" x2="1482.5" y2="721.5" stroke="#e9e9e9" stroke-width="1" stroke-dasharray="1.5 4"/>
<line x1="880" y1="729.4" x2="1482.5" y2="729.4" stroke="#e9e9e9" stroke-width="1" stroke-dasharray="1.5 4"/>
<line x1="880" y1="741.4" x2="1482.5" y2="741.4" stroke="#e9e9e9" stroke-width="1" stroke-dasharray="1.5 4"/>
<line x1="880" y1="748.7" x2="1482.5" y2="748.7" stroke="#e9e9e9" stroke-width="1" stroke-dasharray="1.5 4"/>
<line x1="880" y1="763.5" x2="1482.5" y2="763.5" stroke="#e9e9e9" stroke-width="1" stroke-dasharray="1.5 4"/>
<line x1="880" y1="770.8" x2="1482.5" y2="770.8" stroke="#e9e9e9" stroke-width="1" stroke-dasharray="1.5 4"/>
<line x1="880" y1="778.2" x2="1482.5" y2="778.2" stroke="#e9e9e9" stroke-width="1" stroke-dasharray="1.5 4"/>
<line x1="880" y1="785.5" x2="1482.5" y2="785.5" stroke="#e9e9e9" stroke-width="1" stroke-dasharray="1.5 4"/>
<line x1="880" y1="587.2" x2="1482.5" y2="587.2" stroke="#d3d3d3" stroke-width="1.2" />
<line x1="880" y1="626.7" x2="1482.5" y2="626.7" stroke="#d3d3d3" stroke-width="1.2" />
<line x1="880" y1="666.2" x2="1482.5" y2="666.2" stroke="#d3d3d3" stroke-width="1.2" />
<line x1="880" y1="705.7" x2="1482.5" y2="705.7" stroke="#d3d3d3" stroke-width="1.2" />
<line x1="880" y1="756.1" x2="1482.5" y2="756.1" stroke="#d3d3d3" stroke-width="1.2" />
<line x1="880" y1="792.9" x2="1482.5" y2="792.9" stroke="#d3d3d3" stroke-width="1.2" />
<line x1="921.4" y1="759.1" x2="921.4" y2="763.7" stroke="#b80000" stroke-width="2.4" />
<line x1="921.4" y1="779.4" x2="921.4" y2="787" stroke="#b80000" stroke-width="2.4" />
<rect x="903.7" y="763.7" width="35.4" height="15.7" fill="url(#bRed)" stroke="#b80000" stroke-width="2.5"/>
<line x1="903.7" y1="770.6" x2="939.1" y2="770.6" stroke="#b80000" stroke-width="2.5" />
<line x1="915.9" y1="759.1" x2="926.9" y2="759.1" stroke="#b80000" stroke-width="2" />
<path d="M917.9 755.6L924.9 762.6M917.9 762.6L924.9 755.6" stroke="#b80000" stroke-width="0.9" fill="none"/>
<line x1="915.9" y1="787" x2="926.9" y2="787" stroke="#b80000" stroke-width="2" />
<path d="M917.9 783.5L924.9 790.5M917.9 790.5L924.9 783.5" stroke="#b80000" stroke-width="0.9" fill="none"/>
<rect x="918.6" y="769" width="5.5" height="5.5" fill="none" stroke="#b80000" stroke-width="0.9"/>
<line x1="1007.8" y1="648.3" x2="1007.8" y2="651.8" stroke="#0a700a" stroke-width="2.4" />
<rect x="990" y="651.8" width="35.4" height="46.5" fill="url(#bGreen)" stroke="#0a700a" stroke-width="2.5"/>
<line x1="990" y1="656.4" x2="1025.5" y2="656.4" stroke="#0a700a" stroke-width="2.5" />
<line x1="1002.2" y1="648.3" x2="1013.2" y2="648.3" stroke="#0a700a" stroke-width="2" />
<path d="M1004.2 644.8L1011.2 651.8M1004.2 651.8L1011.2 644.8" stroke="#0a700a" stroke-width="0.9" fill="none"/>
<rect x="1005" y="679" width="5.5" height="5.5" fill="none" stroke="#0a700a" stroke-width="0.9"/>
<g stroke="#0a700a" stroke-width="1" stroke-dasharray="1 1.5" fill="none"><path d="M1004.2 731.5L1011.2 738.5M1004.2 738.5L1011.2 731.5"/></g>
<line x1="1094.1" y1="634.1" x2="1094.1" y2="664.5" stroke="#0a32c8" stroke-width="2.4" />
<line x1="1094.1" y1="691.9" x2="1094.1" y2="722.4" stroke="#0a32c8" stroke-width="2.4" />
<rect x="1076.4" y="664.5" width="35.4" height="27.4" fill="url(#bBlue)" stroke="#0a32c8" stroke-width="2.5"/>
<line x1="1076.4" y1="686.8" x2="1111.8" y2="686.8" stroke="#0a32c8" stroke-width="2.5" />
<line x1="1088.6" y1="634.1" x2="1099.6" y2="634.1" stroke="#0a32c8" stroke-width="2" />
<path d="M1090.6 630.6L1097.6 637.6M1090.6 637.6L1097.6 630.6" stroke="#0a32c8" stroke-width="0.9" fill="none"/>
<line x1="1088.6" y1="722.4" x2="1099.6" y2="722.4" stroke="#0a32c8" stroke-width="2" />
<path d="M1090.6 718.9L1097.6 725.9M1090.6 725.9L1097.6 718.9" stroke="#0a32c8" stroke-width="0.9" fill="none"/>
<rect x="1091.3" y="677.8" width="5.5" height="5.5" fill="none" stroke="#0a32c8" stroke-width="0.9"/>
<rect x="1162.7" y="683.3" width="35.4" height="5.1" fill="url(#bMaroon)" stroke="#700034" stroke-width="2.5"/>
<line x1="1162.7" y1="685.8" x2="1198.1" y2="685.8" stroke="#700034" stroke-width="2.5" />
<rect x="1177.7" y="677.4" width="5.5" height="5.5" fill="none" stroke="#700034" stroke-width="0.9"/>
<path d="M1176.9 646L1183.9 653M1176.9 653L1183.9 646" stroke="#700034" stroke-width="1.1" fill="none"/>
<path d="M1176.9 692.9L1183.9 699.9M1176.9 699.9L1183.9 692.9" stroke="#700034" stroke-width="1.1" fill="none"/>
<line x1="1266.8" y1="693.5" x2="1266.8" y2="702.1" stroke="#ff0a80" stroke-width="2.4" />
<rect x="1249.1" y="684.5" width="35.4" height="9" fill="url(#bPink)" stroke="#ff0a80" stroke-width="2.5"/>
<line x1="1249.1" y1="689.1" x2="1284.5" y2="689.1" stroke="#ff0a80" stroke-width="2.5" />
<line x1="1261.3" y1="702.1" x2="1272.3" y2="702.1" stroke="#ff0a80" stroke-width="2" />
<path d="M1263.3 698.6L1270.3 705.6M1263.3 705.6L1270.3 698.6" stroke="#ff0a80" stroke-width="0.9" fill="none"/>
<rect x="1264" y="685" width="5.5" height="5.5" fill="none" stroke="#ff0a80" stroke-width="0.9"/>
<path d="M1263.3 667L1270.3 674M1263.3 674L1270.3 667" stroke="#ff0a80" stroke-width="1.1" fill="none"/>
<line x1="1353.2" y1="623.9" x2="1353.2" y2="636.6" stroke="#58088f" stroke-width="2.4" />
<line x1="1353.2" y1="659.9" x2="1353.2" y2="681.4" stroke="#58088f" stroke-width="2.4" />
<rect x="1335.5" y="636.6" width="35.4" height="23.3" fill="url(#bPurple)" stroke="#58088f" stroke-width="2.5"/>
<line x1="1335.5" y1="651.6" x2="1370.9" y2="651.6" stroke="#58088f" stroke-width="2.5" />
<line x1="1347.7" y1="623.9" x2="1358.7" y2="623.9" stroke="#58088f" stroke-width="2" />
<path d="M1349.7 620.4L1356.7 627.4M1349.7 627.4L1356.7 620.4" stroke="#58088f" stroke-width="0.9" fill="none"/>
<line x1="1347.7" y1="681.4" x2="1358.7" y2="681.4" stroke="#58088f" stroke-width="2" />
<path d="M1349.7 677.9L1356.7 684.9M1349.7 684.9L1356.7 677.9" stroke="#58088f" stroke-width="0.9" fill="none"/>
<rect x="1350.4" y="646.8" width="5.5" height="5.5" fill="none" stroke="#58088f" stroke-width="0.9"/>
<line x1="1439.5" y1="675.7" x2="1439.5" y2="681.4" stroke="#7d7600" stroke-width="2.4" />
<line x1="1439.5" y1="705.5" x2="1439.5" y2="713.7" stroke="#7d7600" stroke-width="2.4" />
<rect x="1421.8" y="681.4" width="35.4" height="24.1" fill="url(#bOlive)" stroke="#7d7600" stroke-width="2.5"/>
<line x1="1421.8" y1="694.8" x2="1457.2" y2="694.8" stroke="#7d7600" stroke-width="2.5" />
<line x1="1434" y1="675.7" x2="1445" y2="675.7" stroke="#7d7600" stroke-width="2" />
<path d="M1436 672.2L1443 679.2M1436 679.2L1443 672.2" stroke="#7d7600" stroke-width="0.9" fill="none"/>
<line x1="1434" y1="713.7" x2="1445" y2="713.7" stroke="#7d7600" stroke-width="2" />
<path d="M1436 710.2L1443 717.2M1436 717.2L1443 710.2" stroke="#7d7600" stroke-width="0.9" fill="none"/>
<rect x="1436.8" y="690.2" width="5.5" height="5.5" fill="none" stroke="#7d7600" stroke-width="0.9"/>
<rect x="879.0" y="800.5" width="604.5" height="217.89999999999998" fill="url(#gD2)"/>
<line x1="880" y1="1014.3" x2="1482.5" y2="1014.3" stroke="#e9e9e9" stroke-width="1" stroke-dasharray="1.5 4"/>
<line x1="880" y1="1010.4" x2="1482.5" y2="1010.4" stroke="#e9e9e9" stroke-width="1" stroke-dasharray="1.5 4"/>
<line x1="880" y1="983.9" x2="1482.5" y2="983.9" stroke="#e9e9e9" stroke-width="1" stroke-dasharray="1.5 4"/>
<line x1="880" y1="970.5" x2="1482.5" y2="970.5" stroke="#e9e9e9" stroke-width="1" stroke-dasharray="1.5 4"/>
<line x1="880" y1="960.9" x2="1482.5" y2="960.9" stroke="#e9e9e9" stroke-width="1" stroke-dasharray="1.5 4"/>
<line x1="880" y1="953.5" x2="1482.5" y2="953.5" stroke="#e9e9e9" stroke-width="1" stroke-dasharray="1.5 4"/>
<line x1="880" y1="947.5" x2="1482.5" y2="947.5" stroke="#e9e9e9" stroke-width="1" stroke-dasharray="1.5 4"/>
<line x1="880" y1="942.4" x2="1482.5" y2="942.4" stroke="#e9e9e9" stroke-width="1" stroke-dasharray="1.5 4"/>
<line x1="880" y1="937.9" x2="1482.5" y2="937.9" stroke="#e9e9e9" stroke-width="1" stroke-dasharray="1.5 4"/>
<line x1="880" y1="934" x2="1482.5" y2="934" stroke="#e9e9e9" stroke-width="1" stroke-dasharray="1.5 4"/>
<line x1="880" y1="907.6" x2="1482.5" y2="907.6" stroke="#e9e9e9" stroke-width="1" stroke-dasharray="1.5 4"/>
<line x1="880" y1="894.1" x2="1482.5" y2="894.1" stroke="#e9e9e9" stroke-width="1" stroke-dasharray="1.5 4"/>
<line x1="880" y1="884.6" x2="1482.5" y2="884.6" stroke="#e9e9e9" stroke-width="1" stroke-dasharray="1.5 4"/>
<line x1="880" y1="877.2" x2="1482.5" y2="877.2" stroke="#e9e9e9" stroke-width="1" stroke-dasharray="1.5 4"/>
<line x1="880" y1="871.1" x2="1482.5" y2="871.1" stroke="#e9e9e9" stroke-width="1" stroke-dasharray="1.5 4"/>
<line x1="880" y1="866" x2="1482.5" y2="866" stroke="#e9e9e9" stroke-width="1" stroke-dasharray="1.5 4"/>
<line x1="880" y1="861.6" x2="1482.5" y2="861.6" stroke="#e9e9e9" stroke-width="1" stroke-dasharray="1.5 4"/>
<line x1="880" y1="857.7" x2="1482.5" y2="857.7" stroke="#e9e9e9" stroke-width="1" stroke-dasharray="1.5 4"/>
<line x1="880" y1="831.2" x2="1482.5" y2="831.2" stroke="#e9e9e9" stroke-width="1" stroke-dasharray="1.5 4"/>
<line x1="880" y1="817.8" x2="1482.5" y2="817.8" stroke="#e9e9e9" stroke-width="1" stroke-dasharray="1.5 4"/>
<line x1="880" y1="808.2" x2="1482.5" y2="808.2" stroke="#e9e9e9" stroke-width="1" stroke-dasharray="1.5 4"/>
<line x1="880" y1="854.2" x2="1482.5" y2="854.2" stroke="#d3d3d3" stroke-width="1.2" />
<line x1="880" y1="930.6" x2="1482.5" y2="930.6" stroke="#d3d3d3" stroke-width="1.2" />
<line x1="880" y1="1006.9" x2="1482.5" y2="1006.9" stroke="#d3d3d3" stroke-width="1.2" />
<line x1="921.4" y1="834.5" x2="921.4" y2="835.7" stroke="#b80000" stroke-width="2.4" />
<line x1="921.4" y1="843.3" x2="921.4" y2="844.5" stroke="#b80000" stroke-width="2.4" />
<rect x="903.7" y="835.7" width="35.4" height="7.6" fill="url(#bRed)" stroke="#b80000" stroke-width="1.8"/>
<line x1="903.7" y1="839.5" x2="939.1" y2="839.5" stroke="#b80000" stroke-width="1.8" />
<line x1="915.9" y1="834.5" x2="926.9" y2="834.5" stroke="#b80000" stroke-width="2" />
<path d="M917.9 831L924.9 838M917.9 838L924.9 831" stroke="#b80000" stroke-width="0.9" fill="none"/>
<line x1="915.9" y1="844.5" x2="926.9" y2="844.5" stroke="#b80000" stroke-width="2" />
<path d="M917.9 841L924.9 848M917.9 848L924.9 841" stroke="#b80000" stroke-width="0.9" fill="none"/>
<line x1="1007.8" y1="892.2" x2="1007.8" y2="899.6" stroke="#0a700a" stroke-width="2.4" />
<line x1="1007.8" y1="933.8" x2="1007.8" y2="956.2" stroke="#0a700a" stroke-width="2.4" />
<rect x="990" y="899.6" width="35.4" height="34.2" fill="url(#bGreen)" stroke="#0a700a" stroke-width="2.5"/>
<line x1="990" y1="933.8" x2="1025.5" y2="933.8" stroke="#0a700a" stroke-width="3.5" />
<line x1="1002.2" y1="892.2" x2="1013.2" y2="892.2" stroke="#0a700a" stroke-width="2" />
<path d="M1004.2 888.7L1011.2 895.7M1004.2 895.7L1011.2 888.7" stroke="#0a700a" stroke-width="0.9" fill="none"/>
<line x1="1002.2" y1="956.2" x2="1013.2" y2="956.2" stroke="#0a700a" stroke-width="2" />
<path d="M1004.2 952.7L1011.2 959.7M1004.2 959.7L1011.2 952.7" stroke="#0a700a" stroke-width="0.9" fill="none"/>
<rect x="1005" y="915.4" width="5.5" height="5.5" fill="none" stroke="#0a700a" stroke-width="0.9"/>
<line x1="1094.1" y1="918.6" x2="1094.1" y2="927.5" stroke="#0a32c8" stroke-width="2.4" />
<line x1="1094.1" y1="968.3" x2="1094.1" y2="975.2" stroke="#0a32c8" stroke-width="2.4" />
<rect x="1076.4" y="927.5" width="35.4" height="40.8" fill="url(#bBlue)" stroke="#0a32c8" stroke-width="2.5"/>
<line x1="1076.4" y1="951.8" x2="1111.8" y2="951.8" stroke="#0a32c8" stroke-width="2.5" />
<line x1="1088.6" y1="918.6" x2="1099.6" y2="918.6" stroke="#0a32c8" stroke-width="2.2" />
<line x1="1088.6" y1="975.2" x2="1099.6" y2="975.2" stroke="#0a32c8" stroke-width="2" />
<path d="M1090.6 971.7L1097.6 978.7M1090.6 978.7L1097.6 971.7" stroke="#0a32c8" stroke-width="0.9" fill="none"/>
<rect x="1091.3" y="933.1" width="5.5" height="5.5" fill="none" stroke="#0a32c8" stroke-width="0.9"/>
<path d="M1090.6 894.3L1097.6 901.3M1090.6 901.3L1097.6 894.3" stroke="#0a32c8" stroke-width="1.1" fill="none"/>
<rect x="1162.7" y="976.2" width="35.4" height="2.2" fill="url(#bMaroon)" stroke="#700034" stroke-width="2.5"/>
<line x1="1162.7" y1="977.3" x2="1198.1" y2="977.3" stroke="#700034" stroke-width="3" />
<rect x="1177.7" y="971.6" width="5.5" height="5.5" fill="none" stroke="#700034" stroke-width="0.9"/>
<path d="M1176.9 959.3L1183.9 966.3M1176.9 966.3L1183.9 959.3" stroke="#700034" stroke-width="1.1" fill="none"/>
<path d="M1176.9 983.3L1183.9 990.3M1176.9 990.3L1183.9 983.3" stroke="#700034" stroke-width="1.1" fill="none"/>
<line x1="1266.8" y1="964.3" x2="1266.8" y2="977.3" stroke="#ff0a80" stroke-width="2.4" />
<line x1="1266.8" y1="995.9" x2="1266.8" y2="998.5" stroke="#ff0a80" stroke-width="2.4" />
<rect x="1249.1" y="977.3" width="35.4" height="18.6" fill="url(#bPink)" stroke="#ff0a80" stroke-width="2.5"/>
<line x1="1249.1" y1="977.3" x2="1284.5" y2="977.3" stroke="#ff0a80" stroke-width="3.2" />
<line x1="1261.3" y1="964.3" x2="1272.3" y2="964.3" stroke="#ff0a80" stroke-width="2" />
<path d="M1263.3 960.8L1270.3 967.8M1263.3 967.8L1270.3 960.8" stroke="#ff0a80" stroke-width="0.9" fill="none"/>
<line x1="1261.3" y1="998.5" x2="1272.3" y2="998.5" stroke="#ff0a80" stroke-width="2" />
<path d="M1263.3 995L1270.3 1002M1263.3 1002L1270.3 995" stroke="#ff0a80" stroke-width="0.9" fill="none"/>
<rect x="1264" y="978.1" width="5.5" height="5.5" fill="none" stroke="#ff0a80" stroke-width="0.9"/>
<line x1="1353.2" y1="947.2" x2="1353.2" y2="949.3" stroke="#58088f" stroke-width="2.4" />
<line x1="1353.2" y1="969.5" x2="1353.2" y2="984.8" stroke="#58088f" stroke-width="2.4" />
<rect x="1335.5" y="949.3" width="35.4" height="20.2" fill="url(#bPurple)" stroke="#58088f" stroke-width="2.5"/>
<line x1="1335.5" y1="949.3" x2="1370.9" y2="949.3" stroke="#58088f" stroke-width="3.5" />
<line x1="1347.7" y1="947.2" x2="1358.7" y2="947.2" stroke="#58088f" stroke-width="2" />
<path d="M1349.7 943.7L1356.7 950.7M1349.7 950.7L1356.7 943.7" stroke="#58088f" stroke-width="0.9" fill="none"/>
<line x1="1347.7" y1="984.8" x2="1358.7" y2="984.8" stroke="#58088f" stroke-width="2" />
<path d="M1349.7 981.3L1356.7 988.3M1349.7 988.3L1356.7 981.3" stroke="#58088f" stroke-width="0.9" fill="none"/>
<rect x="1350.4" y="953.8" width="5.5" height="5.5" fill="none" stroke="#58088f" stroke-width="0.9"/>
<line x1="1439.5" y1="908.4" x2="1439.5" y2="915.1" stroke="#7d7600" stroke-width="2.4" />
<line x1="1439.5" y1="945.4" x2="1439.5" y2="956.3" stroke="#7d7600" stroke-width="2.4" />
<rect x="1421.8" y="915.1" width="35.4" height="30.3" fill="url(#bOlive)" stroke="#7d7600" stroke-width="2.5"/>
<line x1="1421.8" y1="931.7" x2="1457.2" y2="931.7" stroke="#7d7600" stroke-width="2.5" />
<line x1="1434" y1="908.4" x2="1445" y2="908.4" stroke="#7d7600" stroke-width="2.2" />
<line x1="1434" y1="956.3" x2="1445" y2="956.3" stroke="#7d7600" stroke-width="2" />
<path d="M1436 952.8L1443 959.8M1436 959.8L1443 952.8" stroke="#7d7600" stroke-width="0.9" fill="none"/>
<rect x="1436.8" y="915.5" width="5.5" height="5.5" fill="none" stroke="#7d7600" stroke-width="0.9"/>
<path d="M1436 876.4L1443 883.4M1436 883.4L1443 876.4" stroke="#7d7600" stroke-width="1.1" fill="none"/>
<rect x="879.0" y="1018.4" width="604.5" height="217.19999999999993" fill="url(#gD3)"/>
<line x1="880" y1="1227.5" x2="1482.5" y2="1227.5" stroke="#e9e9e9" stroke-width="1" stroke-dasharray="1.5 4"/>
<line x1="880" y1="1221.2" x2="1482.5" y2="1221.2" stroke="#e9e9e9" stroke-width="1" stroke-dasharray="1.5 4"/>
<line x1="880" y1="1201" x2="1482.5" y2="1201" stroke="#e9e9e9" stroke-width="1" stroke-dasharray="1.5 4"/>
<line x1="880" y1="1185.8" x2="1482.5" y2="1185.8" stroke="#e9e9e9" stroke-width="1" stroke-dasharray="1.5 4"/>
<line x1="880" y1="1176.8" x2="1482.5" y2="1176.8" stroke="#e9e9e9" stroke-width="1" stroke-dasharray="1.5 4"/>
<line x1="880" y1="1170.5" x2="1482.5" y2="1170.5" stroke="#e9e9e9" stroke-width="1" stroke-dasharray="1.5 4"/>
<line x1="880" y1="1150.3" x2="1482.5" y2="1150.3" stroke="#e9e9e9" stroke-width="1" stroke-dasharray="1.5 4"/>
<line x1="880" y1="1135.1" x2="1482.5" y2="1135.1" stroke="#e9e9e9" stroke-width="1" stroke-dasharray="1.5 4"/>
<line x1="880" y1="1126.1" x2="1482.5" y2="1126.1" stroke="#e9e9e9" stroke-width="1" stroke-dasharray="1.5 4"/>
<line x1="880" y1="1119.8" x2="1482.5" y2="1119.8" stroke="#e9e9e9" stroke-width="1" stroke-dasharray="1.5 4"/>
<line x1="880" y1="1099.6" x2="1482.5" y2="1099.6" stroke="#e9e9e9" stroke-width="1" stroke-dasharray="1.5 4"/>
<line x1="880" y1="1084.4" x2="1482.5" y2="1084.4" stroke="#e9e9e9" stroke-width="1" stroke-dasharray="1.5 4"/>
<line x1="880" y1="1075.4" x2="1482.5" y2="1075.4" stroke="#e9e9e9" stroke-width="1" stroke-dasharray="1.5 4"/>
<line x1="880" y1="1069.1" x2="1482.5" y2="1069.1" stroke="#e9e9e9" stroke-width="1" stroke-dasharray="1.5 4"/>
<line x1="880" y1="1048.9" x2="1482.5" y2="1048.9" stroke="#e9e9e9" stroke-width="1" stroke-dasharray="1.5 4"/>
<line x1="880" y1="1033.7" x2="1482.5" y2="1033.7" stroke="#e9e9e9" stroke-width="1" stroke-dasharray="1.5 4"/>
<line x1="880" y1="1024.7" x2="1482.5" y2="1024.7" stroke="#e9e9e9" stroke-width="1" stroke-dasharray="1.5 4"/>
<line x1="880" y1="1064.2" x2="1482.5" y2="1064.2" stroke="#d3d3d3" stroke-width="1.2" />
<line x1="880" y1="1114.9" x2="1482.5" y2="1114.9" stroke="#d3d3d3" stroke-width="1.2" />
<line x1="880" y1="1165.6" x2="1482.5" y2="1165.6" stroke="#d3d3d3" stroke-width="1.2" />
<line x1="880" y1="1216.3" x2="1482.5" y2="1216.3" stroke="#d3d3d3" stroke-width="1.2" />
<line x1="921.4" y1="1034.1" x2="921.4" y2="1036.1" stroke="#b80000" stroke-width="2.4" />
<line x1="921.4" y1="1044.8" x2="921.4" y2="1048.6" stroke="#b80000" stroke-width="2.4" />
<rect x="903.7" y="1036.1" width="35.4" height="8.7" fill="url(#bRed)" stroke="#b80000" stroke-width="2.5"/>
<line x1="903.7" y1="1040.4" x2="939.1" y2="1040.4" stroke="#b80000" stroke-width="2.5" />
<line x1="915.9" y1="1034.1" x2="926.9" y2="1034.1" stroke="#b80000" stroke-width="2" />
<path d="M917.9 1030.6L924.9 1037.6M917.9 1037.6L924.9 1030.6" stroke="#b80000" stroke-width="0.9" fill="none"/>
<line x1="915.9" y1="1048.6" x2="926.9" y2="1048.6" stroke="#b80000" stroke-width="2" />
<path d="M917.9 1045.1L924.9 1052.1M917.9 1052.1L924.9 1045.1" stroke="#b80000" stroke-width="0.9" fill="none"/>
<line x1="1007.8" y1="1138.9" x2="1007.8" y2="1141.9" stroke="#0a700a" stroke-width="2.4" />
<line x1="1007.8" y1="1170.3" x2="1007.8" y2="1172.4" stroke="#0a700a" stroke-width="2.4" />
<rect x="990" y="1141.9" width="35.4" height="28.4" fill="url(#bGreen)" stroke="#0a700a" stroke-width="2.5"/>
<line x1="990" y1="1157.1" x2="1025.5" y2="1157.1" stroke="#0a700a" stroke-width="2.5" />
<line x1="1002.2" y1="1138.9" x2="1013.2" y2="1138.9" stroke="#0a700a" stroke-width="2" />
<path d="M1004.2 1135.4L1011.2 1142.4M1004.2 1142.4L1011.2 1135.4" stroke="#0a700a" stroke-width="0.9" fill="none"/>
<line x1="1002.2" y1="1172.4" x2="1013.2" y2="1172.4" stroke="#0a700a" stroke-width="2" />
<path d="M1004.2 1168.9L1011.2 1175.9M1004.2 1175.9L1011.2 1168.9" stroke="#0a700a" stroke-width="0.9" fill="none"/>
<rect x="1005" y="1150" width="5.5" height="5.5" fill="none" stroke="#0a700a" stroke-width="0.9"/>
<line x1="1094.1" y1="1152.6" x2="1094.1" y2="1153.8" stroke="#0a32c8" stroke-width="2.4" />
<line x1="1094.1" y1="1163.5" x2="1094.1" y2="1166" stroke="#0a32c8" stroke-width="2.4" />
<rect x="1076.4" y="1153.8" width="35.4" height="9.7" fill="url(#bBlue)" stroke="#0a32c8" stroke-width="2.5"/>
<line x1="1076.4" y1="1159.7" x2="1111.8" y2="1159.7" stroke="#0a32c8" stroke-width="2.5" />
<line x1="1088.6" y1="1152.6" x2="1099.6" y2="1152.6" stroke="#0a32c8" stroke-width="2" />
<path d="M1090.6 1149.1L1097.6 1156.1M1090.6 1156.1L1097.6 1149.1" stroke="#0a32c8" stroke-width="0.9" fill="none"/>
<line x1="1088.6" y1="1166" x2="1099.6" y2="1166" stroke="#0a32c8" stroke-width="2" />
<path d="M1090.6 1162.5L1097.6 1169.5M1090.6 1169.5L1097.6 1162.5" stroke="#0a32c8" stroke-width="0.9" fill="none"/>
<path d="M1090.6 1129L1097.6 1136M1090.6 1136L1097.6 1129" stroke="#0a32c8" stroke-width="1.1" fill="none"/>
<line x1="1180.4" y1="1173.7" x2="1180.4" y2="1187.9" stroke="#700034" stroke-width="2.4" />
<line x1="1180.4" y1="1212.5" x2="1180.4" y2="1221.1" stroke="#700034" stroke-width="2.4" />
<rect x="1162.7" y="1187.9" width="35.4" height="24.6" fill="url(#bMaroon)" stroke="#700034" stroke-width="2.5"/>
<line x1="1174.9" y1="1173.7" x2="1185.9" y2="1173.7" stroke="#700034" stroke-width="2" />
<path d="M1176.9 1170.2L1183.9 1177.2M1176.9 1177.2L1183.9 1170.2" stroke="#700034" stroke-width="0.9" fill="none"/>
<line x1="1174.9" y1="1221.1" x2="1185.9" y2="1221.1" stroke="#700034" stroke-width="2" />
<path d="M1176.9 1217.6L1183.9 1224.6M1176.9 1224.6L1183.9 1217.6" stroke="#700034" stroke-width="0.9" fill="none"/>
<rect x="1177.7" y="1192" width="5.5" height="5.5" fill="none" stroke="#700034" stroke-width="0.9"/>
<line x1="1266.8" y1="1175.8" x2="1266.8" y2="1180.9" stroke="#ff0a80" stroke-width="2.4" />
<line x1="1266.8" y1="1200.4" x2="1266.8" y2="1201.7" stroke="#ff0a80" stroke-width="2.4" />
<rect x="1249.1" y="1180.9" width="35.4" height="19.5" fill="url(#bPink)" stroke="#ff0a80" stroke-width="2.5"/>
<line x1="1249.1" y1="1184" x2="1284.5" y2="1184" stroke="#ff0a80" stroke-width="2.5" />
<line x1="1261.3" y1="1175.8" x2="1272.3" y2="1175.8" stroke="#ff0a80" stroke-width="2" />
<path d="M1263.3 1172.3L1270.3 1179.3M1263.3 1179.3L1270.3 1172.3" stroke="#ff0a80" stroke-width="0.9" fill="none"/>
<line x1="1261.3" y1="1201.7" x2="1272.3" y2="1201.7" stroke="#ff0a80" stroke-width="2" />
<path d="M1263.3 1198.2L1270.3 1205.2M1263.3 1205.2L1270.3 1198.2" stroke="#ff0a80" stroke-width="0.9" fill="none"/>
<rect x="1264" y="1183.8" width="5.5" height="5.5" fill="none" stroke="#ff0a80" stroke-width="0.9"/>
<line x1="1353.2" y1="1209.4" x2="1353.2" y2="1226.3" stroke="#58088f" stroke-width="2.4" />
<rect x="1335.5" y="1197" width="35.4" height="12.4" fill="url(#bPurple)" stroke="#58088f" stroke-width="2.5"/>
<line x1="1335.5" y1="1208" x2="1370.9" y2="1208" stroke="#58088f" stroke-width="3" />
<line x1="1347.7" y1="1226.3" x2="1358.7" y2="1226.3" stroke="#58088f" stroke-width="2" />
<path d="M1349.7 1222.8L1356.7 1229.8M1349.7 1229.8L1356.7 1222.8" stroke="#58088f" stroke-width="0.9" fill="none"/>
<rect x="1350.4" y="1197.7" width="5.5" height="5.5" fill="none" stroke="#58088f" stroke-width="0.9"/>
<path d="M1349.7 1179.3L1356.7 1186.3M1349.7 1186.3L1356.7 1179.3" stroke="#58088f" stroke-width="1.1" fill="none"/>
<line x1="1439.5" y1="1171.1" x2="1439.5" y2="1178.3" stroke="#7d7600" stroke-width="2.4" />
<line x1="1439.5" y1="1188.7" x2="1439.5" y2="1194.4" stroke="#7d7600" stroke-width="2.4" />
<rect x="1421.8" y="1178.3" width="35.4" height="10.4" fill="url(#bOlive)" stroke="#7d7600" stroke-width="2.5"/>
<line x1="1421.8" y1="1184.8" x2="1457.2" y2="1184.8" stroke="#7d7600" stroke-width="2.5" />
<line x1="1434" y1="1171.1" x2="1445" y2="1171.1" stroke="#7d7600" stroke-width="2" />
<path d="M1436 1167.6L1443 1174.6M1436 1174.6L1443 1167.6" stroke="#7d7600" stroke-width="0.9" fill="none"/>
<line x1="1434" y1="1194.4" x2="1445" y2="1194.4" stroke="#7d7600" stroke-width="2" />
<path d="M1436 1190.9L1443 1197.9M1436 1197.9L1443 1190.9" stroke="#7d7600" stroke-width="0.9" fill="none"/>
<rect x="1436.8" y="1179.5" width="5.5" height="5.5" fill="none" stroke="#7d7600" stroke-width="0.9"/>
<path d="M879.0 733.6L879.0 584.0L1483.5 584.0L1483.5 733.6" fill="none" stroke="#000" stroke-width="2"/>
<path d="M879.0 737.6L879.0 1235.6L1483.5 1235.6L1483.5 737.6" fill="none" stroke="#000" stroke-width="2"/>
<line x1="879" y1="800.5" x2="1483.5" y2="800.5" stroke="#000" stroke-width="2.2" />
<line x1="879" y1="1018.4" x2="1483.5" y2="1018.4" stroke="#000" stroke-width="2.2" />
<path d="M869.5 736.1L888.5 731.5M869.5 739.8L888.5 735.2" stroke="#000" stroke-width="2" fill="none"/>
<path d="M1474 736.1L1493 731.5M1474 739.8L1493 735.2" stroke="#000" stroke-width="2" fill="none"/>
<line x1="879" y1="587.2" x2="888.3" y2="587.2" stroke="#000" stroke-width="2" />
<line x1="879" y1="595.1" x2="883.6" y2="595.1" stroke="#000" stroke-width="2" />
<line x1="879" y1="603" x2="883.6" y2="603" stroke="#000" stroke-width="2" />
<line x1="879" y1="610.9" x2="883.6" y2="610.9" stroke="#000" stroke-width="2" />
<line x1="879" y1="618.8" x2="883.6" y2="618.8" stroke="#000" stroke-width="2" />
<line x1="879" y1="626.7" x2="888.3" y2="626.7" stroke="#000" stroke-width="2" />
<line x1="879" y1="634.6" x2="883.6" y2="634.6" stroke="#000" stroke-width="2" />
<line x1="879" y1="642.5" x2="883.6" y2="642.5" stroke="#000" stroke-width="2" />
<line x1="879" y1="650.4" x2="883.6" y2="650.4" stroke="#000" stroke-width="2" />
<line x1="879" y1="658.3" x2="883.6" y2="658.3" stroke="#000" stroke-width="2" />
<line x1="879" y1="666.2" x2="888.3" y2="666.2" stroke="#000" stroke-width="2" />
<line x1="879" y1="674.1" x2="883.6" y2="674.1" stroke="#000" stroke-width="2" />
<line x1="879" y1="682" x2="883.6" y2="682" stroke="#000" stroke-width="2" />
<line x1="879" y1="689.9" x2="883.6" y2="689.9" stroke="#000" stroke-width="2" />
<line x1="879" y1="697.8" x2="883.6" y2="697.8" stroke="#000" stroke-width="2" />
<line x1="879" y1="705.7" x2="888.3" y2="705.7" stroke="#000" stroke-width="2" />
<line x1="879" y1="713.6" x2="883.6" y2="713.6" stroke="#000" stroke-width="2" />
<line x1="879" y1="721.5" x2="883.6" y2="721.5" stroke="#000" stroke-width="2" />
<line x1="879" y1="729.4" x2="883.6" y2="729.4" stroke="#000" stroke-width="2" />
<line x1="879" y1="741.4" x2="883.6" y2="741.4" stroke="#000" stroke-width="2" />
<line x1="879" y1="748.7" x2="883.6" y2="748.7" stroke="#000" stroke-width="2" />
<line x1="879" y1="756.1" x2="888.3" y2="756.1" stroke="#000" stroke-width="2" />
<line x1="879" y1="763.5" x2="883.6" y2="763.5" stroke="#000" stroke-width="2" />
<line x1="879" y1="770.8" x2="883.6" y2="770.8" stroke="#000" stroke-width="2" />
<line x1="879" y1="778.2" x2="883.6" y2="778.2" stroke="#000" stroke-width="2" />
<line x1="879" y1="785.5" x2="883.6" y2="785.5" stroke="#000" stroke-width="2" />
<line x1="879" y1="792.9" x2="888.3" y2="792.9" stroke="#000" stroke-width="2" />
<line x1="879" y1="1014.3" x2="883.6" y2="1014.3" stroke="#000" stroke-width="1.8" />
<line x1="879" y1="1010.4" x2="883.6" y2="1010.4" stroke="#000" stroke-width="1.8" />
<line x1="879" y1="1006.9" x2="888.3" y2="1006.9" stroke="#000" stroke-width="1.8" />
<line x1="879" y1="983.9" x2="883.6" y2="983.9" stroke="#000" stroke-width="1.8" />
<line x1="879" y1="970.5" x2="883.6" y2="970.5" stroke="#000" stroke-width="1.8" />
<line x1="879" y1="960.9" x2="883.6" y2="960.9" stroke="#000" stroke-width="1.8" />
<line x1="879" y1="953.5" x2="883.6" y2="953.5" stroke="#000" stroke-width="1.8" />
<line x1="879" y1="947.5" x2="883.6" y2="947.5" stroke="#000" stroke-width="1.8" />
<line x1="879" y1="942.4" x2="883.6" y2="942.4" stroke="#000" stroke-width="1.8" />
<line x1="879" y1="937.9" x2="883.6" y2="937.9" stroke="#000" stroke-width="1.8" />
<line x1="879" y1="934" x2="883.6" y2="934" stroke="#000" stroke-width="1.8" />
<line x1="879" y1="930.6" x2="888.3" y2="930.6" stroke="#000" stroke-width="1.8" />
<line x1="879" y1="907.6" x2="883.6" y2="907.6" stroke="#000" stroke-width="1.8" />
<line x1="879" y1="894.1" x2="883.6" y2="894.1" stroke="#000" stroke-width="1.8" />
<line x1="879" y1="884.6" x2="883.6" y2="884.6" stroke="#000" stroke-width="1.8" />
<line x1="879" y1="877.2" x2="883.6" y2="877.2" stroke="#000" stroke-width="1.8" />
<line x1="879" y1="871.1" x2="883.6" y2="871.1" stroke="#000" stroke-width="1.8" />
<line x1="879" y1="866" x2="883.6" y2="866" stroke="#000" stroke-width="1.8" />
<line x1="879" y1="861.6" x2="883.6" y2="861.6" stroke="#000" stroke-width="1.8" />
<line x1="879" y1="857.7" x2="883.6" y2="857.7" stroke="#000" stroke-width="1.8" />
<line x1="879" y1="854.2" x2="888.3" y2="854.2" stroke="#000" stroke-width="1.8" />
<line x1="879" y1="831.2" x2="883.6" y2="831.2" stroke="#000" stroke-width="1.8" />
<line x1="879" y1="817.8" x2="883.6" y2="817.8" stroke="#000" stroke-width="1.8" />
<line x1="879" y1="808.2" x2="883.6" y2="808.2" stroke="#000" stroke-width="1.8" />
<line x1="879" y1="1231.6" x2="883.6" y2="1231.6" stroke="#000" stroke-width="1.8" />
<line x1="879" y1="1227.5" x2="883.6" y2="1227.5" stroke="#000" stroke-width="1.8" />
<line x1="879" y1="1224.2" x2="883.6" y2="1224.2" stroke="#000" stroke-width="1.8" />
<line x1="879" y1="1221.2" x2="883.6" y2="1221.2" stroke="#000" stroke-width="1.8" />
<line x1="879" y1="1218.6" x2="883.6" y2="1218.6" stroke="#000" stroke-width="1.8" />
<line x1="879" y1="1216.3" x2="888.3" y2="1216.3" stroke="#000" stroke-width="1.8" />
<line x1="879" y1="1201" x2="883.6" y2="1201" stroke="#000" stroke-width="1.8" />
<line x1="879" y1="1192.1" x2="883.6" y2="1192.1" stroke="#000" stroke-width="1.8" />
<line x1="879" y1="1185.8" x2="883.6" y2="1185.8" stroke="#000" stroke-width="1.8" />
<line x1="879" y1="1180.9" x2="883.6" y2="1180.9" stroke="#000" stroke-width="1.8" />
<line x1="879" y1="1176.8" x2="883.6" y2="1176.8" stroke="#000" stroke-width="1.8" />
<line x1="879" y1="1173.5" x2="883.6" y2="1173.5" stroke="#000" stroke-width="1.8" />
<line x1="879" y1="1170.5" x2="883.6" y2="1170.5" stroke="#000" stroke-width="1.8" />
<line x1="879" y1="1167.9" x2="883.6" y2="1167.9" stroke="#000" stroke-width="1.8" />
<line x1="879" y1="1165.6" x2="888.3" y2="1165.6" stroke="#000" stroke-width="1.8" />
<line x1="879" y1="1150.3" x2="883.6" y2="1150.3" stroke="#000" stroke-width="1.8" />
<line x1="879" y1="1141.4" x2="883.6" y2="1141.4" stroke="#000" stroke-width="1.8" />
<line x1="879" y1="1135.1" x2="883.6" y2="1135.1" stroke="#000" stroke-width="1.8" />
<line x1="879" y1="1130.2" x2="883.6" y2="1130.2" stroke="#000" stroke-width="1.8" />
<line x1="879" y1="1126.1" x2="883.6" y2="1126.1" stroke="#000" stroke-width="1.8" />
<line x1="879" y1="1122.8" x2="883.6" y2="1122.8" stroke="#000" stroke-width="1.8" />
<line x1="879" y1="1119.8" x2="883.6" y2="1119.8" stroke="#000" stroke-width="1.8" />
<line x1="879" y1="1117.2" x2="883.6" y2="1117.2" stroke="#000" stroke-width="1.8" />
<line x1="879" y1="1114.9" x2="888.3" y2="1114.9" stroke="#000" stroke-width="1.8" />
<line x1="879" y1="1099.6" x2="883.6" y2="1099.6" stroke="#000" stroke-width="1.8" />
<line x1="879" y1="1090.7" x2="883.6" y2="1090.7" stroke="#000" stroke-width="1.8" />
<line x1="879" y1="1084.4" x2="883.6" y2="1084.4" stroke="#000" stroke-width="1.8" />
<line x1="879" y1="1079.5" x2="883.6" y2="1079.5" stroke="#000" stroke-width="1.8" />
<line x1="879" y1="1075.4" x2="883.6" y2="1075.4" stroke="#000" stroke-width="1.8" />
<line x1="879" y1="1072.1" x2="883.6" y2="1072.1" stroke="#000" stroke-width="1.8" />
<line x1="879" y1="1069.1" x2="883.6" y2="1069.1" stroke="#000" stroke-width="1.8" />
<line x1="879" y1="1066.5" x2="883.6" y2="1066.5" stroke="#000" stroke-width="1.8" />
<line x1="879" y1="1064.2" x2="888.3" y2="1064.2" stroke="#000" stroke-width="1.8" />
<line x1="879" y1="1048.9" x2="883.6" y2="1048.9" stroke="#000" stroke-width="1.8" />
<line x1="879" y1="1040" x2="883.6" y2="1040" stroke="#000" stroke-width="1.8" />
<line x1="879" y1="1033.7" x2="883.6" y2="1033.7" stroke="#000" stroke-width="1.8" />
<line x1="879" y1="1028.8" x2="883.6" y2="1028.8" stroke="#000" stroke-width="1.8" />
<line x1="879" y1="1024.7" x2="883.6" y2="1024.7" stroke="#000" stroke-width="1.8" />
<line x1="879" y1="1021.4" x2="883.6" y2="1021.4" stroke="#000" stroke-width="1.8" />
<line x1="921.4" y1="800.5" x2="921.4" y2="791" stroke="#000" stroke-width="2" />
<line x1="1007.8" y1="800.5" x2="1007.8" y2="791" stroke="#000" stroke-width="2" />
<line x1="1094.1" y1="800.5" x2="1094.1" y2="791" stroke="#000" stroke-width="2" />
<line x1="1180.4" y1="800.5" x2="1180.4" y2="791" stroke="#000" stroke-width="2" />
<line x1="1266.8" y1="800.5" x2="1266.8" y2="791" stroke="#000" stroke-width="2" />
<line x1="1353.2" y1="800.5" x2="1353.2" y2="791" stroke="#000" stroke-width="2" />
<line x1="1439.5" y1="800.5" x2="1439.5" y2="791" stroke="#000" stroke-width="2" />
<line x1="921.4" y1="1018.4" x2="921.4" y2="1008.9" stroke="#000" stroke-width="2" />
<line x1="1007.8" y1="1018.4" x2="1007.8" y2="1008.9" stroke="#000" stroke-width="2" />
<line x1="1094.1" y1="1018.4" x2="1094.1" y2="1008.9" stroke="#000" stroke-width="2" />
<line x1="1180.4" y1="1018.4" x2="1180.4" y2="1008.9" stroke="#000" stroke-width="2" />
<line x1="1266.8" y1="1018.4" x2="1266.8" y2="1008.9" stroke="#000" stroke-width="2" />
<line x1="1353.2" y1="1018.4" x2="1353.2" y2="1008.9" stroke="#000" stroke-width="2" />
<line x1="1439.5" y1="1018.4" x2="1439.5" y2="1008.9" stroke="#000" stroke-width="2" />
<line x1="921.4" y1="1235.6" x2="921.4" y2="1226.1" stroke="#000" stroke-width="2" />
<line x1="1007.8" y1="1235.6" x2="1007.8" y2="1226.1" stroke="#000" stroke-width="2" />
<line x1="1094.1" y1="1235.6" x2="1094.1" y2="1226.1" stroke="#000" stroke-width="2" />
<line x1="1180.4" y1="1235.6" x2="1180.4" y2="1226.1" stroke="#000" stroke-width="2" />
<line x1="1266.8" y1="1235.6" x2="1266.8" y2="1226.1" stroke="#000" stroke-width="2" />
<line x1="1353.2" y1="1235.6" x2="1353.2" y2="1226.1" stroke="#000" stroke-width="2" />
<line x1="1439.5" y1="1235.6" x2="1439.5" y2="1226.1" stroke="#000" stroke-width="2" />
<text x="868.3" y="593.6" font-size="18.5" font-family="Liberation Serif, serif" font-weight="bold" fill="#000" text-anchor="end" >0.1</text>
<text x="868.3" y="633.1" font-size="18.5" font-family="Liberation Serif, serif" font-weight="bold" fill="#000" text-anchor="end" >0.0</text>
<text x="868.3" y="672.6" font-size="18.5" font-family="Liberation Serif, serif" font-weight="bold" fill="#000" text-anchor="end" >-0.1</text>
<text x="868.3" y="712.1" font-size="18.5" font-family="Liberation Serif, serif" font-weight="bold" fill="#000" text-anchor="end" >-0.2</text>
<text x="868.3" y="762.5" font-size="18.5" font-family="Liberation Serif, serif" font-weight="bold" fill="#000" text-anchor="end" >-0.8</text>
<text x="868.3" y="799.3" font-size="18.5" font-family="Liberation Serif, serif" font-weight="bold" fill="#000" text-anchor="end" >-0.9</text>
<text x="858" y="861.7" font-size="18.5" font-family="Liberation Serif, serif" font-weight="bold" text-anchor="end">10</text>
<text x="858.3" y="853" font-size="12.5" font-family="Liberation Serif, serif" font-weight="bold" text-anchor="start">-5</text>
<text x="858" y="938.1" font-size="18.5" font-family="Liberation Serif, serif" font-weight="bold" text-anchor="end">10</text>
<text x="858.3" y="929.4" font-size="12.5" font-family="Liberation Serif, serif" font-weight="bold" text-anchor="start">-6</text>
<text x="858" y="1014.4" font-size="18.5" font-family="Liberation Serif, serif" font-weight="bold" text-anchor="end">10</text>
<text x="858.3" y="1005.7" font-size="12.5" font-family="Liberation Serif, serif" font-weight="bold" text-anchor="start">-7</text>
<text x="858" y="1071.7" font-size="18.5" font-family="Liberation Serif, serif" font-weight="bold" text-anchor="end">10</text>
<text x="858.3" y="1063" font-size="12.5" font-family="Liberation Serif, serif" font-weight="bold" text-anchor="start">-4</text>
<text x="858" y="1122.4" font-size="18.5" font-family="Liberation Serif, serif" font-weight="bold" text-anchor="end">10</text>
<text x="858.3" y="1113.7" font-size="12.5" font-family="Liberation Serif, serif" font-weight="bold" text-anchor="start">-5</text>
<text x="858" y="1173.1" font-size="18.5" font-family="Liberation Serif, serif" font-weight="bold" text-anchor="end">10</text>
<text x="858.3" y="1164.4" font-size="12.5" font-family="Liberation Serif, serif" font-weight="bold" text-anchor="start">-6</text>
<text x="858" y="1223.8" font-size="18.5" font-family="Liberation Serif, serif" font-weight="bold" text-anchor="end">10</text>
<text x="858.3" y="1215.1" font-size="12.5" font-family="Liberation Serif, serif" font-weight="bold" text-anchor="start">-7</text>
<text x="921.4" y="1256.4" font-size="17.5" font-family="Liberation Serif, serif" font-weight="bold" fill="#000" text-anchor="middle" >As-received</text>
<text x="1007.8" y="1259" font-size="17.5" font-family="Liberation Serif, serif" font-weight="bold" fill="#000" text-anchor="middle" >500°C-2h</text>
<text x="1094.1" y="1259" font-size="17.5" font-family="Liberation Serif, serif" font-weight="bold" fill="#000" text-anchor="middle" >500°C-24h</text>
<text x="1180.4" y="1259" font-size="17.5" font-family="Liberation Serif, serif" font-weight="bold" fill="#000" text-anchor="middle" >650°C-2h</text>
<text x="1266.8" y="1259" font-size="17.5" font-family="Liberation Serif, serif" font-weight="bold" fill="#000" text-anchor="middle" >650°C-24h</text>
<text x="1353.2" y="1259" font-size="17.5" font-family="Liberation Serif, serif" font-weight="bold" fill="#000" text-anchor="middle" >800°C-2h</text>
<text x="1439.5" y="1259" font-size="17.5" font-family="Liberation Serif, serif" font-weight="bold" fill="#000" text-anchor="middle" >800°C-24h</text>
<text x="1182.2" y="1291.8" font-size="25.5" font-family="Liberation Serif, serif" font-weight="bold" fill="#000" text-anchor="middle" >Thermal oxidation conditions</text>
<text x="1234.3" y="844.4" font-size="26.5" font-family="Liberation Serif, serif" font-weight="bold"><tspan font-style="italic">i</tspan><tspan font-size="17" dy="5">a</tspan><tspan dy="-5"> at 1 V</tspan><tspan font-size="17" dy="5">SCE</tspan></text>
<text x="1227.8" y="1054.5" font-size="26.5" font-family="Liberation Serif, serif" font-weight="bold"><tspan font-style="italic">i</tspan><tspan font-size="17" dy="5">c</tspan><tspan dy="-5"> at -0.2 V</tspan><tspan font-size="17" dy="5">OCP</tspan></text>
<text transform="translate(816.7,711.3) rotate(-90)" font-size="26" font-family="Liberation Serif, serif" font-weight="bold" text-anchor="middle"><tspan font-style="italic">E</tspan><tspan font-size="16" dy="10">corr</tspan><tspan dy="-10"> (V</tspan><tspan font-size="16" dy="10">SCE</tspan><tspan dy="-10">)</tspan></text>
<text transform="translate(822,904.4) rotate(-90)" font-size="26" font-family="Liberation Serif, serif" font-weight="bold" text-anchor="middle"><tspan font-style="italic">i</tspan><tspan font-size="16" dy="3.5">a</tspan><tspan dy="-3.5"> (A/cm</tspan><tspan font-size="17" dy="-12.2">2</tspan><tspan dy="12.2">)</tspan></text>
<text transform="translate(822,1140) rotate(-90)" font-size="26" font-family="Liberation Serif, serif" font-weight="bold" text-anchor="middle"><tspan font-style="italic">i</tspan><tspan font-size="16" dy="3.5">c</tspan><tspan dy="-3.5"> (A/cm</tspan><tspan font-size="17" dy="-12.2">2</tspan><tspan dy="12.2">)</tspan></text>
<text x="764" y="614" font-size="45" font-family="Liberation Serif, serif" font-weight="bold" fill="#000" text-anchor="start" >(d)</text>
</svg></body></html>
